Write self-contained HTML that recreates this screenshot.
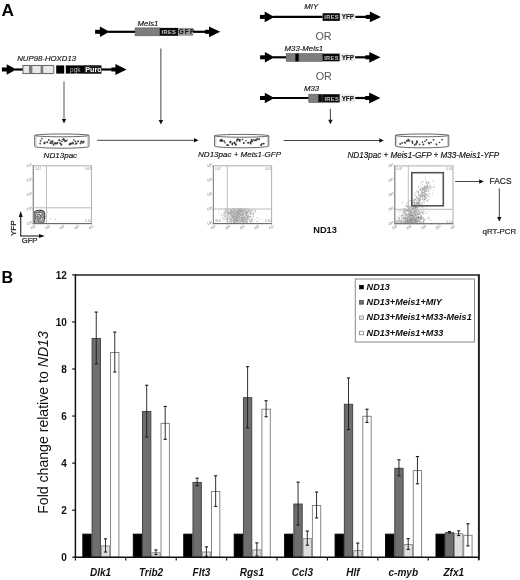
<!DOCTYPE html>
<html><head><meta charset="utf-8"><title>Figure</title>
<style>
html,body{margin:0;padding:0;background:#fff;}
body{width:520px;height:580px;overflow:hidden;}
svg{display:block;font-family:'Liberation Sans', Arial, sans-serif;}
</style></head>
<body>
<svg width="520" height="580" viewBox="0 0 520 580">
<rect x="1.90" y="67.50" width="5.40" height="4.00" fill="#000" stroke="none" stroke-width="0" />
<polygon points="6.70,64.20 16.30,69.50 6.70,74.80" fill="#000"/>
<line x1="14.90" y1="69.50" x2="23.00" y2="69.50" stroke="#000" stroke-width="2.2" />
<rect x="22.90" y="65.40" width="30.50" height="8.20" fill="#e9e9e9" stroke="#555" stroke-width="0.9" />
<rect x="29.00" y="65.80" width="3.40" height="7.40" fill="#7a7a7a" stroke="none" stroke-width="0" />
<rect x="40.60" y="65.80" width="2.60" height="7.40" fill="#7a7a7a" stroke="none" stroke-width="0" />
<rect x="53.20" y="65.40" width="1.40" height="8.20" fill="#999" stroke="none" stroke-width="0" />
<rect x="54.60" y="65.40" width="1.60" height="8.20" fill="#fff" stroke="none" stroke-width="0" />
<rect x="56.20" y="65.40" width="8.00" height="8.20" fill="#000" stroke="none" stroke-width="0" />
<rect x="65.80" y="65.40" width="35.50" height="8.20" fill="#000" stroke="none" stroke-width="0" />
<rect x="84.20" y="65.70" width="17.10" height="7.60" fill="#1c1c1c" stroke="none" stroke-width="0" />
<text x="70.0" y="72.3" font-size="6.6" font-weight="normal" font-style="normal" fill="#bbb" text-anchor="start" >pgk</text>
<text x="85.3" y="72.4" font-size="7.2" font-weight="bold" font-style="normal" fill="#fff" text-anchor="start" >Puro</text>
<line x1="101.30" y1="69.50" x2="113.60" y2="69.50" stroke="#000" stroke-width="2.2" />
<rect x="111.40" y="67.50" width="5.20" height="4.00" fill="#000" stroke="none" stroke-width="0" />
<polygon points="115.40,64.10 126.60,69.50 115.40,74.90" fill="#000"/>
<text x="17.2" y="61.3" font-size="7.8" font-weight="normal" font-style="italic" fill="#111" text-anchor="start" stroke="#111" stroke-width="0.15" >NUP98-HOXD13</text>
<rect x="95.10" y="29.80" width="5.40" height="4.00" fill="#000" stroke="none" stroke-width="0" />
<polygon points="99.90,26.50 109.50,31.80 99.90,37.10" fill="#000"/>
<line x1="108.10" y1="31.80" x2="135.10" y2="31.80" stroke="#000" stroke-width="2.2" />
<rect x="135.10" y="27.90" width="24.70" height="7.90" fill="#7d7d7d" stroke="#555" stroke-width="0.6" />
<rect x="159.80" y="27.90" width="18.30" height="7.90" fill="#0a0a0a" stroke="none" stroke-width="0" />
<rect x="178.10" y="27.90" width="15.20" height="7.90" fill="#9a9a9a" stroke="none" stroke-width="0" />
<text x="161.6" y="34.0" font-size="5.7" font-weight="bold" font-style="normal" fill="#ccc" text-anchor="start" letter-spacing="0.35">IRES</text>
<text x="178.5" y="34.4" font-size="6.8" font-weight="bold" font-style="normal" fill="#111" text-anchor="start" letter-spacing="1.0">GFP</text>
<line x1="193.30" y1="31.80" x2="207.20" y2="31.80" stroke="#000" stroke-width="2.2" />
<rect x="205.00" y="29.80" width="5.20" height="4.00" fill="#000" stroke="none" stroke-width="0" />
<polygon points="209.00,26.40 220.20,31.80 209.00,37.20" fill="#000"/>
<text x="137.6" y="25.8" font-size="7.8" font-weight="normal" font-style="italic" fill="#111" text-anchor="start" stroke="#111" stroke-width="0.15" >Meis1</text>
<rect x="259.90" y="14.90" width="5.40" height="4.00" fill="#000" stroke="none" stroke-width="0" />
<polygon points="264.70,11.60 274.30,16.90 264.70,22.20" fill="#000"/>
<line x1="272.90" y1="16.90" x2="322.60" y2="16.90" stroke="#000" stroke-width="2.2" />
<rect x="322.60" y="13.20" width="17.30" height="7.70" fill="#0a0a0a" stroke="none" stroke-width="0" />
<rect x="339.90" y="13.20" width="15.40" height="7.70" fill="#ededed" stroke="none" stroke-width="0" />
<text x="324.3" y="19.3" font-size="5.7" font-weight="bold" font-style="normal" fill="#c8c8c8" text-anchor="start" letter-spacing="0.35">IRES</text>
<text x="341.8" y="19.4" font-size="6.3" font-weight="bold" font-style="normal" fill="#111" text-anchor="start" stroke="#111" stroke-width="0.12" letter-spacing="-0.05">YFP</text>
<line x1="355.30" y1="16.90" x2="368.00" y2="16.90" stroke="#000" stroke-width="2.2" />
<rect x="365.80" y="14.90" width="5.20" height="4.00" fill="#000" stroke="none" stroke-width="0" />
<polygon points="369.80,11.50 381.00,16.90 369.80,22.30" fill="#000"/>
<text x="304.3" y="9.3" font-size="7.8" font-weight="normal" font-style="italic" fill="#111" text-anchor="start" stroke="#111" stroke-width="0.15" >MIY</text>
<text x="315.4" y="39.9" font-size="10.8" font-weight="normal" font-style="normal" fill="#555" text-anchor="start" >OR</text>
<rect x="260.10" y="55.30" width="5.40" height="4.00" fill="#000" stroke="none" stroke-width="0" />
<polygon points="264.90,52.00 274.50,57.30 264.90,62.60" fill="#000"/>
<line x1="273.10" y1="57.30" x2="286.20" y2="57.30" stroke="#000" stroke-width="2.2" />
<rect x="286.20" y="53.60" width="36.40" height="7.70" fill="#7d7d7d" stroke="#555" stroke-width="0.6" />
<rect x="295.40" y="53.60" width="3.30" height="7.70" fill="#000" stroke="none" stroke-width="0" />
<rect x="322.60" y="53.60" width="17.20" height="7.70" fill="#0a0a0a" stroke="none" stroke-width="0" />
<rect x="339.80" y="53.60" width="15.30" height="7.70" fill="#ededed" stroke="none" stroke-width="0" />
<text x="324.2" y="59.7" font-size="5.7" font-weight="bold" font-style="normal" fill="#c8c8c8" text-anchor="start" letter-spacing="0.35">IRES</text>
<text x="341.7" y="59.8" font-size="6.3" font-weight="bold" font-style="normal" fill="#111" text-anchor="start" stroke="#111" stroke-width="0.12" letter-spacing="-0.05">YFP</text>
<line x1="355.10" y1="57.30" x2="367.50" y2="57.30" stroke="#000" stroke-width="2.2" />
<rect x="365.30" y="55.30" width="5.20" height="4.00" fill="#000" stroke="none" stroke-width="0" />
<polygon points="369.30,51.90 380.50,57.30 369.30,62.70" fill="#000"/>
<text x="284.6" y="51.2" font-size="7.8" font-weight="normal" font-style="italic" fill="#111" text-anchor="start" stroke="#111" stroke-width="0.15" >M33-Meis1</text>
<text x="315.7" y="79.8" font-size="10.8" font-weight="normal" font-style="normal" fill="#555" text-anchor="start" >OR</text>
<rect x="260.00" y="96.00" width="5.40" height="4.00" fill="#000" stroke="none" stroke-width="0" />
<polygon points="264.80,92.70 274.40,98.00 264.80,103.30" fill="#000"/>
<line x1="273.00" y1="98.00" x2="308.80" y2="98.00" stroke="#000" stroke-width="2.2" />
<rect x="308.80" y="94.20" width="9.50" height="8.30" fill="#7d7d7d" stroke="#555" stroke-width="0.6" />
<rect x="318.30" y="94.20" width="21.50" height="8.30" fill="#0a0a0a" stroke="none" stroke-width="0" />
<line x1="322.00" y1="94.70" x2="322.00" y2="102.00" stroke="#bbb" stroke-width="0.6" stroke-dasharray="1,1"/>
<rect x="339.80" y="94.20" width="15.50" height="8.30" fill="#ededed" stroke="none" stroke-width="0" />
<text x="324.4" y="100.5" font-size="5.7" font-weight="bold" font-style="normal" fill="#c8c8c8" text-anchor="start" letter-spacing="0.35">IRES</text>
<text x="341.7" y="100.6" font-size="6.3" font-weight="bold" font-style="normal" fill="#111" text-anchor="start" stroke="#111" stroke-width="0.12" letter-spacing="-0.05">YFP</text>
<line x1="355.30" y1="98.00" x2="367.40" y2="98.00" stroke="#000" stroke-width="2.2" />
<rect x="365.20" y="96.00" width="5.20" height="4.00" fill="#000" stroke="none" stroke-width="0" />
<polygon points="369.20,92.60 380.40,98.00 369.20,103.40" fill="#000"/>
<text x="303.9" y="90.6" font-size="7.8" font-weight="normal" font-style="italic" fill="#111" text-anchor="start" stroke="#111" stroke-width="0.15" >M33</text>
<line x1="64.00" y1="81.40" x2="64.00" y2="119.90" stroke="#555" stroke-width="1" />
<polygon points="61.80,118.90 66.20,118.90 64.00,123.40" fill="#111"/>
<line x1="160.90" y1="48.50" x2="160.90" y2="120.90" stroke="#444" stroke-width="1" />
<polygon points="158.70,119.90 163.10,119.90 160.90,124.40" fill="#111"/>
<line x1="330.40" y1="108.70" x2="330.40" y2="120.70" stroke="#444" stroke-width="1" />
<polygon points="328.20,119.70 332.60,119.70 330.40,124.20" fill="#111"/>
<line x1="97.30" y1="140.30" x2="195.00" y2="140.30" stroke="#444" stroke-width="1" />
<polygon points="194.00,138.10 194.00,142.50 198.50,140.30" fill="#111"/>
<line x1="283.70" y1="140.50" x2="380.30" y2="140.50" stroke="#444" stroke-width="1" />
<polygon points="379.30,138.30 379.30,142.70 383.80,140.50" fill="#111"/>
<line x1="455.20" y1="181.50" x2="480.20" y2="181.50" stroke="#444" stroke-width="1" />
<polygon points="479.20,179.30 479.20,183.70 483.70,181.50" fill="#111"/>
<line x1="499.30" y1="188.40" x2="499.30" y2="218.00" stroke="#444" stroke-width="1" />
<polygon points="497.10,217.00 501.50,217.00 499.30,221.50" fill="#111"/>
<path d="M34.70,135.40 L34.70,146.40 A27.15,1.80 0 0 0 89.00,146.40 L89.00,135.40" fill="#fff" stroke="#555" stroke-width="0.9"/>
<ellipse cx="61.85" cy="135.40" rx="27.15" ry="1.40" fill="#fff" stroke="#555" stroke-width="0.9"/>
<line x1="36.00" y1="136.60" x2="36.00" y2="145.90" stroke="#aaa" stroke-width="0.6" />
<line x1="87.70" y1="136.60" x2="87.70" y2="145.90" stroke="#aaa" stroke-width="0.6" />
<circle cx="40.17" cy="143.61" r="0.88" fill="#3c3c3c"/>
<circle cx="40.53" cy="140.77" r="0.87" fill="#3c3c3c"/>
<circle cx="41.85" cy="138.60" r="0.87" fill="#3c3c3c"/>
<circle cx="43.93" cy="143.12" r="0.78" fill="#3c3c3c"/>
<circle cx="44.80" cy="142.39" r="0.82" fill="#3c3c3c"/>
<circle cx="44.83" cy="143.61" r="0.82" fill="#3c3c3c"/>
<circle cx="47.26" cy="142.33" r="0.97" fill="#3c3c3c"/>
<circle cx="48.85" cy="139.90" r="0.93" fill="#3c3c3c"/>
<circle cx="51.12" cy="141.30" r="0.83" fill="#3c3c3c"/>
<circle cx="51.24" cy="142.11" r="0.98" fill="#3c3c3c"/>
<circle cx="50.19" cy="143.03" r="0.88" fill="#3c3c3c"/>
<circle cx="51.99" cy="143.26" r="0.94" fill="#3c3c3c"/>
<circle cx="52.66" cy="141.19" r="0.92" fill="#3c3c3c"/>
<circle cx="53.47" cy="144.85" r="0.87" fill="#3c3c3c"/>
<circle cx="55.57" cy="143.12" r="0.82" fill="#3c3c3c"/>
<circle cx="54.42" cy="143.20" r="0.97" fill="#3c3c3c"/>
<circle cx="55.39" cy="143.73" r="0.85" fill="#3c3c3c"/>
<circle cx="57.50" cy="142.79" r="0.93" fill="#3c3c3c"/>
<circle cx="57.00" cy="143.44" r="0.98" fill="#3c3c3c"/>
<circle cx="59.29" cy="140.13" r="0.78" fill="#3c3c3c"/>
<circle cx="59.84" cy="140.50" r="0.81" fill="#3c3c3c"/>
<circle cx="59.18" cy="140.28" r="0.85" fill="#3c3c3c"/>
<circle cx="60.99" cy="143.91" r="0.78" fill="#3c3c3c"/>
<circle cx="60.30" cy="143.18" r="0.90" fill="#3c3c3c"/>
<circle cx="61.44" cy="144.80" r="0.95" fill="#3c3c3c"/>
<circle cx="62.99" cy="139.56" r="0.77" fill="#3c3c3c"/>
<circle cx="61.81" cy="141.31" r="0.82" fill="#3c3c3c"/>
<circle cx="63.38" cy="139.26" r="0.89" fill="#3c3c3c"/>
<circle cx="63.56" cy="139.55" r="0.93" fill="#3c3c3c"/>
<circle cx="64.08" cy="139.68" r="0.87" fill="#3c3c3c"/>
<circle cx="65.02" cy="141.00" r="0.97" fill="#3c3c3c"/>
<circle cx="65.60" cy="141.26" r="0.90" fill="#3c3c3c"/>
<circle cx="66.84" cy="140.39" r="0.81" fill="#3c3c3c"/>
<circle cx="70.16" cy="144.57" r="0.92" fill="#3c3c3c"/>
<circle cx="69.21" cy="144.29" r="0.78" fill="#3c3c3c"/>
<circle cx="70.32" cy="143.51" r="0.98" fill="#3c3c3c"/>
<circle cx="71.79" cy="143.53" r="0.96" fill="#3c3c3c"/>
<circle cx="72.82" cy="142.60" r="0.89" fill="#3c3c3c"/>
<circle cx="73.34" cy="143.79" r="0.82" fill="#3c3c3c"/>
<circle cx="75.31" cy="141.36" r="0.91" fill="#3c3c3c"/>
<circle cx="73.81" cy="139.85" r="0.79" fill="#3c3c3c"/>
<circle cx="75.68" cy="144.03" r="0.84" fill="#3c3c3c"/>
<circle cx="76.40" cy="143.14" r="0.96" fill="#3c3c3c"/>
<circle cx="78.03" cy="141.27" r="0.94" fill="#3c3c3c"/>
<circle cx="80.56" cy="143.40" r="0.85" fill="#3c3c3c"/>
<circle cx="81.94" cy="141.24" r="0.78" fill="#3c3c3c"/>
<circle cx="81.22" cy="141.50" r="0.89" fill="#3c3c3c"/>
<circle cx="81.46" cy="141.93" r="0.88" fill="#3c3c3c"/>
<circle cx="82.96" cy="142.87" r="0.94" fill="#3c3c3c"/>
<circle cx="83.83" cy="141.68" r="0.90" fill="#3c3c3c"/>
<path d="M214.60,135.80 L214.60,146.00 A27.10,1.80 0 0 0 268.80,146.00 L268.80,135.80" fill="#fff" stroke="#555" stroke-width="0.9"/>
<ellipse cx="241.70" cy="135.80" rx="27.10" ry="1.40" fill="#fff" stroke="#555" stroke-width="0.9"/>
<line x1="215.90" y1="137.00" x2="215.90" y2="145.50" stroke="#aaa" stroke-width="0.6" />
<line x1="267.50" y1="137.00" x2="267.50" y2="145.50" stroke="#aaa" stroke-width="0.6" />
<circle cx="220.20" cy="140.50" r="0.92" fill="#333"/>
<circle cx="221.61" cy="139.52" r="0.86" fill="#333"/>
<circle cx="221.28" cy="140.99" r="0.99" fill="#333"/>
<circle cx="222.28" cy="140.52" r="0.87" fill="#333"/>
<circle cx="224.09" cy="141.22" r="0.86" fill="#333"/>
<circle cx="225.09" cy="142.74" r="0.81" fill="#333"/>
<circle cx="227.01" cy="145.10" r="0.95" fill="#333"/>
<circle cx="228.00" cy="145.13" r="0.94" fill="#333"/>
<circle cx="230.61" cy="141.70" r="0.94" fill="#333"/>
<circle cx="230.17" cy="142.48" r="0.89" fill="#333"/>
<circle cx="232.31" cy="144.34" r="0.87" fill="#333"/>
<circle cx="232.50" cy="143.53" r="0.93" fill="#333"/>
<circle cx="234.61" cy="143.08" r="0.95" fill="#333"/>
<circle cx="234.49" cy="142.56" r="0.94" fill="#333"/>
<circle cx="235.91" cy="144.25" r="0.91" fill="#333"/>
<circle cx="235.63" cy="144.83" r="0.88" fill="#333"/>
<circle cx="237.42" cy="139.31" r="0.95" fill="#333"/>
<circle cx="238.60" cy="139.56" r="0.90" fill="#333"/>
<circle cx="236.89" cy="140.82" r="0.92" fill="#333"/>
<circle cx="239.53" cy="139.90" r="0.96" fill="#333"/>
<circle cx="239.85" cy="141.22" r="0.78" fill="#333"/>
<circle cx="239.75" cy="139.80" r="0.92" fill="#333"/>
<circle cx="242.46" cy="139.51" r="0.80" fill="#333"/>
<circle cx="243.80" cy="142.90" r="0.99" fill="#333"/>
<circle cx="245.97" cy="140.77" r="0.79" fill="#333"/>
<circle cx="248.13" cy="142.67" r="0.97" fill="#333"/>
<circle cx="250.66" cy="142.50" r="0.92" fill="#333"/>
<circle cx="250.44" cy="142.32" r="0.94" fill="#333"/>
<circle cx="250.64" cy="143.60" r="0.94" fill="#333"/>
<circle cx="251.53" cy="140.06" r="0.98" fill="#333"/>
<circle cx="252.10" cy="141.19" r="0.98" fill="#333"/>
<circle cx="253.35" cy="139.81" r="0.82" fill="#333"/>
<circle cx="254.69" cy="140.47" r="0.78" fill="#333"/>
<circle cx="255.93" cy="140.37" r="0.95" fill="#333"/>
<circle cx="256.14" cy="139.42" r="0.86" fill="#333"/>
<circle cx="257.62" cy="138.82" r="0.93" fill="#333"/>
<circle cx="259.12" cy="139.25" r="0.88" fill="#333"/>
<circle cx="261.06" cy="145.10" r="0.98" fill="#333"/>
<circle cx="261.99" cy="143.87" r="0.88" fill="#333"/>
<circle cx="263.78" cy="143.62" r="0.92" fill="#333"/>
<path d="M395.40,135.40 L395.40,146.00 A26.70,1.80 0 0 0 448.80,146.00 L448.80,135.40" fill="#fff" stroke="#555" stroke-width="0.9"/>
<ellipse cx="422.10" cy="135.40" rx="26.70" ry="1.40" fill="#fff" stroke="#555" stroke-width="0.9"/>
<line x1="396.70" y1="136.60" x2="396.70" y2="145.50" stroke="#aaa" stroke-width="0.6" />
<line x1="447.50" y1="136.60" x2="447.50" y2="145.50" stroke="#aaa" stroke-width="0.6" />
<circle cx="400.17" cy="144.01" r="0.91" fill="#444"/>
<circle cx="402.07" cy="142.95" r="0.87" fill="#444"/>
<circle cx="404.73" cy="142.39" r="0.96" fill="#444"/>
<circle cx="405.40" cy="142.67" r="0.92" fill="#444"/>
<circle cx="406.66" cy="140.85" r="0.87" fill="#444"/>
<circle cx="407.89" cy="140.89" r="0.93" fill="#444"/>
<circle cx="408.26" cy="139.63" r="0.95" fill="#444"/>
<circle cx="409.32" cy="140.76" r="0.98" fill="#444"/>
<circle cx="412.24" cy="141.52" r="0.90" fill="#444"/>
<circle cx="412.59" cy="142.96" r="0.92" fill="#444"/>
<circle cx="414.73" cy="144.81" r="0.98" fill="#444"/>
<circle cx="416.06" cy="144.05" r="0.93" fill="#444"/>
<circle cx="416.82" cy="142.61" r="0.99" fill="#444"/>
<circle cx="416.87" cy="142.47" r="0.86" fill="#444"/>
<circle cx="416.98" cy="141.15" r="0.94" fill="#444"/>
<circle cx="419.63" cy="144.38" r="0.84" fill="#444"/>
<circle cx="422.47" cy="142.15" r="0.79" fill="#444"/>
<circle cx="423.37" cy="144.60" r="0.98" fill="#444"/>
<circle cx="426.51" cy="139.87" r="0.85" fill="#444"/>
<circle cx="424.99" cy="141.23" r="0.85" fill="#444"/>
<circle cx="428.81" cy="143.03" r="0.98" fill="#444"/>
<circle cx="429.05" cy="143.47" r="0.91" fill="#444"/>
<circle cx="431.24" cy="142.50" r="0.77" fill="#444"/>
<circle cx="431.05" cy="142.59" r="0.77" fill="#444"/>
<circle cx="433.52" cy="139.85" r="0.97" fill="#444"/>
<circle cx="436.60" cy="144.87" r="0.77" fill="#444"/>
<circle cx="436.20" cy="144.02" r="0.84" fill="#444"/>
<circle cx="439.51" cy="142.48" r="0.83" fill="#444"/>
<circle cx="442.15" cy="139.61" r="0.88" fill="#444"/>
<text x="43.6" y="157.5" font-size="8.05" font-weight="normal" font-style="italic" fill="#111" text-anchor="start" stroke="#111" stroke-width="0.15" >ND13pac</text>
<text x="198.1" y="157.4" font-size="8.0" font-weight="normal" font-style="italic" fill="#111" text-anchor="start" stroke="#111" stroke-width="0.15" >ND13pac + Meis1-GFP</text>
<text x="347.4" y="157.7" font-size="8.15" font-weight="normal" font-style="italic" fill="#111" text-anchor="start" stroke="#111" stroke-width="0.15" >ND13pac + Meis1-GFP + M33-Meis1-YFP</text>
<rect x="45.0" y="218.4" width="0.7" height="0.7" fill="#888"/>
<rect x="41.9" y="219.7" width="0.7" height="0.7" fill="#999"/>
<rect x="40.8" y="214.6" width="0.7" height="0.7" fill="#777"/>
<rect x="45.4" y="217.5" width="0.7" height="0.7" fill="#999"/>
<rect x="50.4" y="218.1" width="0.7" height="0.7" fill="#777"/>
<rect x="37.4" y="221.6" width="0.7" height="0.7" fill="#999"/>
<rect x="35.8" y="216.8" width="0.7" height="0.7" fill="#777"/>
<rect x="45.8" y="215.9" width="0.7" height="0.7" fill="#777"/>
<rect x="44.0" y="221.2" width="0.7" height="0.7" fill="#888"/>
<rect x="55.0" y="218.8" width="0.7" height="0.7" fill="#777"/>
<rect x="37.2" y="218.9" width="0.7" height="0.7" fill="#777"/>
<rect x="39.0" y="215.6" width="0.7" height="0.7" fill="#777"/>
<rect x="43.7" y="219.0" width="0.7" height="0.7" fill="#777"/>
<rect x="44.0" y="217.6" width="0.7" height="0.7" fill="#777"/>
<rect x="44.5" y="218.1" width="0.7" height="0.7" fill="#999"/>
<rect x="43.0" y="216.5" width="0.7" height="0.7" fill="#999"/>
<rect x="37.6" y="219.8" width="0.7" height="0.7" fill="#666"/>
<rect x="38.0" y="217.4" width="0.7" height="0.7" fill="#999"/>
<rect x="37.9" y="211.8" width="0.7" height="0.7" fill="#666"/>
<rect x="39.3" y="217.8" width="0.7" height="0.7" fill="#666"/>
<rect x="44.7" y="216.5" width="0.7" height="0.7" fill="#666"/>
<rect x="39.8" y="214.5" width="0.7" height="0.7" fill="#666"/>
<rect x="47.5" y="212.4" width="0.7" height="0.7" fill="#888"/>
<rect x="36.4" y="217.8" width="0.7" height="0.7" fill="#777"/>
<rect x="41.1" y="216.0" width="0.7" height="0.7" fill="#999"/>
<path d="M34.3,212.2 C35.5,210.6 38.5,210.0 41.0,210.4 C43.6,210.8 44.8,212.0 44.7,214.5 C44.6,217.5 44.4,220.5 43.6,222.3 C42.8,223.4 40.0,223.4 37.0,223.3 C35.0,223.2 34.2,222.5 34.1,219.5 C34.0,216.5 33.9,213.5 34.3,212.2 Z" fill="#d8d8d8" stroke="#3c3c3c" stroke-width="1.1"/>
<path d="M35.8,213.4 C37.0,212.3 39.5,212.0 41.4,212.6 C43.0,213.2 43.1,215.5 42.9,218.0 C42.7,220.3 42.0,221.6 40.0,221.7 C37.8,221.8 36.1,221.4 35.8,219.5 C35.5,217.5 35.4,214.5 35.8,213.4 Z" fill="#e8e8e8" stroke="#555" stroke-width="0.9"/>
<ellipse cx="38.9" cy="216.8" rx="1.9" ry="2.6" fill="#bbb" stroke="#444" stroke-width="0.8"/>
<rect x="37.0" y="220.9" width="0.8" height="0.8" fill="#999"/>
<rect x="39.2" y="217.2" width="0.8" height="0.8" fill="#999"/>
<rect x="43.8" y="212.5" width="0.8" height="0.8" fill="#777"/>
<rect x="39.9" y="221.2" width="0.8" height="0.8" fill="#999"/>
<rect x="35.3" y="213.5" width="0.8" height="0.8" fill="#555"/>
<rect x="41.6" y="211.8" width="0.8" height="0.8" fill="#777"/>
<rect x="38.8" y="211.7" width="0.8" height="0.8" fill="#555"/>
<rect x="37.3" y="217.4" width="0.8" height="0.8" fill="#555"/>
<rect x="35.5" y="212.7" width="0.8" height="0.8" fill="#777"/>
<rect x="43.8" y="218.9" width="0.8" height="0.8" fill="#999"/>
<rect x="39.5" y="222.4" width="0.8" height="0.8" fill="#999"/>
<rect x="34.9" y="211.2" width="0.8" height="0.8" fill="#777"/>
<rect x="41.2" y="222.6" width="0.8" height="0.8" fill="#555"/>
<rect x="40.2" y="211.9" width="0.8" height="0.8" fill="#555"/>
<rect x="41.5" y="214.8" width="0.8" height="0.8" fill="#555"/>
<rect x="35.3" y="217.6" width="0.8" height="0.8" fill="#999"/>
<rect x="35.0" y="222.2" width="0.8" height="0.8" fill="#999"/>
<rect x="41.2" y="220.5" width="0.8" height="0.8" fill="#777"/>
<rect x="37.9" y="219.2" width="0.8" height="0.8" fill="#555"/>
<rect x="42.8" y="216.0" width="0.8" height="0.8" fill="#555"/>
<rect x="42.7" y="217.9" width="0.8" height="0.8" fill="#999"/>
<rect x="40.8" y="215.6" width="0.8" height="0.8" fill="#555"/>
<rect x="40.3" y="212.0" width="0.8" height="0.8" fill="#999"/>
<rect x="35.7" y="214.1" width="0.8" height="0.8" fill="#777"/>
<rect x="41.4" y="215.7" width="0.8" height="0.8" fill="#999"/>
<rect x="41.1" y="216.5" width="0.8" height="0.8" fill="#777"/>
<rect x="42.5" y="212.0" width="0.8" height="0.8" fill="#999"/>
<rect x="34.9" y="218.2" width="0.8" height="0.8" fill="#777"/>
<rect x="34.8" y="222.5" width="0.8" height="0.8" fill="#555"/>
<rect x="39.3" y="218.4" width="0.8" height="0.8" fill="#777"/>
<rect x="37.0" y="211.1" width="0.8" height="0.8" fill="#777"/>
<rect x="35.9" y="218.3" width="0.8" height="0.8" fill="#999"/>
<rect x="36.2" y="221.9" width="0.8" height="0.8" fill="#999"/>
<rect x="43.3" y="217.0" width="0.8" height="0.8" fill="#555"/>
<rect x="37.7" y="219.0" width="0.8" height="0.8" fill="#555"/>
<rect x="40.6" y="220.6" width="0.8" height="0.8" fill="#555"/>
<rect x="42.9" y="215.6" width="0.8" height="0.8" fill="#999"/>
<rect x="43.3" y="213.5" width="0.8" height="0.8" fill="#555"/>
<rect x="39.3" y="221.0" width="0.8" height="0.8" fill="#555"/>
<rect x="41.3" y="222.4" width="0.8" height="0.8" fill="#777"/>
<rect x="42.3" y="212.4" width="0.8" height="0.8" fill="#777"/>
<rect x="37.2" y="213.6" width="0.8" height="0.8" fill="#777"/>
<rect x="38.2" y="217.2" width="0.8" height="0.8" fill="#999"/>
<rect x="37.6" y="221.1" width="0.8" height="0.8" fill="#999"/>
<rect x="38.9" y="211.9" width="0.8" height="0.8" fill="#555"/>
<rect x="37.2" y="218.3" width="0.8" height="0.8" fill="#999"/>
<rect x="41.3" y="217.8" width="0.8" height="0.8" fill="#777"/>
<rect x="40.7" y="217.8" width="0.8" height="0.8" fill="#999"/>
<rect x="35.9" y="216.5" width="0.8" height="0.8" fill="#555"/>
<rect x="41.8" y="214.2" width="0.8" height="0.8" fill="#555"/>
<rect x="42.1" y="222.8" width="0.8" height="0.8" fill="#555"/>
<rect x="38.8" y="218.6" width="0.8" height="0.8" fill="#999"/>
<rect x="40.6" y="215.4" width="0.8" height="0.8" fill="#555"/>
<rect x="41.0" y="213.4" width="0.8" height="0.8" fill="#777"/>
<rect x="37.0" y="219.6" width="0.8" height="0.8" fill="#777"/>
<rect x="39.6" y="211.4" width="0.8" height="0.8" fill="#555"/>
<rect x="37.2" y="215.1" width="0.8" height="0.8" fill="#999"/>
<rect x="43.5" y="217.0" width="0.8" height="0.8" fill="#555"/>
<rect x="38.3" y="220.5" width="0.8" height="0.8" fill="#555"/>
<rect x="35.4" y="222.2" width="0.8" height="0.8" fill="#999"/>
<rect x="38.2" y="216.4" width="0.8" height="0.8" fill="#555"/>
<rect x="40.5" y="221.9" width="0.8" height="0.8" fill="#777"/>
<rect x="39.8" y="218.8" width="0.8" height="0.8" fill="#999"/>
<rect x="42.1" y="222.3" width="0.8" height="0.8" fill="#777"/>
<rect x="37.7" y="222.8" width="0.8" height="0.8" fill="#555"/>
<rect x="41.4" y="220.8" width="0.8" height="0.8" fill="#999"/>
<rect x="43.3" y="212.5" width="0.8" height="0.8" fill="#555"/>
<rect x="43.1" y="222.8" width="0.8" height="0.8" fill="#777"/>
<rect x="39.6" y="220.5" width="0.8" height="0.8" fill="#777"/>
<rect x="37.1" y="219.6" width="0.8" height="0.8" fill="#555"/>
<rect x="37.9" y="212.0" width="0.8" height="0.8" fill="#777"/>
<rect x="37.8" y="216.1" width="0.8" height="0.8" fill="#777"/>
<rect x="39.2" y="211.3" width="0.8" height="0.8" fill="#555"/>
<rect x="38.6" y="211.4" width="0.8" height="0.8" fill="#999"/>
<rect x="37.7" y="220.5" width="0.8" height="0.8" fill="#555"/>
<rect x="39.0" y="223.0" width="0.8" height="0.8" fill="#999"/>
<rect x="39.5" y="219.1" width="0.8" height="0.8" fill="#777"/>
<rect x="43.5" y="216.9" width="0.8" height="0.8" fill="#999"/>
<rect x="35.4" y="213.7" width="0.8" height="0.8" fill="#999"/>
<rect x="39.9" y="221.0" width="0.8" height="0.8" fill="#999"/>
<rect x="40.6" y="217.3" width="0.8" height="0.8" fill="#999"/>
<rect x="37.0" y="219.1" width="0.8" height="0.8" fill="#999"/>
<rect x="36.6" y="221.2" width="0.8" height="0.8" fill="#999"/>
<rect x="39.5" y="217.9" width="0.8" height="0.8" fill="#555"/>
<rect x="38.5" y="212.4" width="0.8" height="0.8" fill="#555"/>
<rect x="40.3" y="211.3" width="0.8" height="0.8" fill="#555"/>
<rect x="39.5" y="215.8" width="0.8" height="0.8" fill="#999"/>
<rect x="35.7" y="212.1" width="0.8" height="0.8" fill="#555"/>
<rect x="35.2" y="217.5" width="0.8" height="0.8" fill="#777"/>
<rect x="43.3" y="220.6" width="0.8" height="0.8" fill="#777"/>
<line x1="46.50" y1="165.80" x2="46.50" y2="223.60" stroke="#b0b0b0" stroke-width="0.8" />
<line x1="33.30" y1="207.80" x2="91.50" y2="207.80" stroke="#bbb" stroke-width="1.0" />
<rect x="33.30" y="165.80" width="58.20" height="57.80" fill="none" stroke="#b4b4b4" stroke-width="1.1"/>
<line x1="33.30" y1="223.60" x2="91.50" y2="223.60" stroke="#666" stroke-width="1" />
<line x1="33.30" y1="165.80" x2="33.30" y2="223.60" stroke="#888" stroke-width="1" />
<line x1="31.80" y1="223.60" x2="33.30" y2="223.60" stroke="#999" stroke-width="0.6" />
<text transform="translate(27.1,225.0) rotate(-14)" font-size="3.6" fill="#666">10<tspan dy="-1.3" font-size="2.5">0</tspan></text>
<line x1="33.30" y1="223.60" x2="33.30" y2="225.10" stroke="#999" stroke-width="0.6" />
<text transform="translate(30.7,229.2) rotate(-14)" font-size="3.6" fill="#666">10<tspan dy="-1.3" font-size="2.5">0</tspan></text>
<line x1="31.80" y1="209.15" x2="33.30" y2="209.15" stroke="#999" stroke-width="0.6" />
<text transform="translate(27.1,210.6) rotate(-14)" font-size="3.6" fill="#666">10<tspan dy="-1.3" font-size="2.5">1</tspan></text>
<line x1="47.85" y1="223.60" x2="47.85" y2="225.10" stroke="#999" stroke-width="0.6" />
<text transform="translate(45.2,229.2) rotate(-14)" font-size="3.6" fill="#666">10<tspan dy="-1.3" font-size="2.5">1</tspan></text>
<line x1="31.80" y1="194.70" x2="33.30" y2="194.70" stroke="#999" stroke-width="0.6" />
<text transform="translate(27.1,196.1) rotate(-14)" font-size="3.6" fill="#666">10<tspan dy="-1.3" font-size="2.5">2</tspan></text>
<line x1="62.40" y1="223.60" x2="62.40" y2="225.10" stroke="#999" stroke-width="0.6" />
<text transform="translate(59.8,229.2) rotate(-14)" font-size="3.6" fill="#666">10<tspan dy="-1.3" font-size="2.5">2</tspan></text>
<line x1="31.80" y1="180.25" x2="33.30" y2="180.25" stroke="#999" stroke-width="0.6" />
<text transform="translate(27.1,181.7) rotate(-14)" font-size="3.6" fill="#666">10<tspan dy="-1.3" font-size="2.5">3</tspan></text>
<line x1="76.95" y1="223.60" x2="76.95" y2="225.10" stroke="#999" stroke-width="0.6" />
<text transform="translate(74.4,229.2) rotate(-14)" font-size="3.6" fill="#666">10<tspan dy="-1.3" font-size="2.5">3</tspan></text>
<line x1="31.80" y1="165.80" x2="33.30" y2="165.80" stroke="#999" stroke-width="0.6" />
<text transform="translate(27.1,167.2) rotate(-14)" font-size="3.6" fill="#666">10<tspan dy="-1.3" font-size="2.5">4</tspan></text>
<line x1="91.50" y1="223.60" x2="91.50" y2="225.10" stroke="#999" stroke-width="0.6" />
<text transform="translate(88.9,229.2) rotate(-14)" font-size="3.6" fill="#666">10<tspan dy="-1.3" font-size="2.5">4</tspan></text>
<text x="35.1" y="169.6" font-size="3.0" fill="#888">0.47</text>
<text x="85.0" y="169.6" font-size="3.0" fill="#888">0.03</text>
<text x="35.1" y="222.4" font-size="3.0" fill="#888">99.4</text>
<text x="85.0" y="222.4" font-size="3.0" fill="#888">0.10</text>
<rect x="227.8" y="213.1" width="0.7" height="0.7" fill="#aaa"/>
<rect x="238.5" y="216.9" width="0.7" height="0.7" fill="#aaa"/>
<rect x="236.0" y="214.0" width="0.7" height="0.7" fill="#aaa"/>
<rect x="230.7" y="212.3" width="0.7" height="0.7" fill="#c4c4c4"/>
<rect x="242.5" y="220.6" width="0.7" height="0.7" fill="#c4c4c4"/>
<rect x="239.9" y="210.7" width="0.7" height="0.7" fill="#888"/>
<rect x="247.4" y="217.9" width="0.7" height="0.7" fill="#bbb"/>
<rect x="226.8" y="223.1" width="0.7" height="0.7" fill="#bbb"/>
<rect x="252.3" y="215.6" width="0.7" height="0.7" fill="#c4c4c4"/>
<rect x="255.3" y="210.6" width="0.7" height="0.7" fill="#888"/>
<rect x="243.5" y="220.8" width="0.7" height="0.7" fill="#999"/>
<rect x="234.2" y="220.9" width="0.7" height="0.7" fill="#888"/>
<rect x="237.2" y="219.5" width="0.7" height="0.7" fill="#999"/>
<rect x="240.7" y="215.5" width="0.7" height="0.7" fill="#c4c4c4"/>
<rect x="231.3" y="216.2" width="0.7" height="0.7" fill="#999"/>
<rect x="249.0" y="209.3" width="0.7" height="0.7" fill="#888"/>
<rect x="248.1" y="216.9" width="0.7" height="0.7" fill="#bbb"/>
<rect x="230.9" y="213.7" width="0.7" height="0.7" fill="#888"/>
<rect x="241.8" y="217.4" width="0.7" height="0.7" fill="#c4c4c4"/>
<rect x="225.2" y="215.0" width="0.7" height="0.7" fill="#aaa"/>
<rect x="250.7" y="216.3" width="0.7" height="0.7" fill="#aaa"/>
<rect x="233.0" y="216.0" width="0.7" height="0.7" fill="#c4c4c4"/>
<rect x="228.7" y="221.7" width="0.7" height="0.7" fill="#c4c4c4"/>
<rect x="233.7" y="212.3" width="0.7" height="0.7" fill="#bbb"/>
<rect x="243.4" y="217.4" width="0.7" height="0.7" fill="#bbb"/>
<rect x="236.4" y="215.5" width="0.7" height="0.7" fill="#c4c4c4"/>
<rect x="239.4" y="216.0" width="0.7" height="0.7" fill="#bbb"/>
<rect x="245.6" y="208.9" width="0.7" height="0.7" fill="#c4c4c4"/>
<rect x="245.8" y="218.5" width="0.7" height="0.7" fill="#999"/>
<rect x="242.2" y="210.9" width="0.7" height="0.7" fill="#bbb"/>
<rect x="243.4" y="211.6" width="0.7" height="0.7" fill="#c4c4c4"/>
<rect x="235.1" y="222.9" width="0.7" height="0.7" fill="#bbb"/>
<rect x="247.3" y="209.1" width="0.7" height="0.7" fill="#888"/>
<rect x="246.2" y="222.1" width="0.7" height="0.7" fill="#999"/>
<rect x="232.5" y="212.0" width="0.7" height="0.7" fill="#999"/>
<rect x="234.7" y="214.3" width="0.7" height="0.7" fill="#888"/>
<rect x="228.2" y="218.6" width="0.7" height="0.7" fill="#c4c4c4"/>
<rect x="251.9" y="219.3" width="0.7" height="0.7" fill="#999"/>
<rect x="234.2" y="219.7" width="0.7" height="0.7" fill="#bbb"/>
<rect x="245.8" y="212.2" width="0.7" height="0.7" fill="#c4c4c4"/>
<rect x="236.5" y="217.5" width="0.7" height="0.7" fill="#c4c4c4"/>
<rect x="237.6" y="213.7" width="0.7" height="0.7" fill="#888"/>
<rect x="247.8" y="217.4" width="0.7" height="0.7" fill="#888"/>
<rect x="238.3" y="209.7" width="0.7" height="0.7" fill="#999"/>
<rect x="228.8" y="209.2" width="0.7" height="0.7" fill="#c4c4c4"/>
<rect x="249.4" y="215.9" width="0.7" height="0.7" fill="#999"/>
<rect x="225.1" y="210.4" width="0.7" height="0.7" fill="#888"/>
<rect x="232.2" y="216.5" width="0.7" height="0.7" fill="#aaa"/>
<rect x="237.1" y="221.2" width="0.7" height="0.7" fill="#888"/>
<rect x="234.1" y="209.5" width="0.7" height="0.7" fill="#999"/>
<rect x="250.2" y="213.6" width="0.7" height="0.7" fill="#999"/>
<rect x="239.6" y="220.1" width="0.7" height="0.7" fill="#888"/>
<rect x="234.2" y="210.0" width="0.7" height="0.7" fill="#888"/>
<rect x="234.6" y="212.5" width="0.7" height="0.7" fill="#999"/>
<rect x="244.0" y="213.1" width="0.7" height="0.7" fill="#888"/>
<rect x="233.8" y="216.7" width="0.7" height="0.7" fill="#aaa"/>
<rect x="233.2" y="221.3" width="0.7" height="0.7" fill="#aaa"/>
<rect x="243.0" y="212.9" width="0.7" height="0.7" fill="#aaa"/>
<rect x="238.5" y="208.3" width="0.7" height="0.7" fill="#888"/>
<rect x="236.8" y="215.4" width="0.7" height="0.7" fill="#c4c4c4"/>
<rect x="233.8" y="213.0" width="0.7" height="0.7" fill="#bbb"/>
<rect x="235.1" y="218.0" width="0.7" height="0.7" fill="#aaa"/>
<rect x="238.7" y="217.0" width="0.7" height="0.7" fill="#888"/>
<rect x="237.0" y="216.5" width="0.7" height="0.7" fill="#888"/>
<rect x="240.8" y="216.8" width="0.7" height="0.7" fill="#aaa"/>
<rect x="236.6" y="215.1" width="0.7" height="0.7" fill="#bbb"/>
<rect x="227.3" y="217.6" width="0.7" height="0.7" fill="#bbb"/>
<rect x="224.6" y="211.1" width="0.7" height="0.7" fill="#bbb"/>
<rect x="239.1" y="212.6" width="0.7" height="0.7" fill="#888"/>
<rect x="229.6" y="213.7" width="0.7" height="0.7" fill="#c4c4c4"/>
<rect x="246.7" y="212.5" width="0.7" height="0.7" fill="#aaa"/>
<rect x="231.2" y="218.6" width="0.7" height="0.7" fill="#c4c4c4"/>
<rect x="231.3" y="217.8" width="0.7" height="0.7" fill="#bbb"/>
<rect x="241.2" y="214.9" width="0.7" height="0.7" fill="#888"/>
<rect x="237.9" y="211.3" width="0.7" height="0.7" fill="#aaa"/>
<rect x="234.3" y="215.6" width="0.7" height="0.7" fill="#bbb"/>
<rect x="227.0" y="210.9" width="0.7" height="0.7" fill="#c4c4c4"/>
<rect x="236.3" y="213.6" width="0.7" height="0.7" fill="#bbb"/>
<rect x="243.2" y="210.4" width="0.7" height="0.7" fill="#888"/>
<rect x="229.6" y="219.0" width="0.7" height="0.7" fill="#aaa"/>
<rect x="232.2" y="217.1" width="0.7" height="0.7" fill="#aaa"/>
<rect x="227.6" y="220.6" width="0.7" height="0.7" fill="#999"/>
<rect x="239.4" y="209.6" width="0.7" height="0.7" fill="#aaa"/>
<rect x="235.6" y="210.7" width="0.7" height="0.7" fill="#aaa"/>
<rect x="247.0" y="216.0" width="0.7" height="0.7" fill="#999"/>
<rect x="237.3" y="219.6" width="0.7" height="0.7" fill="#999"/>
<rect x="246.7" y="218.0" width="0.7" height="0.7" fill="#c4c4c4"/>
<rect x="239.0" y="217.6" width="0.7" height="0.7" fill="#999"/>
<rect x="242.2" y="219.9" width="0.7" height="0.7" fill="#c4c4c4"/>
<rect x="236.6" y="218.8" width="0.7" height="0.7" fill="#bbb"/>
<rect x="240.3" y="211.0" width="0.7" height="0.7" fill="#c4c4c4"/>
<rect x="235.4" y="212.4" width="0.7" height="0.7" fill="#999"/>
<rect x="230.5" y="214.5" width="0.7" height="0.7" fill="#999"/>
<rect x="230.6" y="213.9" width="0.7" height="0.7" fill="#bbb"/>
<rect x="232.7" y="212.6" width="0.7" height="0.7" fill="#c4c4c4"/>
<rect x="232.4" y="215.4" width="0.7" height="0.7" fill="#888"/>
<rect x="236.7" y="208.9" width="0.7" height="0.7" fill="#bbb"/>
<rect x="224.2" y="212.7" width="0.7" height="0.7" fill="#999"/>
<rect x="248.1" y="215.8" width="0.7" height="0.7" fill="#999"/>
<rect x="230.0" y="212.4" width="0.7" height="0.7" fill="#888"/>
<rect x="239.9" y="221.1" width="0.7" height="0.7" fill="#aaa"/>
<rect x="240.2" y="221.8" width="0.7" height="0.7" fill="#aaa"/>
<rect x="243.2" y="220.7" width="0.7" height="0.7" fill="#aaa"/>
<rect x="234.1" y="208.0" width="0.7" height="0.7" fill="#888"/>
<rect x="249.1" y="208.9" width="0.7" height="0.7" fill="#999"/>
<rect x="242.9" y="209.6" width="0.7" height="0.7" fill="#999"/>
<rect x="233.2" y="211.8" width="0.7" height="0.7" fill="#888"/>
<rect x="230.1" y="218.1" width="0.7" height="0.7" fill="#c4c4c4"/>
<rect x="238.1" y="214.0" width="0.7" height="0.7" fill="#c4c4c4"/>
<rect x="257.6" y="210.9" width="0.7" height="0.7" fill="#bbb"/>
<rect x="244.0" y="217.6" width="0.7" height="0.7" fill="#888"/>
<rect x="246.3" y="212.3" width="0.7" height="0.7" fill="#888"/>
<rect x="242.9" y="215.4" width="0.7" height="0.7" fill="#bbb"/>
<rect x="236.3" y="210.2" width="0.7" height="0.7" fill="#c4c4c4"/>
<rect x="234.2" y="211.0" width="0.7" height="0.7" fill="#888"/>
<rect x="245.9" y="219.3" width="0.7" height="0.7" fill="#c4c4c4"/>
<rect x="231.7" y="216.3" width="0.7" height="0.7" fill="#888"/>
<rect x="238.7" y="214.4" width="0.7" height="0.7" fill="#aaa"/>
<rect x="244.0" y="209.9" width="0.7" height="0.7" fill="#999"/>
<rect x="237.7" y="215.6" width="0.7" height="0.7" fill="#aaa"/>
<rect x="247.1" y="214.1" width="0.7" height="0.7" fill="#bbb"/>
<rect x="242.0" y="214.7" width="0.7" height="0.7" fill="#999"/>
<rect x="231.9" y="217.4" width="0.7" height="0.7" fill="#bbb"/>
<rect x="223.0" y="219.6" width="0.7" height="0.7" fill="#c4c4c4"/>
<rect x="230.1" y="219.7" width="0.7" height="0.7" fill="#888"/>
<rect x="234.1" y="217.9" width="0.7" height="0.7" fill="#bbb"/>
<rect x="233.5" y="209.9" width="0.7" height="0.7" fill="#aaa"/>
<rect x="236.1" y="213.7" width="0.7" height="0.7" fill="#999"/>
<rect x="231.2" y="213.7" width="0.7" height="0.7" fill="#c4c4c4"/>
<rect x="247.2" y="221.4" width="0.7" height="0.7" fill="#888"/>
<rect x="237.9" y="210.2" width="0.7" height="0.7" fill="#999"/>
<rect x="235.9" y="215.5" width="0.7" height="0.7" fill="#888"/>
<rect x="235.2" y="220.3" width="0.7" height="0.7" fill="#999"/>
<rect x="241.2" y="214.3" width="0.7" height="0.7" fill="#aaa"/>
<rect x="231.1" y="208.6" width="0.7" height="0.7" fill="#bbb"/>
<rect x="222.0" y="217.1" width="0.7" height="0.7" fill="#999"/>
<rect x="231.4" y="212.4" width="0.7" height="0.7" fill="#999"/>
<rect x="237.9" y="214.2" width="0.7" height="0.7" fill="#999"/>
<rect x="236.7" y="212.0" width="0.7" height="0.7" fill="#bbb"/>
<rect x="229.6" y="216.2" width="0.7" height="0.7" fill="#bbb"/>
<rect x="237.4" y="210.2" width="0.7" height="0.7" fill="#999"/>
<rect x="239.6" y="208.2" width="0.7" height="0.7" fill="#bbb"/>
<rect x="241.2" y="210.4" width="0.7" height="0.7" fill="#bbb"/>
<rect x="232.6" y="218.8" width="0.7" height="0.7" fill="#c4c4c4"/>
<rect x="235.9" y="221.8" width="0.7" height="0.7" fill="#aaa"/>
<rect x="242.4" y="220.4" width="0.7" height="0.7" fill="#888"/>
<rect x="247.4" y="217.8" width="0.7" height="0.7" fill="#aaa"/>
<rect x="228.4" y="209.5" width="0.7" height="0.7" fill="#c4c4c4"/>
<rect x="241.0" y="210.8" width="0.7" height="0.7" fill="#aaa"/>
<rect x="251.6" y="213.7" width="0.7" height="0.7" fill="#aaa"/>
<rect x="234.9" y="210.1" width="0.7" height="0.7" fill="#c4c4c4"/>
<rect x="238.8" y="210.2" width="0.7" height="0.7" fill="#888"/>
<rect x="237.3" y="210.8" width="0.7" height="0.7" fill="#999"/>
<rect x="245.4" y="220.2" width="0.7" height="0.7" fill="#c4c4c4"/>
<rect x="244.9" y="211.9" width="0.7" height="0.7" fill="#c4c4c4"/>
<rect x="236.6" y="215.2" width="0.7" height="0.7" fill="#c4c4c4"/>
<rect x="233.4" y="221.8" width="0.7" height="0.7" fill="#888"/>
<rect x="245.4" y="213.8" width="0.7" height="0.7" fill="#bbb"/>
<rect x="246.1" y="213.0" width="0.7" height="0.7" fill="#c4c4c4"/>
<rect x="224.8" y="216.4" width="0.7" height="0.7" fill="#bbb"/>
<rect x="239.2" y="211.1" width="0.7" height="0.7" fill="#999"/>
<rect x="228.3" y="208.5" width="0.7" height="0.7" fill="#bbb"/>
<rect x="239.2" y="212.0" width="0.7" height="0.7" fill="#aaa"/>
<rect x="237.7" y="210.5" width="0.7" height="0.7" fill="#bbb"/>
<rect x="231.7" y="211.6" width="0.7" height="0.7" fill="#999"/>
<rect x="234.1" y="221.6" width="0.7" height="0.7" fill="#999"/>
<rect x="239.4" y="209.1" width="0.7" height="0.7" fill="#c4c4c4"/>
<rect x="243.9" y="221.1" width="0.7" height="0.7" fill="#c4c4c4"/>
<rect x="246.3" y="219.4" width="0.7" height="0.7" fill="#c4c4c4"/>
<rect x="244.3" y="207.5" width="0.7" height="0.7" fill="#bbb"/>
<rect x="239.1" y="213.8" width="0.7" height="0.7" fill="#999"/>
<rect x="236.1" y="213.4" width="0.7" height="0.7" fill="#999"/>
<rect x="238.0" y="210.3" width="0.7" height="0.7" fill="#c4c4c4"/>
<rect x="235.3" y="217.3" width="0.7" height="0.7" fill="#c4c4c4"/>
<rect x="238.6" y="213.6" width="0.7" height="0.7" fill="#aaa"/>
<rect x="235.9" y="215.5" width="0.7" height="0.7" fill="#aaa"/>
<rect x="232.6" y="214.6" width="0.7" height="0.7" fill="#aaa"/>
<rect x="229.6" y="208.5" width="0.7" height="0.7" fill="#bbb"/>
<rect x="242.8" y="209.8" width="0.7" height="0.7" fill="#bbb"/>
<rect x="231.2" y="214.6" width="0.7" height="0.7" fill="#bbb"/>
<rect x="236.6" y="220.0" width="0.7" height="0.7" fill="#999"/>
<rect x="240.4" y="219.6" width="0.7" height="0.7" fill="#bbb"/>
<rect x="226.2" y="213.3" width="0.7" height="0.7" fill="#c4c4c4"/>
<rect x="250.1" y="215.9" width="0.7" height="0.7" fill="#aaa"/>
<rect x="243.1" y="221.3" width="0.7" height="0.7" fill="#c4c4c4"/>
<rect x="251.9" y="212.5" width="0.7" height="0.7" fill="#aaa"/>
<rect x="233.2" y="219.1" width="0.7" height="0.7" fill="#888"/>
<rect x="240.7" y="215.5" width="0.7" height="0.7" fill="#c4c4c4"/>
<rect x="250.8" y="213.8" width="0.7" height="0.7" fill="#c4c4c4"/>
<rect x="234.3" y="210.7" width="0.7" height="0.7" fill="#888"/>
<rect x="232.4" y="208.3" width="0.7" height="0.7" fill="#999"/>
<rect x="233.8" y="218.8" width="0.7" height="0.7" fill="#bbb"/>
<rect x="230.4" y="220.2" width="0.7" height="0.7" fill="#c4c4c4"/>
<rect x="240.1" y="220.5" width="0.7" height="0.7" fill="#c4c4c4"/>
<rect x="233.5" y="208.3" width="0.7" height="0.7" fill="#c4c4c4"/>
<rect x="234.5" y="215.1" width="0.7" height="0.7" fill="#999"/>
<rect x="234.3" y="209.4" width="0.7" height="0.7" fill="#c4c4c4"/>
<rect x="246.6" y="212.5" width="0.7" height="0.7" fill="#bbb"/>
<rect x="243.3" y="220.6" width="0.7" height="0.7" fill="#999"/>
<rect x="233.7" y="220.7" width="0.7" height="0.7" fill="#c4c4c4"/>
<rect x="239.1" y="216.6" width="0.7" height="0.7" fill="#888"/>
<rect x="241.1" y="220.7" width="0.7" height="0.7" fill="#999"/>
<rect x="246.8" y="212.1" width="0.7" height="0.7" fill="#888"/>
<rect x="234.2" y="208.7" width="0.7" height="0.7" fill="#c4c4c4"/>
<rect x="222.6" y="220.2" width="0.7" height="0.7" fill="#c4c4c4"/>
<rect x="236.5" y="219.6" width="0.7" height="0.7" fill="#888"/>
<rect x="241.4" y="220.7" width="0.7" height="0.7" fill="#c4c4c4"/>
<rect x="240.8" y="209.8" width="0.7" height="0.7" fill="#999"/>
<rect x="245.4" y="215.3" width="0.7" height="0.7" fill="#aaa"/>
<rect x="250.7" y="220.8" width="0.7" height="0.7" fill="#999"/>
<rect x="240.2" y="211.2" width="0.7" height="0.7" fill="#bbb"/>
<rect x="238.9" y="210.0" width="0.7" height="0.7" fill="#999"/>
<rect x="249.3" y="220.3" width="0.7" height="0.7" fill="#999"/>
<rect x="236.5" y="216.4" width="0.7" height="0.7" fill="#888"/>
<rect x="249.7" y="213.9" width="0.7" height="0.7" fill="#888"/>
<rect x="241.6" y="218.2" width="0.7" height="0.7" fill="#999"/>
<rect x="242.2" y="220.4" width="0.7" height="0.7" fill="#aaa"/>
<rect x="228.9" y="221.8" width="0.7" height="0.7" fill="#bbb"/>
<rect x="242.7" y="210.3" width="0.7" height="0.7" fill="#999"/>
<rect x="237.0" y="221.8" width="0.7" height="0.7" fill="#aaa"/>
<rect x="235.6" y="213.4" width="0.7" height="0.7" fill="#999"/>
<rect x="237.2" y="214.3" width="0.7" height="0.7" fill="#bbb"/>
<rect x="245.0" y="209.2" width="0.7" height="0.7" fill="#c4c4c4"/>
<rect x="259.7" y="219.3" width="0.7" height="0.7" fill="#888"/>
<rect x="236.3" y="211.3" width="0.7" height="0.7" fill="#aaa"/>
<rect x="237.4" y="216.8" width="0.7" height="0.7" fill="#bbb"/>
<rect x="240.9" y="222.4" width="0.7" height="0.7" fill="#c4c4c4"/>
<rect x="240.1" y="214.6" width="0.7" height="0.7" fill="#aaa"/>
<rect x="248.1" y="215.2" width="0.7" height="0.7" fill="#bbb"/>
<rect x="234.5" y="211.4" width="0.7" height="0.7" fill="#999"/>
<rect x="250.1" y="220.9" width="0.7" height="0.7" fill="#bbb"/>
<rect x="227.8" y="212.3" width="0.7" height="0.7" fill="#aaa"/>
<rect x="240.7" y="217.3" width="0.7" height="0.7" fill="#888"/>
<rect x="237.6" y="210.0" width="0.7" height="0.7" fill="#888"/>
<rect x="235.1" y="218.4" width="0.7" height="0.7" fill="#bbb"/>
<rect x="236.9" y="219.8" width="0.7" height="0.7" fill="#aaa"/>
<rect x="241.3" y="213.6" width="0.7" height="0.7" fill="#c4c4c4"/>
<rect x="238.7" y="215.6" width="0.7" height="0.7" fill="#c4c4c4"/>
<rect x="234.2" y="217.8" width="0.7" height="0.7" fill="#bbb"/>
<rect x="243.6" y="218.9" width="0.7" height="0.7" fill="#aaa"/>
<rect x="241.4" y="209.7" width="0.7" height="0.7" fill="#888"/>
<rect x="233.9" y="208.7" width="0.7" height="0.7" fill="#aaa"/>
<rect x="237.5" y="220.1" width="0.7" height="0.7" fill="#999"/>
<rect x="248.5" y="212.0" width="0.7" height="0.7" fill="#999"/>
<rect x="245.6" y="215.7" width="0.7" height="0.7" fill="#c4c4c4"/>
<rect x="242.0" y="209.3" width="0.7" height="0.7" fill="#999"/>
<rect x="235.7" y="220.9" width="0.7" height="0.7" fill="#c4c4c4"/>
<rect x="237.9" y="214.7" width="0.7" height="0.7" fill="#bbb"/>
<rect x="240.8" y="215.5" width="0.7" height="0.7" fill="#c4c4c4"/>
<rect x="233.9" y="220.3" width="0.7" height="0.7" fill="#bbb"/>
<rect x="234.7" y="221.6" width="0.7" height="0.7" fill="#c4c4c4"/>
<rect x="235.7" y="212.0" width="0.7" height="0.7" fill="#aaa"/>
<rect x="239.1" y="208.0" width="0.7" height="0.7" fill="#aaa"/>
<rect x="241.6" y="217.0" width="0.7" height="0.7" fill="#999"/>
<rect x="250.4" y="222.5" width="0.7" height="0.7" fill="#bbb"/>
<rect x="248.3" y="208.7" width="0.7" height="0.7" fill="#c4c4c4"/>
<rect x="251.7" y="209.7" width="0.7" height="0.7" fill="#888"/>
<rect x="239.5" y="212.1" width="0.7" height="0.7" fill="#888"/>
<rect x="224.3" y="214.2" width="0.7" height="0.7" fill="#aaa"/>
<rect x="231.1" y="213.1" width="0.7" height="0.7" fill="#bbb"/>
<rect x="223.7" y="210.5" width="0.7" height="0.7" fill="#aaa"/>
<rect x="232.5" y="219.9" width="0.7" height="0.7" fill="#aaa"/>
<rect x="229.4" y="212.2" width="0.7" height="0.7" fill="#999"/>
<rect x="241.4" y="219.8" width="0.7" height="0.7" fill="#bbb"/>
<rect x="234.8" y="214.0" width="0.7" height="0.7" fill="#888"/>
<rect x="243.3" y="218.4" width="0.7" height="0.7" fill="#999"/>
<rect x="232.0" y="215.5" width="0.7" height="0.7" fill="#aaa"/>
<rect x="242.5" y="218.3" width="0.7" height="0.7" fill="#aaa"/>
<rect x="246.1" y="212.6" width="0.7" height="0.7" fill="#aaa"/>
<rect x="255.8" y="221.1" width="0.7" height="0.7" fill="#888"/>
<rect x="240.8" y="209.1" width="0.7" height="0.7" fill="#999"/>
<rect x="239.2" y="211.6" width="0.7" height="0.7" fill="#bbb"/>
<rect x="230.8" y="213.1" width="0.7" height="0.7" fill="#bbb"/>
<rect x="228.0" y="212.8" width="0.7" height="0.7" fill="#aaa"/>
<rect x="247.9" y="212.4" width="0.7" height="0.7" fill="#c4c4c4"/>
<rect x="243.7" y="213.8" width="0.7" height="0.7" fill="#888"/>
<rect x="240.7" y="210.3" width="0.7" height="0.7" fill="#aaa"/>
<rect x="251.8" y="221.1" width="0.7" height="0.7" fill="#999"/>
<rect x="230.6" y="222.7" width="0.7" height="0.7" fill="#c4c4c4"/>
<rect x="226.1" y="217.1" width="0.7" height="0.7" fill="#bbb"/>
<rect x="239.0" y="209.5" width="0.7" height="0.7" fill="#999"/>
<rect x="246.2" y="214.0" width="0.7" height="0.7" fill="#999"/>
<rect x="236.2" y="213.6" width="0.7" height="0.7" fill="#c4c4c4"/>
<rect x="239.3" y="210.1" width="0.7" height="0.7" fill="#888"/>
<rect x="240.0" y="216.6" width="0.7" height="0.7" fill="#c4c4c4"/>
<rect x="240.3" y="210.1" width="0.7" height="0.7" fill="#bbb"/>
<rect x="231.8" y="220.3" width="0.7" height="0.7" fill="#aaa"/>
<rect x="231.2" y="211.3" width="0.7" height="0.7" fill="#bbb"/>
<rect x="235.4" y="217.0" width="0.7" height="0.7" fill="#aaa"/>
<rect x="241.9" y="212.0" width="0.7" height="0.7" fill="#999"/>
<rect x="242.5" y="218.5" width="0.7" height="0.7" fill="#888"/>
<rect x="234.4" y="209.3" width="0.7" height="0.7" fill="#999"/>
<rect x="237.8" y="218.8" width="0.7" height="0.7" fill="#c4c4c4"/>
<rect x="228.2" y="210.9" width="0.7" height="0.7" fill="#c4c4c4"/>
<rect x="253.8" y="211.5" width="0.7" height="0.7" fill="#bbb"/>
<rect x="227.8" y="217.7" width="0.7" height="0.7" fill="#999"/>
<rect x="238.5" y="209.2" width="0.7" height="0.7" fill="#999"/>
<rect x="243.8" y="213.2" width="0.7" height="0.7" fill="#bbb"/>
<rect x="227.3" y="221.0" width="0.7" height="0.7" fill="#999"/>
<rect x="238.0" y="213.4" width="0.7" height="0.7" fill="#bbb"/>
<rect x="228.2" y="212.5" width="0.7" height="0.7" fill="#bbb"/>
<rect x="243.5" y="218.1" width="0.7" height="0.7" fill="#c4c4c4"/>
<rect x="226.3" y="208.3" width="0.7" height="0.7" fill="#aaa"/>
<rect x="244.0" y="218.2" width="0.7" height="0.7" fill="#999"/>
<rect x="241.9" y="209.1" width="0.7" height="0.7" fill="#999"/>
<rect x="239.9" y="210.8" width="0.7" height="0.7" fill="#888"/>
<rect x="236.4" y="217.5" width="0.7" height="0.7" fill="#888"/>
<rect x="246.6" y="217.7" width="0.7" height="0.7" fill="#aaa"/>
<rect x="234.4" y="210.0" width="0.7" height="0.7" fill="#bbb"/>
<rect x="244.7" y="219.8" width="0.7" height="0.7" fill="#c4c4c4"/>
<rect x="240.9" y="210.3" width="0.7" height="0.7" fill="#888"/>
<rect x="234.8" y="210.3" width="0.7" height="0.7" fill="#888"/>
<rect x="245.0" y="209.8" width="0.7" height="0.7" fill="#999"/>
<rect x="237.0" y="213.7" width="0.7" height="0.7" fill="#999"/>
<rect x="234.1" y="215.7" width="0.7" height="0.7" fill="#bbb"/>
<rect x="246.7" y="218.9" width="0.7" height="0.7" fill="#888"/>
<rect x="232.1" y="212.3" width="0.7" height="0.7" fill="#bbb"/>
<rect x="242.2" y="217.6" width="0.7" height="0.7" fill="#999"/>
<rect x="241.5" y="220.0" width="0.7" height="0.7" fill="#888"/>
<rect x="246.5" y="212.2" width="0.7" height="0.7" fill="#888"/>
<rect x="241.6" y="220.6" width="0.7" height="0.7" fill="#c4c4c4"/>
<rect x="237.2" y="214.0" width="0.7" height="0.7" fill="#999"/>
<rect x="237.9" y="212.4" width="0.7" height="0.7" fill="#aaa"/>
<rect x="243.6" y="212.0" width="0.7" height="0.7" fill="#aaa"/>
<rect x="229.8" y="214.7" width="0.7" height="0.7" fill="#999"/>
<rect x="242.0" y="216.6" width="0.7" height="0.7" fill="#888"/>
<rect x="243.3" y="214.8" width="0.7" height="0.7" fill="#999"/>
<rect x="236.5" y="213.3" width="0.7" height="0.7" fill="#888"/>
<rect x="234.4" y="218.5" width="0.7" height="0.7" fill="#c4c4c4"/>
<rect x="245.5" y="212.9" width="0.7" height="0.7" fill="#c4c4c4"/>
<rect x="230.2" y="219.6" width="0.7" height="0.7" fill="#888"/>
<rect x="233.3" y="216.5" width="0.7" height="0.7" fill="#c4c4c4"/>
<rect x="234.2" y="213.1" width="0.7" height="0.7" fill="#888"/>
<rect x="239.3" y="219.1" width="0.7" height="0.7" fill="#bbb"/>
<rect x="247.4" y="217.4" width="0.7" height="0.7" fill="#999"/>
<rect x="245.6" y="219.6" width="0.7" height="0.7" fill="#888"/>
<rect x="246.8" y="217.4" width="0.7" height="0.7" fill="#bbb"/>
<rect x="235.4" y="219.1" width="0.7" height="0.7" fill="#888"/>
<rect x="224.4" y="215.5" width="0.7" height="0.7" fill="#bbb"/>
<rect x="243.1" y="220.6" width="0.7" height="0.7" fill="#bbb"/>
<rect x="241.5" y="217.5" width="0.7" height="0.7" fill="#c4c4c4"/>
<rect x="228.9" y="219.4" width="0.7" height="0.7" fill="#aaa"/>
<rect x="245.3" y="213.7" width="0.7" height="0.7" fill="#aaa"/>
<rect x="234.1" y="210.2" width="0.7" height="0.7" fill="#888"/>
<rect x="230.0" y="210.5" width="0.7" height="0.7" fill="#c4c4c4"/>
<rect x="243.4" y="216.8" width="0.7" height="0.7" fill="#c4c4c4"/>
<rect x="234.7" y="218.3" width="0.7" height="0.7" fill="#999"/>
<rect x="239.2" y="218.9" width="0.7" height="0.7" fill="#aaa"/>
<rect x="250.6" y="211.4" width="0.7" height="0.7" fill="#bbb"/>
<rect x="227.0" y="214.9" width="0.7" height="0.7" fill="#aaa"/>
<rect x="241.4" y="218.6" width="0.7" height="0.7" fill="#999"/>
<rect x="239.0" y="214.7" width="0.7" height="0.7" fill="#aaa"/>
<rect x="236.9" y="210.1" width="0.7" height="0.7" fill="#bbb"/>
<rect x="238.1" y="221.1" width="0.7" height="0.7" fill="#888"/>
<rect x="227.3" y="209.7" width="0.7" height="0.7" fill="#c4c4c4"/>
<rect x="236.2" y="209.2" width="0.7" height="0.7" fill="#aaa"/>
<rect x="246.7" y="208.8" width="0.7" height="0.7" fill="#aaa"/>
<rect x="243.3" y="210.5" width="0.7" height="0.7" fill="#c4c4c4"/>
<rect x="258.9" y="222.8" width="0.7" height="0.7" fill="#c4c4c4"/>
<rect x="229.8" y="215.4" width="0.7" height="0.7" fill="#999"/>
<rect x="233.5" y="218.4" width="0.7" height="0.7" fill="#aaa"/>
<rect x="237.0" y="217.1" width="0.7" height="0.7" fill="#aaa"/>
<rect x="233.4" y="221.5" width="0.7" height="0.7" fill="#bbb"/>
<rect x="222.4" y="215.3" width="0.7" height="0.7" fill="#999"/>
<rect x="237.1" y="208.1" width="0.7" height="0.7" fill="#c4c4c4"/>
<rect x="225.3" y="213.2" width="0.7" height="0.7" fill="#999"/>
<rect x="240.6" y="208.8" width="0.7" height="0.7" fill="#bbb"/>
<rect x="252.8" y="209.6" width="0.7" height="0.7" fill="#999"/>
<rect x="233.7" y="210.5" width="0.7" height="0.7" fill="#aaa"/>
<rect x="242.2" y="213.3" width="0.7" height="0.7" fill="#aaa"/>
<rect x="246.8" y="221.6" width="0.7" height="0.7" fill="#bbb"/>
<rect x="233.0" y="213.6" width="0.7" height="0.7" fill="#888"/>
<rect x="241.3" y="212.1" width="0.7" height="0.7" fill="#bbb"/>
<rect x="234.6" y="208.6" width="0.7" height="0.7" fill="#999"/>
<rect x="245.1" y="212.4" width="0.7" height="0.7" fill="#aaa"/>
<rect x="229.0" y="209.3" width="0.7" height="0.7" fill="#bbb"/>
<rect x="244.8" y="219.1" width="0.7" height="0.7" fill="#aaa"/>
<rect x="231.6" y="212.9" width="0.7" height="0.7" fill="#999"/>
<rect x="240.5" y="215.2" width="0.7" height="0.7" fill="#c4c4c4"/>
<rect x="233.9" y="209.5" width="0.7" height="0.7" fill="#bbb"/>
<rect x="231.6" y="211.2" width="0.7" height="0.7" fill="#c4c4c4"/>
<rect x="250.0" y="209.9" width="0.7" height="0.7" fill="#bbb"/>
<rect x="230.6" y="211.3" width="0.7" height="0.7" fill="#c4c4c4"/>
<rect x="237.2" y="214.2" width="0.7" height="0.7" fill="#c4c4c4"/>
<rect x="234.7" y="210.1" width="0.7" height="0.7" fill="#c4c4c4"/>
<rect x="237.1" y="216.3" width="0.7" height="0.7" fill="#888"/>
<rect x="233.2" y="216.4" width="0.7" height="0.7" fill="#aaa"/>
<rect x="237.0" y="211.0" width="0.7" height="0.7" fill="#bbb"/>
<rect x="236.9" y="219.2" width="0.7" height="0.7" fill="#888"/>
<rect x="230.2" y="210.0" width="0.7" height="0.7" fill="#888"/>
<rect x="243.5" y="211.0" width="0.7" height="0.7" fill="#999"/>
<rect x="238.6" y="215.5" width="0.7" height="0.7" fill="#999"/>
<rect x="257.4" y="217.5" width="0.7" height="0.7" fill="#888"/>
<rect x="237.7" y="220.7" width="0.7" height="0.7" fill="#888"/>
<rect x="240.8" y="208.4" width="0.7" height="0.7" fill="#888"/>
<rect x="224.8" y="215.9" width="0.7" height="0.7" fill="#999"/>
<rect x="247.3" y="218.9" width="0.7" height="0.7" fill="#bbb"/>
<rect x="242.1" y="213.7" width="0.7" height="0.7" fill="#bbb"/>
<rect x="240.0" y="216.9" width="0.7" height="0.7" fill="#bbb"/>
<rect x="243.6" y="213.6" width="0.7" height="0.7" fill="#888"/>
<rect x="239.7" y="219.8" width="0.7" height="0.7" fill="#bbb"/>
<rect x="233.2" y="211.1" width="0.7" height="0.7" fill="#c4c4c4"/>
<rect x="250.1" y="221.4" width="0.7" height="0.7" fill="#bbb"/>
<rect x="246.7" y="211.6" width="0.7" height="0.7" fill="#888"/>
<rect x="227.5" y="212.5" width="0.7" height="0.7" fill="#c4c4c4"/>
<rect x="240.7" y="210.2" width="0.7" height="0.7" fill="#bbb"/>
<rect x="238.9" y="222.2" width="0.7" height="0.7" fill="#aaa"/>
<rect x="235.1" y="220.5" width="0.7" height="0.7" fill="#999"/>
<rect x="240.1" y="214.9" width="0.7" height="0.7" fill="#999"/>
<rect x="232.6" y="217.5" width="0.7" height="0.7" fill="#c4c4c4"/>
<rect x="225.7" y="218.6" width="0.7" height="0.7" fill="#bbb"/>
<rect x="240.0" y="220.5" width="0.7" height="0.7" fill="#888"/>
<rect x="250.8" y="210.7" width="0.7" height="0.7" fill="#999"/>
<rect x="239.8" y="211.2" width="0.7" height="0.7" fill="#c4c4c4"/>
<rect x="244.5" y="215.9" width="0.7" height="0.7" fill="#aaa"/>
<rect x="242.8" y="217.6" width="0.7" height="0.7" fill="#bbb"/>
<rect x="234.9" y="215.6" width="0.7" height="0.7" fill="#aaa"/>
<rect x="236.3" y="213.5" width="0.7" height="0.7" fill="#888"/>
<rect x="248.7" y="217.6" width="0.7" height="0.7" fill="#c4c4c4"/>
<rect x="235.8" y="220.4" width="0.7" height="0.7" fill="#999"/>
<rect x="241.9" y="212.3" width="0.7" height="0.7" fill="#aaa"/>
<rect x="231.9" y="210.4" width="0.7" height="0.7" fill="#aaa"/>
<rect x="224.9" y="211.9" width="0.7" height="0.7" fill="#888"/>
<rect x="231.4" y="218.4" width="0.7" height="0.7" fill="#888"/>
<rect x="227.9" y="208.2" width="0.7" height="0.7" fill="#aaa"/>
<rect x="234.5" y="219.5" width="0.7" height="0.7" fill="#888"/>
<rect x="240.8" y="219.5" width="0.7" height="0.7" fill="#aaa"/>
<rect x="231.5" y="211.5" width="0.7" height="0.7" fill="#bbb"/>
<rect x="241.5" y="210.0" width="0.7" height="0.7" fill="#aaa"/>
<rect x="241.2" y="217.2" width="0.7" height="0.7" fill="#888"/>
<rect x="240.6" y="218.0" width="0.7" height="0.7" fill="#c4c4c4"/>
<rect x="234.3" y="213.2" width="0.7" height="0.7" fill="#bbb"/>
<rect x="233.7" y="211.0" width="0.7" height="0.7" fill="#999"/>
<rect x="237.5" y="217.6" width="0.7" height="0.7" fill="#aaa"/>
<rect x="227.8" y="211.6" width="0.7" height="0.7" fill="#888"/>
<rect x="237.7" y="219.9" width="0.7" height="0.7" fill="#888"/>
<rect x="246.7" y="214.9" width="0.7" height="0.7" fill="#c4c4c4"/>
<rect x="247.2" y="211.7" width="0.7" height="0.7" fill="#888"/>
<rect x="235.8" y="221.9" width="0.7" height="0.7" fill="#aaa"/>
<rect x="235.0" y="216.7" width="0.7" height="0.7" fill="#aaa"/>
<rect x="241.1" y="218.8" width="0.7" height="0.7" fill="#c4c4c4"/>
<rect x="246.7" y="208.5" width="0.7" height="0.7" fill="#aaa"/>
<rect x="231.3" y="210.0" width="0.7" height="0.7" fill="#888"/>
<rect x="238.3" y="211.3" width="0.7" height="0.7" fill="#bbb"/>
<rect x="245.8" y="218.1" width="0.7" height="0.7" fill="#c4c4c4"/>
<rect x="236.3" y="217.1" width="0.7" height="0.7" fill="#999"/>
<rect x="229.0" y="212.0" width="0.7" height="0.7" fill="#888"/>
<rect x="249.9" y="219.1" width="0.7" height="0.7" fill="#aaa"/>
<rect x="239.4" y="215.8" width="0.7" height="0.7" fill="#bbb"/>
<rect x="233.6" y="212.4" width="0.7" height="0.7" fill="#999"/>
<rect x="244.2" y="210.3" width="0.7" height="0.7" fill="#aaa"/>
<rect x="237.2" y="221.5" width="0.7" height="0.7" fill="#888"/>
<rect x="231.5" y="211.3" width="0.7" height="0.7" fill="#aaa"/>
<rect x="233.4" y="220.2" width="0.7" height="0.7" fill="#bbb"/>
<rect x="249.8" y="212.6" width="0.7" height="0.7" fill="#aaa"/>
<rect x="239.3" y="212.6" width="0.7" height="0.7" fill="#c4c4c4"/>
<rect x="234.5" y="216.6" width="0.7" height="0.7" fill="#888"/>
<rect x="238.8" y="212.9" width="0.7" height="0.7" fill="#c4c4c4"/>
<rect x="235.6" y="213.5" width="0.7" height="0.7" fill="#999"/>
<rect x="243.4" y="211.4" width="0.7" height="0.7" fill="#888"/>
<rect x="236.0" y="220.1" width="0.7" height="0.7" fill="#999"/>
<rect x="235.5" y="219.6" width="0.7" height="0.7" fill="#bbb"/>
<rect x="242.5" y="215.2" width="0.7" height="0.7" fill="#c4c4c4"/>
<rect x="236.7" y="218.4" width="0.7" height="0.7" fill="#aaa"/>
<rect x="230.3" y="211.1" width="0.7" height="0.7" fill="#999"/>
<rect x="241.1" y="211.3" width="0.7" height="0.7" fill="#bbb"/>
<rect x="226.6" y="215.4" width="0.7" height="0.7" fill="#aaa"/>
<rect x="236.3" y="210.7" width="0.7" height="0.7" fill="#c4c4c4"/>
<rect x="247.1" y="218.4" width="0.7" height="0.7" fill="#bbb"/>
<rect x="230.7" y="217.2" width="0.7" height="0.7" fill="#888"/>
<rect x="227.4" y="219.6" width="0.7" height="0.7" fill="#888"/>
<rect x="236.2" y="222.0" width="0.7" height="0.7" fill="#999"/>
<rect x="243.7" y="209.7" width="0.7" height="0.7" fill="#aaa"/>
<rect x="230.8" y="219.7" width="0.7" height="0.7" fill="#aaa"/>
<rect x="234.4" y="221.2" width="0.7" height="0.7" fill="#888"/>
<rect x="235.2" y="211.9" width="0.7" height="0.7" fill="#c4c4c4"/>
<rect x="228.7" y="217.7" width="0.7" height="0.7" fill="#888"/>
<rect x="235.2" y="218.3" width="0.7" height="0.7" fill="#999"/>
<rect x="248.3" y="217.3" width="0.7" height="0.7" fill="#aaa"/>
<rect x="227.3" y="209.7" width="0.7" height="0.7" fill="#bbb"/>
<rect x="233.9" y="221.5" width="0.7" height="0.7" fill="#c4c4c4"/>
<rect x="249.6" y="212.0" width="0.7" height="0.7" fill="#aaa"/>
<rect x="234.5" y="219.0" width="0.7" height="0.7" fill="#999"/>
<rect x="237.1" y="221.9" width="0.7" height="0.7" fill="#c4c4c4"/>
<rect x="237.3" y="216.2" width="0.7" height="0.7" fill="#c4c4c4"/>
<rect x="229.4" y="218.4" width="0.7" height="0.7" fill="#aaa"/>
<rect x="240.8" y="221.2" width="0.7" height="0.7" fill="#999"/>
<rect x="253.6" y="208.5" width="0.7" height="0.7" fill="#aaa"/>
<rect x="234.6" y="219.0" width="0.7" height="0.7" fill="#888"/>
<rect x="236.3" y="211.5" width="0.7" height="0.7" fill="#888"/>
<rect x="240.2" y="211.4" width="0.7" height="0.7" fill="#aaa"/>
<rect x="234.9" y="221.6" width="0.7" height="0.7" fill="#c4c4c4"/>
<rect x="236.9" y="218.5" width="0.7" height="0.7" fill="#aaa"/>
<rect x="242.1" y="214.9" width="0.7" height="0.7" fill="#888"/>
<rect x="242.8" y="208.3" width="0.7" height="0.7" fill="#bbb"/>
<rect x="238.2" y="218.0" width="0.7" height="0.7" fill="#aaa"/>
<rect x="232.3" y="217.2" width="0.7" height="0.7" fill="#aaa"/>
<rect x="236.5" y="218.1" width="0.7" height="0.7" fill="#999"/>
<rect x="236.0" y="211.4" width="0.7" height="0.7" fill="#bbb"/>
<rect x="249.8" y="212.0" width="0.7" height="0.7" fill="#c4c4c4"/>
<rect x="242.4" y="209.4" width="0.7" height="0.7" fill="#bbb"/>
<rect x="230.8" y="219.9" width="0.7" height="0.7" fill="#aaa"/>
<rect x="237.8" y="215.1" width="0.7" height="0.7" fill="#888"/>
<rect x="237.6" y="217.1" width="0.7" height="0.7" fill="#888"/>
<rect x="239.8" y="218.7" width="0.7" height="0.7" fill="#999"/>
<rect x="243.0" y="216.3" width="0.7" height="0.7" fill="#aaa"/>
<rect x="235.9" y="209.8" width="0.7" height="0.7" fill="#c4c4c4"/>
<rect x="252.8" y="223.0" width="0.7" height="0.7" fill="#999"/>
<rect x="235.6" y="213.5" width="0.7" height="0.7" fill="#bbb"/>
<rect x="241.9" y="211.1" width="0.7" height="0.7" fill="#999"/>
<rect x="240.0" y="220.7" width="0.7" height="0.7" fill="#bbb"/>
<rect x="234.3" y="213.4" width="0.7" height="0.7" fill="#888"/>
<rect x="247.2" y="217.0" width="0.7" height="0.7" fill="#888"/>
<rect x="238.4" y="221.6" width="0.7" height="0.7" fill="#bbb"/>
<rect x="247.0" y="215.7" width="0.7" height="0.7" fill="#888"/>
<rect x="240.5" y="220.4" width="0.7" height="0.7" fill="#bbb"/>
<rect x="225.8" y="223.0" width="0.7" height="0.7" fill="#c4c4c4"/>
<rect x="235.1" y="216.2" width="0.7" height="0.7" fill="#999"/>
<rect x="254.1" y="210.9" width="0.7" height="0.7" fill="#c4c4c4"/>
<rect x="241.8" y="211.3" width="0.7" height="0.7" fill="#bbb"/>
<rect x="236.0" y="215.2" width="0.7" height="0.7" fill="#999"/>
<rect x="240.5" y="213.5" width="0.7" height="0.7" fill="#bbb"/>
<rect x="248.8" y="211.3" width="0.7" height="0.7" fill="#aaa"/>
<rect x="240.8" y="215.0" width="0.7" height="0.7" fill="#bbb"/>
<rect x="239.6" y="214.0" width="0.7" height="0.7" fill="#999"/>
<rect x="237.6" y="217.3" width="0.7" height="0.7" fill="#999"/>
<rect x="243.3" y="219.8" width="0.7" height="0.7" fill="#999"/>
<rect x="230.0" y="221.3" width="0.7" height="0.7" fill="#c4c4c4"/>
<rect x="252.2" y="218.7" width="0.7" height="0.7" fill="#888"/>
<rect x="241.5" y="211.2" width="0.7" height="0.7" fill="#aaa"/>
<rect x="245.9" y="212.0" width="0.7" height="0.7" fill="#999"/>
<rect x="232.6" y="212.5" width="0.7" height="0.7" fill="#c4c4c4"/>
<rect x="236.0" y="217.4" width="0.7" height="0.7" fill="#aaa"/>
<rect x="229.3" y="219.8" width="0.7" height="0.7" fill="#c4c4c4"/>
<rect x="233.4" y="219.2" width="0.7" height="0.7" fill="#aaa"/>
<rect x="236.7" y="211.1" width="0.7" height="0.7" fill="#888"/>
<rect x="230.9" y="210.0" width="0.7" height="0.7" fill="#bbb"/>
<rect x="241.2" y="221.2" width="0.7" height="0.7" fill="#c4c4c4"/>
<rect x="233.6" y="213.4" width="0.7" height="0.7" fill="#c4c4c4"/>
<rect x="248.1" y="211.3" width="0.7" height="0.7" fill="#c4c4c4"/>
<rect x="243.3" y="222.3" width="0.7" height="0.7" fill="#888"/>
<rect x="243.5" y="219.6" width="0.7" height="0.7" fill="#999"/>
<rect x="232.6" y="212.1" width="0.7" height="0.7" fill="#888"/>
<rect x="240.2" y="217.1" width="0.7" height="0.7" fill="#c4c4c4"/>
<rect x="237.1" y="217.9" width="0.7" height="0.7" fill="#888"/>
<rect x="244.1" y="219.4" width="0.7" height="0.7" fill="#aaa"/>
<rect x="233.1" y="219.3" width="0.7" height="0.7" fill="#888"/>
<rect x="238.0" y="218.3" width="0.7" height="0.7" fill="#aaa"/>
<rect x="239.8" y="220.8" width="0.7" height="0.7" fill="#c4c4c4"/>
<rect x="245.2" y="221.1" width="0.7" height="0.7" fill="#999"/>
<rect x="239.4" y="219.1" width="0.7" height="0.7" fill="#888"/>
<rect x="226.7" y="215.5" width="0.7" height="0.7" fill="#aaa"/>
<rect x="221.2" y="214.6" width="0.7" height="0.7" fill="#999"/>
<rect x="227.6" y="213.8" width="0.7" height="0.7" fill="#c4c4c4"/>
<rect x="226.8" y="219.4" width="0.7" height="0.7" fill="#888"/>
<rect x="242.0" y="217.8" width="0.7" height="0.7" fill="#c4c4c4"/>
<rect x="241.2" y="220.8" width="0.7" height="0.7" fill="#bbb"/>
<rect x="247.6" y="216.0" width="0.7" height="0.7" fill="#999"/>
<rect x="243.9" y="219.9" width="0.7" height="0.7" fill="#c4c4c4"/>
<rect x="242.7" y="216.3" width="0.7" height="0.7" fill="#aaa"/>
<rect x="247.3" y="213.6" width="0.7" height="0.7" fill="#999"/>
<rect x="249.4" y="210.9" width="0.7" height="0.7" fill="#c4c4c4"/>
<rect x="230.2" y="210.9" width="0.7" height="0.7" fill="#888"/>
<rect x="237.0" y="209.3" width="0.7" height="0.7" fill="#aaa"/>
<rect x="231.7" y="210.2" width="0.7" height="0.7" fill="#999"/>
<rect x="244.2" y="211.4" width="0.7" height="0.7" fill="#aaa"/>
<rect x="246.3" y="215.0" width="0.7" height="0.7" fill="#888"/>
<rect x="241.4" y="212.2" width="0.7" height="0.7" fill="#bbb"/>
<rect x="239.7" y="212.1" width="0.7" height="0.7" fill="#aaa"/>
<rect x="251.7" y="213.0" width="0.7" height="0.7" fill="#bbb"/>
<rect x="250.0" y="213.1" width="0.7" height="0.7" fill="#c4c4c4"/>
<rect x="235.3" y="209.9" width="0.7" height="0.7" fill="#c4c4c4"/>
<rect x="239.0" y="217.3" width="0.7" height="0.7" fill="#bbb"/>
<rect x="244.0" y="219.6" width="0.7" height="0.7" fill="#999"/>
<rect x="239.3" y="212.3" width="0.7" height="0.7" fill="#999"/>
<rect x="236.7" y="215.0" width="0.7" height="0.7" fill="#888"/>
<rect x="235.8" y="211.0" width="0.7" height="0.7" fill="#aaa"/>
<rect x="240.5" y="214.0" width="0.7" height="0.7" fill="#999"/>
<rect x="246.7" y="209.7" width="0.7" height="0.7" fill="#bbb"/>
<rect x="244.3" y="208.6" width="0.7" height="0.7" fill="#aaa"/>
<rect x="251.0" y="219.8" width="0.7" height="0.7" fill="#999"/>
<rect x="236.1" y="215.3" width="0.7" height="0.7" fill="#999"/>
<rect x="223.5" y="213.6" width="0.7" height="0.7" fill="#999"/>
<rect x="256.5" y="220.7" width="0.7" height="0.7" fill="#aaa"/>
<rect x="233.3" y="223.0" width="0.7" height="0.7" fill="#999"/>
<rect x="234.7" y="213.2" width="0.7" height="0.7" fill="#999"/>
<rect x="224.3" y="209.4" width="0.7" height="0.7" fill="#bbb"/>
<rect x="242.4" y="212.8" width="0.7" height="0.7" fill="#bbb"/>
<rect x="245.2" y="215.9" width="0.7" height="0.7" fill="#aaa"/>
<rect x="247.0" y="222.3" width="0.7" height="0.7" fill="#999"/>
<rect x="234.5" y="221.7" width="0.7" height="0.7" fill="#bbb"/>
<rect x="246.4" y="215.5" width="0.7" height="0.7" fill="#888"/>
<rect x="242.4" y="221.4" width="0.7" height="0.7" fill="#bbb"/>
<rect x="245.5" y="218.8" width="0.7" height="0.7" fill="#bbb"/>
<rect x="228.3" y="213.6" width="0.7" height="0.7" fill="#aaa"/>
<rect x="239.6" y="211.8" width="0.7" height="0.7" fill="#aaa"/>
<rect x="241.4" y="216.0" width="0.7" height="0.7" fill="#c4c4c4"/>
<rect x="233.5" y="219.5" width="0.7" height="0.7" fill="#888"/>
<rect x="236.6" y="219.3" width="0.7" height="0.7" fill="#bbb"/>
<rect x="236.7" y="218.9" width="0.7" height="0.7" fill="#aaa"/>
<rect x="242.6" y="213.1" width="0.7" height="0.7" fill="#888"/>
<rect x="248.6" y="219.4" width="0.7" height="0.7" fill="#bbb"/>
<rect x="225.2" y="218.0" width="0.7" height="0.7" fill="#bbb"/>
<rect x="239.5" y="217.5" width="0.7" height="0.7" fill="#888"/>
<rect x="242.0" y="212.5" width="0.7" height="0.7" fill="#c4c4c4"/>
<rect x="248.6" y="218.4" width="0.7" height="0.7" fill="#999"/>
<rect x="230.1" y="217.5" width="0.7" height="0.7" fill="#bbb"/>
<rect x="250.7" y="210.1" width="0.7" height="0.7" fill="#888"/>
<rect x="236.1" y="211.5" width="0.7" height="0.7" fill="#c4c4c4"/>
<rect x="238.7" y="209.0" width="0.7" height="0.7" fill="#888"/>
<rect x="239.5" y="213.6" width="0.7" height="0.7" fill="#aaa"/>
<rect x="236.0" y="218.7" width="0.7" height="0.7" fill="#999"/>
<rect x="243.3" y="218.8" width="0.7" height="0.7" fill="#999"/>
<rect x="239.1" y="215.6" width="0.7" height="0.7" fill="#aaa"/>
<rect x="237.3" y="212.6" width="0.7" height="0.7" fill="#999"/>
<rect x="257.1" y="217.3" width="0.7" height="0.7" fill="#999"/>
<rect x="242.4" y="216.1" width="0.7" height="0.7" fill="#c4c4c4"/>
<rect x="235.4" y="219.2" width="0.7" height="0.7" fill="#999"/>
<rect x="241.1" y="218.7" width="0.7" height="0.7" fill="#aaa"/>
<rect x="237.8" y="214.2" width="0.7" height="0.7" fill="#c4c4c4"/>
<rect x="244.5" y="215.9" width="0.7" height="0.7" fill="#bbb"/>
<rect x="239.8" y="211.2" width="0.7" height="0.7" fill="#c4c4c4"/>
<rect x="237.0" y="220.7" width="0.7" height="0.7" fill="#aaa"/>
<rect x="236.4" y="212.4" width="0.7" height="0.7" fill="#aaa"/>
<rect x="239.3" y="213.8" width="0.7" height="0.7" fill="#c4c4c4"/>
<rect x="230.5" y="218.5" width="0.7" height="0.7" fill="#999"/>
<rect x="250.4" y="211.5" width="0.7" height="0.7" fill="#999"/>
<rect x="245.1" y="208.4" width="0.7" height="0.7" fill="#999"/>
<rect x="240.0" y="220.9" width="0.7" height="0.7" fill="#c4c4c4"/>
<rect x="235.1" y="212.1" width="0.7" height="0.7" fill="#c4c4c4"/>
<rect x="249.0" y="216.4" width="0.7" height="0.7" fill="#888"/>
<rect x="243.3" y="218.7" width="0.7" height="0.7" fill="#bbb"/>
<rect x="235.3" y="218.1" width="0.7" height="0.7" fill="#bbb"/>
<rect x="240.6" y="210.8" width="0.7" height="0.7" fill="#aaa"/>
<rect x="242.3" y="220.3" width="0.7" height="0.7" fill="#aaa"/>
<rect x="238.0" y="211.2" width="0.7" height="0.7" fill="#999"/>
<rect x="223.7" y="217.3" width="0.7" height="0.7" fill="#999"/>
<rect x="250.2" y="218.6" width="0.7" height="0.7" fill="#bbb"/>
<rect x="235.1" y="209.8" width="0.7" height="0.7" fill="#c4c4c4"/>
<rect x="229.7" y="218.6" width="0.7" height="0.7" fill="#bbb"/>
<rect x="243.9" y="219.4" width="0.7" height="0.7" fill="#c4c4c4"/>
<rect x="234.3" y="218.4" width="0.7" height="0.7" fill="#bbb"/>
<rect x="237.7" y="211.4" width="0.7" height="0.7" fill="#aaa"/>
<rect x="231.1" y="213.0" width="0.7" height="0.7" fill="#888"/>
<rect x="236.3" y="218.4" width="0.7" height="0.7" fill="#c4c4c4"/>
<rect x="233.0" y="217.9" width="0.7" height="0.7" fill="#888"/>
<rect x="245.1" y="209.1" width="0.7" height="0.7" fill="#bbb"/>
<rect x="245.9" y="210.1" width="0.7" height="0.7" fill="#aaa"/>
<rect x="227.5" y="218.2" width="0.7" height="0.7" fill="#888"/>
<rect x="239.1" y="216.9" width="0.7" height="0.7" fill="#aaa"/>
<rect x="246.9" y="218.0" width="0.7" height="0.7" fill="#aaa"/>
<rect x="234.0" y="213.2" width="0.7" height="0.7" fill="#888"/>
<rect x="236.5" y="212.7" width="0.7" height="0.7" fill="#c4c4c4"/>
<rect x="234.2" y="221.3" width="0.7" height="0.7" fill="#bbb"/>
<rect x="243.2" y="211.0" width="0.7" height="0.7" fill="#888"/>
<rect x="241.0" y="211.7" width="0.7" height="0.7" fill="#aaa"/>
<rect x="233.3" y="210.4" width="0.7" height="0.7" fill="#888"/>
<rect x="230.3" y="209.1" width="0.7" height="0.7" fill="#999"/>
<rect x="236.5" y="221.3" width="0.7" height="0.7" fill="#888"/>
<rect x="235.1" y="222.6" width="0.7" height="0.7" fill="#888"/>
<rect x="233.8" y="215.0" width="0.7" height="0.7" fill="#888"/>
<rect x="247.6" y="215.8" width="0.7" height="0.7" fill="#c4c4c4"/>
<rect x="241.3" y="219.7" width="0.7" height="0.7" fill="#aaa"/>
<rect x="232.6" y="208.9" width="0.7" height="0.7" fill="#bbb"/>
<rect x="229.5" y="212.5" width="0.7" height="0.7" fill="#bbb"/>
<rect x="236.1" y="214.3" width="0.7" height="0.7" fill="#aaa"/>
<rect x="240.4" y="217.0" width="0.7" height="0.7" fill="#c4c4c4"/>
<rect x="246.2" y="211.6" width="0.7" height="0.7" fill="#aaa"/>
<rect x="253.8" y="213.0" width="0.7" height="0.7" fill="#bbb"/>
<rect x="237.7" y="213.8" width="0.7" height="0.7" fill="#c4c4c4"/>
<rect x="234.8" y="221.7" width="0.7" height="0.7" fill="#888"/>
<rect x="242.3" y="218.8" width="0.7" height="0.7" fill="#999"/>
<rect x="242.1" y="220.8" width="0.7" height="0.7" fill="#aaa"/>
<rect x="235.3" y="216.5" width="0.7" height="0.7" fill="#888"/>
<rect x="242.1" y="210.6" width="0.7" height="0.7" fill="#c4c4c4"/>
<rect x="229.6" y="214.1" width="0.7" height="0.7" fill="#c4c4c4"/>
<rect x="234.6" y="221.5" width="0.7" height="0.7" fill="#888"/>
<rect x="233.2" y="222.0" width="0.7" height="0.7" fill="#888"/>
<rect x="243.8" y="210.8" width="0.7" height="0.7" fill="#bbb"/>
<rect x="236.7" y="212.0" width="0.7" height="0.7" fill="#aaa"/>
<rect x="240.2" y="209.9" width="0.7" height="0.7" fill="#999"/>
<rect x="231.6" y="209.6" width="0.7" height="0.7" fill="#999"/>
<rect x="240.6" y="218.8" width="0.7" height="0.7" fill="#999"/>
<rect x="250.6" y="219.8" width="0.7" height="0.7" fill="#888"/>
<rect x="235.6" y="215.4" width="0.7" height="0.7" fill="#aaa"/>
<rect x="241.2" y="217.6" width="0.7" height="0.7" fill="#888"/>
<rect x="242.5" y="216.2" width="0.7" height="0.7" fill="#c4c4c4"/>
<rect x="242.6" y="221.1" width="0.7" height="0.7" fill="#bbb"/>
<rect x="234.1" y="216.6" width="0.7" height="0.7" fill="#c4c4c4"/>
<rect x="253.3" y="214.2" width="0.7" height="0.7" fill="#888"/>
<rect x="248.5" y="221.1" width="0.7" height="0.7" fill="#c4c4c4"/>
<rect x="240.0" y="210.7" width="0.7" height="0.7" fill="#888"/>
<rect x="227.1" y="217.2" width="0.7" height="0.7" fill="#aaa"/>
<rect x="235.0" y="219.7" width="0.7" height="0.7" fill="#c4c4c4"/>
<rect x="231.6" y="211.8" width="0.7" height="0.7" fill="#bbb"/>
<rect x="238.6" y="219.7" width="0.7" height="0.7" fill="#c4c4c4"/>
<rect x="231.4" y="218.0" width="0.7" height="0.7" fill="#c4c4c4"/>
<rect x="231.7" y="218.7" width="0.7" height="0.7" fill="#bbb"/>
<rect x="246.4" y="220.7" width="0.7" height="0.7" fill="#bbb"/>
<rect x="235.5" y="216.3" width="0.7" height="0.7" fill="#888"/>
<rect x="232.2" y="221.4" width="0.7" height="0.7" fill="#bbb"/>
<rect x="242.5" y="218.7" width="0.7" height="0.7" fill="#c4c4c4"/>
<rect x="223.4" y="214.2" width="0.7" height="0.7" fill="#bbb"/>
<rect x="244.9" y="221.0" width="0.7" height="0.7" fill="#c4c4c4"/>
<rect x="241.8" y="208.0" width="0.7" height="0.7" fill="#999"/>
<rect x="247.6" y="212.5" width="0.7" height="0.7" fill="#999"/>
<rect x="244.2" y="216.0" width="0.7" height="0.7" fill="#aaa"/>
<rect x="241.5" y="212.6" width="0.7" height="0.7" fill="#888"/>
<rect x="231.4" y="216.8" width="0.7" height="0.7" fill="#c4c4c4"/>
<rect x="238.8" y="219.9" width="0.7" height="0.7" fill="#bbb"/>
<rect x="224.9" y="212.8" width="0.7" height="0.7" fill="#bbb"/>
<rect x="252.6" y="222.1" width="0.7" height="0.7" fill="#bbb"/>
<rect x="238.2" y="210.6" width="0.7" height="0.7" fill="#999"/>
<rect x="237.0" y="217.6" width="0.7" height="0.7" fill="#aaa"/>
<rect x="233.9" y="221.6" width="0.7" height="0.7" fill="#aaa"/>
<rect x="231.6" y="212.4" width="0.7" height="0.7" fill="#999"/>
<rect x="252.6" y="213.8" width="0.7" height="0.7" fill="#c4c4c4"/>
<rect x="238.1" y="210.7" width="0.7" height="0.7" fill="#c4c4c4"/>
<rect x="231.8" y="210.5" width="0.7" height="0.7" fill="#c4c4c4"/>
<rect x="232.6" y="214.6" width="0.7" height="0.7" fill="#aaa"/>
<rect x="244.9" y="212.8" width="0.7" height="0.7" fill="#aaa"/>
<rect x="235.1" y="218.3" width="0.7" height="0.7" fill="#c4c4c4"/>
<rect x="238.7" y="217.7" width="0.7" height="0.7" fill="#aaa"/>
<rect x="230.8" y="215.3" width="0.7" height="0.7" fill="#888"/>
<rect x="248.3" y="217.6" width="0.7" height="0.7" fill="#999"/>
<rect x="225.0" y="219.4" width="0.7" height="0.7" fill="#999"/>
<rect x="240.1" y="212.9" width="0.7" height="0.7" fill="#bbb"/>
<rect x="252.1" y="210.0" width="0.7" height="0.7" fill="#999"/>
<rect x="236.1" y="219.0" width="0.7" height="0.7" fill="#bbb"/>
<rect x="234.7" y="210.3" width="0.7" height="0.7" fill="#aaa"/>
<rect x="232.0" y="219.9" width="0.7" height="0.7" fill="#c4c4c4"/>
<rect x="237.4" y="213.6" width="0.7" height="0.7" fill="#999"/>
<rect x="232.9" y="217.4" width="0.7" height="0.7" fill="#888"/>
<rect x="233.9" y="220.8" width="0.7" height="0.7" fill="#aaa"/>
<rect x="245.6" y="221.1" width="0.7" height="0.7" fill="#888"/>
<rect x="228.9" y="217.3" width="0.7" height="0.7" fill="#c4c4c4"/>
<rect x="238.2" y="211.0" width="0.7" height="0.7" fill="#c4c4c4"/>
<rect x="236.2" y="215.3" width="0.7" height="0.7" fill="#bbb"/>
<rect x="248.0" y="219.3" width="0.7" height="0.7" fill="#c4c4c4"/>
<rect x="240.0" y="213.5" width="0.7" height="0.7" fill="#c4c4c4"/>
<rect x="231.9" y="211.4" width="0.7" height="0.7" fill="#999"/>
<rect x="228.2" y="210.9" width="0.7" height="0.7" fill="#999"/>
<rect x="245.4" y="207.8" width="0.7" height="0.7" fill="#c4c4c4"/>
<rect x="244.5" y="219.9" width="0.7" height="0.7" fill="#aaa"/>
<rect x="240.8" y="213.2" width="0.7" height="0.7" fill="#999"/>
<rect x="229.9" y="219.8" width="0.7" height="0.7" fill="#c4c4c4"/>
<rect x="233.4" y="221.9" width="0.7" height="0.7" fill="#999"/>
<rect x="233.2" y="217.4" width="0.7" height="0.7" fill="#999"/>
<rect x="231.4" y="219.4" width="0.7" height="0.7" fill="#888"/>
<rect x="237.7" y="211.6" width="0.7" height="0.7" fill="#888"/>
<rect x="251.0" y="221.3" width="0.7" height="0.7" fill="#bbb"/>
<rect x="233.3" y="216.0" width="0.7" height="0.7" fill="#aaa"/>
<rect x="236.8" y="207.9" width="0.7" height="0.7" fill="#aaa"/>
<rect x="223.6" y="215.6" width="0.7" height="0.7" fill="#c4c4c4"/>
<rect x="245.9" y="217.0" width="0.7" height="0.7" fill="#c4c4c4"/>
<rect x="243.4" y="219.7" width="0.7" height="0.7" fill="#999"/>
<rect x="250.0" y="213.6" width="0.7" height="0.7" fill="#888"/>
<rect x="243.8" y="212.6" width="0.7" height="0.7" fill="#bbb"/>
<rect x="230.2" y="210.5" width="0.7" height="0.7" fill="#999"/>
<rect x="236.2" y="212.1" width="0.7" height="0.7" fill="#999"/>
<rect x="239.1" y="208.6" width="0.7" height="0.7" fill="#999"/>
<rect x="225.3" y="208.9" width="0.7" height="0.7" fill="#aaa"/>
<rect x="239.9" y="215.3" width="0.7" height="0.7" fill="#999"/>
<rect x="241.8" y="221.1" width="0.7" height="0.7" fill="#c4c4c4"/>
<rect x="238.0" y="212.5" width="0.7" height="0.7" fill="#bbb"/>
<rect x="248.7" y="210.2" width="0.7" height="0.7" fill="#888"/>
<rect x="232.4" y="215.2" width="0.7" height="0.7" fill="#c4c4c4"/>
<rect x="249.4" y="220.6" width="0.7" height="0.7" fill="#888"/>
<rect x="242.1" y="215.1" width="0.7" height="0.7" fill="#bbb"/>
<rect x="232.5" y="215.3" width="0.7" height="0.7" fill="#888"/>
<rect x="250.6" y="219.9" width="0.7" height="0.7" fill="#c4c4c4"/>
<rect x="231.9" y="216.8" width="0.7" height="0.7" fill="#c4c4c4"/>
<rect x="244.6" y="217.3" width="0.7" height="0.7" fill="#c4c4c4"/>
<rect x="228.6" y="221.5" width="0.7" height="0.7" fill="#888"/>
<rect x="226.2" y="210.4" width="0.7" height="0.7" fill="#bbb"/>
<rect x="236.9" y="217.2" width="0.7" height="0.7" fill="#aaa"/>
<rect x="228.4" y="212.5" width="0.7" height="0.7" fill="#aaa"/>
<rect x="233.2" y="212.2" width="0.7" height="0.7" fill="#888"/>
<rect x="254.1" y="208.9" width="0.7" height="0.7" fill="#bbb"/>
<rect x="238.2" y="214.7" width="0.7" height="0.7" fill="#c4c4c4"/>
<rect x="239.1" y="209.0" width="0.7" height="0.7" fill="#999"/>
<rect x="246.5" y="212.0" width="0.7" height="0.7" fill="#888"/>
<rect x="232.0" y="210.7" width="0.7" height="0.7" fill="#bbb"/>
<rect x="236.2" y="212.7" width="0.7" height="0.7" fill="#888"/>
<rect x="240.8" y="210.7" width="0.7" height="0.7" fill="#c4c4c4"/>
<rect x="233.7" y="214.5" width="0.7" height="0.7" fill="#888"/>
<rect x="242.6" y="214.7" width="0.7" height="0.7" fill="#888"/>
<rect x="220.8" y="212.8" width="0.7" height="0.7" fill="#aaa"/>
<rect x="236.1" y="215.7" width="0.7" height="0.7" fill="#aaa"/>
<rect x="233.4" y="217.2" width="0.7" height="0.7" fill="#888"/>
<rect x="230.2" y="219.9" width="0.7" height="0.7" fill="#aaa"/>
<rect x="246.7" y="216.6" width="0.7" height="0.7" fill="#999"/>
<rect x="239.7" y="209.8" width="0.7" height="0.7" fill="#888"/>
<rect x="236.3" y="208.4" width="0.7" height="0.7" fill="#aaa"/>
<rect x="242.5" y="209.7" width="0.7" height="0.7" fill="#999"/>
<rect x="241.2" y="212.4" width="0.7" height="0.7" fill="#aaa"/>
<rect x="245.4" y="218.6" width="0.7" height="0.7" fill="#999"/>
<rect x="237.8" y="213.1" width="0.7" height="0.7" fill="#c4c4c4"/>
<rect x="244.8" y="220.9" width="0.7" height="0.7" fill="#bbb"/>
<rect x="232.4" y="219.5" width="0.7" height="0.7" fill="#bbb"/>
<rect x="235.1" y="220.5" width="0.7" height="0.7" fill="#888"/>
<rect x="239.5" y="212.8" width="0.7" height="0.7" fill="#bbb"/>
<rect x="231.8" y="220.2" width="0.7" height="0.7" fill="#888"/>
<rect x="235.7" y="215.8" width="0.7" height="0.7" fill="#999"/>
<rect x="233.8" y="220.0" width="0.7" height="0.7" fill="#999"/>
<rect x="243.6" y="214.7" width="0.7" height="0.7" fill="#aaa"/>
<rect x="240.0" y="216.7" width="0.7" height="0.7" fill="#aaa"/>
<rect x="246.4" y="222.2" width="0.7" height="0.7" fill="#999"/>
<rect x="229.1" y="220.9" width="0.7" height="0.7" fill="#999"/>
<rect x="235.1" y="218.9" width="0.7" height="0.7" fill="#bbb"/>
<rect x="226.5" y="211.0" width="0.7" height="0.7" fill="#aaa"/>
<rect x="244.9" y="220.2" width="0.7" height="0.7" fill="#c4c4c4"/>
<rect x="236.3" y="212.6" width="0.7" height="0.7" fill="#999"/>
<rect x="230.5" y="213.0" width="0.7" height="0.7" fill="#999"/>
<rect x="233.4" y="212.4" width="0.7" height="0.7" fill="#c4c4c4"/>
<rect x="231.2" y="209.6" width="0.7" height="0.7" fill="#bbb"/>
<rect x="237.3" y="221.4" width="0.7" height="0.7" fill="#c4c4c4"/>
<rect x="245.8" y="213.9" width="0.7" height="0.7" fill="#999"/>
<rect x="241.6" y="215.7" width="0.7" height="0.7" fill="#aaa"/>
<rect x="238.2" y="209.6" width="0.7" height="0.7" fill="#888"/>
<rect x="244.0" y="217.0" width="0.7" height="0.7" fill="#bbb"/>
<rect x="255.0" y="210.4" width="0.7" height="0.7" fill="#888"/>
<rect x="225.2" y="212.4" width="0.7" height="0.7" fill="#999"/>
<rect x="239.1" y="211.2" width="0.7" height="0.7" fill="#c4c4c4"/>
<rect x="232.8" y="216.1" width="0.7" height="0.7" fill="#888"/>
<rect x="233.4" y="219.6" width="0.7" height="0.7" fill="#999"/>
<rect x="242.2" y="220.1" width="0.7" height="0.7" fill="#999"/>
<rect x="218.3" y="213.7" width="0.7" height="0.7" fill="#aaa"/>
<rect x="236.5" y="221.8" width="0.7" height="0.7" fill="#c4c4c4"/>
<rect x="248.6" y="214.9" width="0.7" height="0.7" fill="#c4c4c4"/>
<rect x="236.7" y="216.2" width="0.7" height="0.7" fill="#999"/>
<rect x="237.7" y="217.9" width="0.7" height="0.7" fill="#bbb"/>
<rect x="246.6" y="210.6" width="0.7" height="0.7" fill="#bbb"/>
<rect x="235.2" y="220.3" width="0.7" height="0.7" fill="#888"/>
<rect x="228.1" y="216.3" width="0.7" height="0.7" fill="#999"/>
<rect x="243.9" y="213.3" width="0.7" height="0.7" fill="#bbb"/>
<rect x="234.7" y="210.3" width="0.7" height="0.7" fill="#c4c4c4"/>
<rect x="219.2" y="223.1" width="0.7" height="0.7" fill="#aaa"/>
<rect x="237.6" y="211.4" width="0.7" height="0.7" fill="#888"/>
<rect x="234.2" y="219.6" width="0.7" height="0.7" fill="#bbb"/>
<rect x="237.8" y="212.3" width="0.7" height="0.7" fill="#999"/>
<rect x="251.9" y="214.4" width="0.7" height="0.7" fill="#c4c4c4"/>
<rect x="235.9" y="222.4" width="0.7" height="0.7" fill="#bbb"/>
<rect x="228.2" y="213.5" width="0.7" height="0.7" fill="#888"/>
<rect x="232.7" y="211.5" width="0.7" height="0.7" fill="#999"/>
<rect x="229.2" y="209.3" width="0.7" height="0.7" fill="#c4c4c4"/>
<rect x="241.6" y="212.3" width="0.7" height="0.7" fill="#bbb"/>
<rect x="240.7" y="214.3" width="0.7" height="0.7" fill="#c4c4c4"/>
<rect x="235.1" y="212.6" width="0.7" height="0.7" fill="#aaa"/>
<rect x="242.4" y="215.6" width="0.7" height="0.7" fill="#999"/>
<rect x="243.8" y="210.4" width="0.7" height="0.7" fill="#aaa"/>
<rect x="240.9" y="212.3" width="0.7" height="0.7" fill="#c4c4c4"/>
<rect x="224.8" y="221.7" width="0.7" height="0.7" fill="#999"/>
<rect x="253.4" y="212.8" width="0.7" height="0.7" fill="#c4c4c4"/>
<rect x="248.2" y="208.7" width="0.7" height="0.7" fill="#bbb"/>
<rect x="237.9" y="211.7" width="0.7" height="0.7" fill="#888"/>
<rect x="253.1" y="212.6" width="0.7" height="0.7" fill="#c4c4c4"/>
<rect x="249.5" y="221.2" width="0.7" height="0.7" fill="#aaa"/>
<rect x="242.4" y="210.7" width="0.7" height="0.7" fill="#aaa"/>
<rect x="236.6" y="211.7" width="0.7" height="0.7" fill="#c4c4c4"/>
<rect x="218.3" y="211.4" width="0.7" height="0.7" fill="#999"/>
<rect x="244.5" y="215.7" width="0.7" height="0.7" fill="#bbb"/>
<rect x="253.3" y="216.3" width="0.7" height="0.7" fill="#aaa"/>
<rect x="232.1" y="212.0" width="0.7" height="0.7" fill="#888"/>
<rect x="242.4" y="210.5" width="0.7" height="0.7" fill="#c4c4c4"/>
<rect x="230.0" y="221.4" width="0.7" height="0.7" fill="#bbb"/>
<rect x="238.9" y="212.4" width="0.7" height="0.7" fill="#aaa"/>
<rect x="226.7" y="218.9" width="0.7" height="0.7" fill="#999"/>
<rect x="241.4" y="208.4" width="0.7" height="0.7" fill="#888"/>
<rect x="233.8" y="212.2" width="0.7" height="0.7" fill="#bbb"/>
<rect x="244.9" y="211.3" width="0.7" height="0.7" fill="#c4c4c4"/>
<rect x="240.7" y="219.5" width="0.7" height="0.7" fill="#bbb"/>
<rect x="245.4" y="210.7" width="0.7" height="0.7" fill="#999"/>
<rect x="235.1" y="218.0" width="0.7" height="0.7" fill="#aaa"/>
<rect x="232.4" y="217.3" width="0.7" height="0.7" fill="#888"/>
<rect x="232.5" y="209.2" width="0.7" height="0.7" fill="#aaa"/>
<rect x="244.2" y="218.7" width="0.7" height="0.7" fill="#999"/>
<rect x="238.3" y="210.1" width="0.7" height="0.7" fill="#888"/>
<rect x="249.9" y="213.7" width="0.7" height="0.7" fill="#c4c4c4"/>
<rect x="239.3" y="220.7" width="0.7" height="0.7" fill="#c4c4c4"/>
<rect x="245.3" y="217.6" width="0.7" height="0.7" fill="#888"/>
<rect x="227.7" y="214.7" width="0.7" height="0.7" fill="#bbb"/>
<rect x="236.5" y="220.4" width="0.7" height="0.7" fill="#999"/>
<rect x="246.7" y="221.4" width="0.7" height="0.7" fill="#aaa"/>
<rect x="239.0" y="212.8" width="0.7" height="0.7" fill="#888"/>
<rect x="243.7" y="217.2" width="0.7" height="0.7" fill="#999"/>
<rect x="243.8" y="218.3" width="0.7" height="0.7" fill="#c4c4c4"/>
<rect x="226.0" y="209.0" width="0.7" height="0.7" fill="#aaa"/>
<rect x="235.7" y="210.6" width="0.7" height="0.7" fill="#888"/>
<rect x="244.5" y="217.8" width="0.7" height="0.7" fill="#aaa"/>
<rect x="241.1" y="215.0" width="0.7" height="0.7" fill="#c4c4c4"/>
<rect x="243.4" y="208.7" width="0.7" height="0.7" fill="#aaa"/>
<rect x="240.2" y="213.4" width="0.7" height="0.7" fill="#aaa"/>
<rect x="233.5" y="219.8" width="0.7" height="0.7" fill="#bbb"/>
<rect x="234.2" y="217.0" width="0.7" height="0.7" fill="#999"/>
<rect x="241.8" y="212.6" width="0.7" height="0.7" fill="#999"/>
<rect x="242.3" y="215.9" width="0.7" height="0.7" fill="#c4c4c4"/>
<rect x="233.4" y="209.1" width="0.7" height="0.7" fill="#c4c4c4"/>
<rect x="239.6" y="214.2" width="0.7" height="0.7" fill="#888"/>
<rect x="246.6" y="214.3" width="0.7" height="0.7" fill="#888"/>
<rect x="239.0" y="216.1" width="0.7" height="0.7" fill="#888"/>
<rect x="236.9" y="208.3" width="0.7" height="0.7" fill="#999"/>
<rect x="232.0" y="213.4" width="0.7" height="0.7" fill="#999"/>
<rect x="231.2" y="209.4" width="0.7" height="0.7" fill="#aaa"/>
<rect x="240.1" y="217.8" width="0.7" height="0.7" fill="#aaa"/>
<rect x="243.6" y="221.8" width="0.7" height="0.7" fill="#aaa"/>
<rect x="244.3" y="219.1" width="0.7" height="0.7" fill="#888"/>
<rect x="233.1" y="219.3" width="0.7" height="0.7" fill="#bbb"/>
<rect x="241.6" y="215.1" width="0.7" height="0.7" fill="#888"/>
<rect x="237.3" y="216.7" width="0.7" height="0.7" fill="#aaa"/>
<rect x="240.9" y="218.8" width="0.7" height="0.7" fill="#bbb"/>
<rect x="227.2" y="213.0" width="0.7" height="0.7" fill="#aaa"/>
<rect x="235.8" y="218.8" width="0.7" height="0.7" fill="#999"/>
<rect x="251.4" y="217.9" width="0.7" height="0.7" fill="#c4c4c4"/>
<rect x="253.0" y="216.7" width="0.7" height="0.7" fill="#999"/>
<rect x="239.0" y="214.3" width="0.7" height="0.7" fill="#aaa"/>
<rect x="248.5" y="211.3" width="0.7" height="0.7" fill="#999"/>
<rect x="238.0" y="210.5" width="0.7" height="0.7" fill="#999"/>
<rect x="244.0" y="212.9" width="0.7" height="0.7" fill="#999"/>
<rect x="232.8" y="207.9" width="0.7" height="0.7" fill="#999"/>
<rect x="236.9" y="212.0" width="0.7" height="0.7" fill="#888"/>
<rect x="220.4" y="215.5" width="0.7" height="0.7" fill="#999"/>
<rect x="236.9" y="218.7" width="0.7" height="0.7" fill="#aaa"/>
<rect x="242.4" y="214.0" width="0.7" height="0.7" fill="#c4c4c4"/>
<rect x="241.5" y="219.4" width="0.7" height="0.7" fill="#999"/>
<rect x="239.1" y="209.5" width="0.7" height="0.7" fill="#aaa"/>
<rect x="243.5" y="220.2" width="0.7" height="0.7" fill="#bbb"/>
<rect x="239.7" y="222.5" width="0.7" height="0.7" fill="#888"/>
<rect x="239.0" y="214.2" width="0.7" height="0.7" fill="#c4c4c4"/>
<rect x="241.4" y="210.3" width="0.7" height="0.7" fill="#999"/>
<rect x="233.0" y="211.7" width="0.7" height="0.7" fill="#c4c4c4"/>
<rect x="242.6" y="208.1" width="0.7" height="0.7" fill="#aaa"/>
<rect x="235.5" y="217.4" width="0.7" height="0.7" fill="#999"/>
<rect x="239.3" y="208.6" width="0.7" height="0.7" fill="#999"/>
<rect x="242.4" y="214.8" width="0.7" height="0.7" fill="#999"/>
<rect x="230.1" y="215.6" width="0.7" height="0.7" fill="#aaa"/>
<rect x="249.6" y="214.6" width="0.7" height="0.7" fill="#bbb"/>
<rect x="248.7" y="218.3" width="0.7" height="0.7" fill="#c4c4c4"/>
<rect x="238.8" y="218.5" width="0.7" height="0.7" fill="#c4c4c4"/>
<rect x="238.6" y="220.7" width="0.7" height="0.7" fill="#888"/>
<rect x="227.2" y="211.3" width="0.7" height="0.7" fill="#c4c4c4"/>
<rect x="222.9" y="217.9" width="0.7" height="0.7" fill="#c4c4c4"/>
<rect x="239.8" y="208.2" width="0.7" height="0.7" fill="#999"/>
<rect x="225.4" y="210.8" width="0.7" height="0.7" fill="#888"/>
<rect x="235.6" y="213.0" width="0.7" height="0.7" fill="#c4c4c4"/>
<rect x="232.5" y="216.1" width="0.7" height="0.7" fill="#c4c4c4"/>
<rect x="229.1" y="208.9" width="0.7" height="0.7" fill="#c4c4c4"/>
<rect x="237.3" y="212.6" width="0.7" height="0.7" fill="#bbb"/>
<rect x="242.9" y="219.4" width="0.7" height="0.7" fill="#c4c4c4"/>
<rect x="246.4" y="220.8" width="0.7" height="0.7" fill="#c4c4c4"/>
<rect x="238.8" y="214.2" width="0.7" height="0.7" fill="#888"/>
<rect x="235.3" y="209.6" width="0.7" height="0.7" fill="#bbb"/>
<rect x="250.6" y="222.4" width="0.7" height="0.7" fill="#888"/>
<rect x="237.1" y="212.8" width="0.7" height="0.7" fill="#999"/>
<rect x="236.4" y="212.6" width="0.7" height="0.7" fill="#999"/>
<rect x="251.9" y="219.8" width="0.7" height="0.7" fill="#aaa"/>
<rect x="231.0" y="213.1" width="0.7" height="0.7" fill="#bbb"/>
<rect x="245.7" y="219.1" width="0.7" height="0.7" fill="#999"/>
<rect x="238.1" y="216.5" width="0.7" height="0.7" fill="#bbb"/>
<rect x="255.2" y="211.5" width="0.7" height="0.7" fill="#999"/>
<rect x="244.5" y="217.1" width="0.7" height="0.7" fill="#999"/>
<rect x="245.7" y="212.5" width="0.7" height="0.7" fill="#aaa"/>
<rect x="243.0" y="216.9" width="0.7" height="0.7" fill="#bbb"/>
<rect x="241.4" y="213.8" width="0.7" height="0.7" fill="#bbb"/>
<rect x="237.1" y="210.6" width="0.7" height="0.7" fill="#aaa"/>
<rect x="229.3" y="212.9" width="0.7" height="0.7" fill="#aaa"/>
<rect x="243.2" y="221.5" width="0.7" height="0.7" fill="#aaa"/>
<rect x="238.5" y="213.3" width="0.7" height="0.7" fill="#aaa"/>
<rect x="234.5" y="216.2" width="0.7" height="0.7" fill="#999"/>
<rect x="241.8" y="213.6" width="0.7" height="0.7" fill="#999"/>
<rect x="240.5" y="214.0" width="0.7" height="0.7" fill="#bbb"/>
<rect x="238.2" y="219.1" width="0.7" height="0.7" fill="#aaa"/>
<rect x="234.4" y="210.3" width="0.7" height="0.7" fill="#c4c4c4"/>
<rect x="257.2" y="221.3" width="0.7" height="0.7" fill="#999"/>
<rect x="240.3" y="219.8" width="0.7" height="0.7" fill="#c4c4c4"/>
<rect x="228.3" y="214.0" width="0.7" height="0.7" fill="#888"/>
<rect x="242.5" y="221.2" width="0.7" height="0.7" fill="#c4c4c4"/>
<rect x="221.9" y="217.4" width="0.7" height="0.7" fill="#aaa"/>
<rect x="225.9" y="210.8" width="0.7" height="0.7" fill="#999"/>
<rect x="233.2" y="214.8" width="0.7" height="0.7" fill="#aaa"/>
<rect x="233.4" y="211.7" width="0.7" height="0.7" fill="#999"/>
<rect x="242.4" y="221.6" width="0.7" height="0.7" fill="#bbb"/>
<rect x="233.9" y="212.6" width="0.7" height="0.7" fill="#999"/>
<rect x="250.0" y="210.2" width="0.7" height="0.7" fill="#c4c4c4"/>
<rect x="244.2" y="208.7" width="0.7" height="0.7" fill="#bbb"/>
<rect x="234.9" y="209.5" width="0.7" height="0.7" fill="#aaa"/>
<rect x="237.9" y="214.8" width="0.7" height="0.7" fill="#bbb"/>
<rect x="242.0" y="217.9" width="0.7" height="0.7" fill="#aaa"/>
<rect x="246.2" y="211.6" width="0.7" height="0.7" fill="#c4c4c4"/>
<rect x="231.5" y="215.5" width="0.7" height="0.7" fill="#bbb"/>
<rect x="233.5" y="211.8" width="0.7" height="0.7" fill="#bbb"/>
<rect x="245.5" y="215.6" width="0.7" height="0.7" fill="#bbb"/>
<rect x="225.5" y="216.6" width="0.7" height="0.7" fill="#c4c4c4"/>
<rect x="236.4" y="216.4" width="0.7" height="0.7" fill="#bbb"/>
<rect x="231.2" y="221.3" width="0.7" height="0.7" fill="#c4c4c4"/>
<rect x="233.1" y="219.5" width="0.7" height="0.7" fill="#bbb"/>
<rect x="247.8" y="213.6" width="0.7" height="0.7" fill="#999"/>
<rect x="248.4" y="210.7" width="0.7" height="0.7" fill="#bbb"/>
<rect x="233.7" y="213.5" width="0.7" height="0.7" fill="#aaa"/>
<rect x="232.8" y="210.1" width="0.7" height="0.7" fill="#c4c4c4"/>
<rect x="238.3" y="220.3" width="0.7" height="0.7" fill="#c4c4c4"/>
<rect x="238.8" y="217.2" width="0.7" height="0.7" fill="#c4c4c4"/>
<rect x="238.9" y="212.6" width="0.7" height="0.7" fill="#aaa"/>
<rect x="242.6" y="218.6" width="0.7" height="0.7" fill="#aaa"/>
<rect x="248.8" y="210.2" width="0.7" height="0.7" fill="#888"/>
<rect x="242.9" y="211.9" width="0.7" height="0.7" fill="#bbb"/>
<rect x="237.7" y="219.6" width="0.7" height="0.7" fill="#aaa"/>
<rect x="222.9" y="218.1" width="0.7" height="0.7" fill="#c4c4c4"/>
<rect x="240.4" y="213.2" width="0.7" height="0.7" fill="#c4c4c4"/>
<rect x="243.0" y="214.5" width="0.7" height="0.7" fill="#c4c4c4"/>
<rect x="243.2" y="214.6" width="0.7" height="0.7" fill="#999"/>
<rect x="229.1" y="210.8" width="0.7" height="0.7" fill="#888"/>
<rect x="235.4" y="219.1" width="0.7" height="0.7" fill="#aaa"/>
<rect x="230.8" y="221.1" width="0.7" height="0.7" fill="#999"/>
<rect x="243.1" y="220.4" width="0.7" height="0.7" fill="#bbb"/>
<rect x="232.4" y="213.6" width="0.7" height="0.7" fill="#c4c4c4"/>
<rect x="235.0" y="220.4" width="0.7" height="0.7" fill="#c4c4c4"/>
<rect x="223.9" y="218.8" width="0.7" height="0.7" fill="#999"/>
<rect x="245.7" y="221.5" width="0.7" height="0.7" fill="#888"/>
<rect x="248.4" y="217.9" width="0.7" height="0.7" fill="#c4c4c4"/>
<rect x="243.0" y="217.3" width="0.7" height="0.7" fill="#999"/>
<rect x="246.5" y="208.6" width="0.7" height="0.7" fill="#888"/>
<rect x="241.5" y="211.7" width="0.7" height="0.7" fill="#bbb"/>
<rect x="239.2" y="221.3" width="0.7" height="0.7" fill="#bbb"/>
<rect x="238.4" y="221.6" width="0.7" height="0.7" fill="#999"/>
<rect x="238.4" y="209.4" width="0.7" height="0.7" fill="#c4c4c4"/>
<rect x="240.0" y="221.6" width="0.7" height="0.7" fill="#aaa"/>
<rect x="241.7" y="222.6" width="0.7" height="0.7" fill="#aaa"/>
<rect x="243.6" y="209.0" width="0.7" height="0.7" fill="#c4c4c4"/>
<rect x="237.2" y="210.5" width="0.7" height="0.7" fill="#c4c4c4"/>
<rect x="238.4" y="214.1" width="0.7" height="0.7" fill="#aaa"/>
<rect x="231.5" y="211.3" width="0.7" height="0.7" fill="#aaa"/>
<rect x="231.3" y="221.7" width="0.7" height="0.7" fill="#c4c4c4"/>
<rect x="242.0" y="213.1" width="0.7" height="0.7" fill="#999"/>
<rect x="234.6" y="211.1" width="0.7" height="0.7" fill="#bbb"/>
<rect x="236.0" y="214.7" width="0.7" height="0.7" fill="#999"/>
<rect x="241.2" y="211.1" width="0.7" height="0.7" fill="#c4c4c4"/>
<rect x="230.0" y="212.6" width="0.7" height="0.7" fill="#888"/>
<rect x="234.9" y="221.6" width="0.7" height="0.7" fill="#999"/>
<rect x="244.4" y="221.5" width="0.7" height="0.7" fill="#888"/>
<rect x="237.7" y="211.8" width="0.7" height="0.7" fill="#aaa"/>
<rect x="228.7" y="213.1" width="0.7" height="0.7" fill="#aaa"/>
<rect x="235.9" y="215.1" width="0.7" height="0.7" fill="#888"/>
<rect x="237.1" y="213.6" width="0.7" height="0.7" fill="#bbb"/>
<rect x="224.3" y="217.7" width="0.7" height="0.7" fill="#aaa"/>
<rect x="242.4" y="222.2" width="0.7" height="0.7" fill="#aaa"/>
<rect x="234.7" y="212.9" width="0.7" height="0.7" fill="#888"/>
<rect x="236.4" y="215.9" width="0.7" height="0.7" fill="#bbb"/>
<rect x="244.2" y="213.3" width="0.7" height="0.7" fill="#888"/>
<rect x="228.8" y="207.9" width="0.7" height="0.7" fill="#aaa"/>
<rect x="232.7" y="214.6" width="0.7" height="0.7" fill="#888"/>
<rect x="237.1" y="218.4" width="0.7" height="0.7" fill="#bbb"/>
<rect x="242.0" y="212.0" width="0.7" height="0.7" fill="#aaa"/>
<rect x="238.8" y="213.4" width="0.7" height="0.7" fill="#888"/>
<rect x="245.6" y="213.0" width="0.7" height="0.7" fill="#aaa"/>
<rect x="244.4" y="216.2" width="0.7" height="0.7" fill="#c4c4c4"/>
<rect x="239.5" y="211.6" width="0.7" height="0.7" fill="#bbb"/>
<rect x="223.5" y="212.5" width="0.7" height="0.7" fill="#999"/>
<rect x="223.9" y="215.5" width="0.7" height="0.7" fill="#bbb"/>
<rect x="236.9" y="211.6" width="0.7" height="0.7" fill="#888"/>
<rect x="232.8" y="209.4" width="0.7" height="0.7" fill="#c4c4c4"/>
<rect x="238.9" y="215.8" width="0.7" height="0.7" fill="#bbb"/>
<rect x="239.2" y="213.8" width="0.7" height="0.7" fill="#aaa"/>
<rect x="240.0" y="213.8" width="0.7" height="0.7" fill="#999"/>
<rect x="238.0" y="212.2" width="0.7" height="0.7" fill="#bbb"/>
<rect x="246.8" y="219.9" width="0.7" height="0.7" fill="#aaa"/>
<rect x="242.2" y="213.3" width="0.7" height="0.7" fill="#c4c4c4"/>
<rect x="224.5" y="212.7" width="0.7" height="0.7" fill="#999"/>
<rect x="237.6" y="212.4" width="0.7" height="0.7" fill="#999"/>
<rect x="227.9" y="217.9" width="0.7" height="0.7" fill="#c4c4c4"/>
<rect x="245.0" y="216.7" width="0.7" height="0.7" fill="#bbb"/>
<rect x="242.5" y="209.5" width="0.7" height="0.7" fill="#aaa"/>
<rect x="253.5" y="214.9" width="0.7" height="0.7" fill="#c4c4c4"/>
<rect x="240.2" y="222.9" width="0.7" height="0.7" fill="#888"/>
<rect x="245.0" y="220.3" width="0.7" height="0.7" fill="#bbb"/>
<rect x="229.7" y="213.1" width="0.7" height="0.7" fill="#999"/>
<rect x="226.8" y="212.0" width="0.7" height="0.7" fill="#aaa"/>
<rect x="243.3" y="216.4" width="0.7" height="0.7" fill="#c4c4c4"/>
<rect x="231.1" y="216.4" width="0.7" height="0.7" fill="#aaa"/>
<rect x="232.1" y="217.0" width="0.7" height="0.7" fill="#aaa"/>
<rect x="240.1" y="210.0" width="0.7" height="0.7" fill="#999"/>
<rect x="236.4" y="216.2" width="0.7" height="0.7" fill="#999"/>
<rect x="239.2" y="210.9" width="0.7" height="0.7" fill="#bbb"/>
<rect x="246.0" y="221.8" width="0.7" height="0.7" fill="#c4c4c4"/>
<rect x="242.7" y="209.3" width="0.7" height="0.7" fill="#bbb"/>
<rect x="221.3" y="208.5" width="0.7" height="0.7" fill="#c4c4c4"/>
<rect x="250.8" y="212.4" width="0.7" height="0.7" fill="#bbb"/>
<rect x="248.2" y="215.4" width="0.7" height="0.7" fill="#bbb"/>
<rect x="235.6" y="214.6" width="0.7" height="0.7" fill="#c4c4c4"/>
<rect x="229.8" y="209.3" width="0.7" height="0.7" fill="#bbb"/>
<rect x="229.5" y="216.8" width="0.7" height="0.7" fill="#aaa"/>
<rect x="242.5" y="216.5" width="0.7" height="0.7" fill="#c4c4c4"/>
<rect x="237.6" y="210.2" width="0.7" height="0.7" fill="#bbb"/>
<rect x="234.6" y="215.9" width="0.7" height="0.7" fill="#999"/>
<rect x="246.2" y="218.6" width="0.7" height="0.7" fill="#999"/>
<rect x="236.4" y="214.4" width="0.7" height="0.7" fill="#888"/>
<rect x="254.7" y="219.0" width="0.7" height="0.7" fill="#c4c4c4"/>
<rect x="239.2" y="216.3" width="0.7" height="0.7" fill="#999"/>
<rect x="240.0" y="209.2" width="0.7" height="0.7" fill="#888"/>
<rect x="237.7" y="217.4" width="0.7" height="0.7" fill="#bbb"/>
<rect x="250.9" y="217.2" width="0.7" height="0.7" fill="#bbb"/>
<rect x="237.1" y="220.7" width="0.7" height="0.7" fill="#aaa"/>
<rect x="229.9" y="214.8" width="0.7" height="0.7" fill="#c4c4c4"/>
<rect x="233.4" y="222.5" width="0.7" height="0.7" fill="#bbb"/>
<rect x="231.9" y="215.6" width="0.7" height="0.7" fill="#aaa"/>
<rect x="236.7" y="217.8" width="0.7" height="0.7" fill="#aaa"/>
<rect x="233.8" y="208.0" width="0.7" height="0.7" fill="#999"/>
<rect x="232.1" y="212.9" width="0.7" height="0.7" fill="#c4c4c4"/>
<rect x="242.9" y="220.5" width="0.7" height="0.7" fill="#888"/>
<rect x="219.1" y="210.2" width="0.7" height="0.7" fill="#c4c4c4"/>
<rect x="234.6" y="215.5" width="0.7" height="0.7" fill="#bbb"/>
<rect x="238.7" y="212.6" width="0.7" height="0.7" fill="#999"/>
<rect x="249.8" y="209.0" width="0.7" height="0.7" fill="#c4c4c4"/>
<rect x="244.4" y="222.6" width="0.7" height="0.7" fill="#aaa"/>
<rect x="244.9" y="221.8" width="0.7" height="0.7" fill="#c4c4c4"/>
<rect x="234.4" y="218.2" width="0.7" height="0.7" fill="#c4c4c4"/>
<rect x="246.5" y="210.0" width="0.7" height="0.7" fill="#aaa"/>
<rect x="242.2" y="217.8" width="0.7" height="0.7" fill="#888"/>
<rect x="230.4" y="215.2" width="0.7" height="0.7" fill="#aaa"/>
<rect x="231.5" y="214.4" width="0.7" height="0.7" fill="#999"/>
<rect x="225.8" y="220.1" width="0.7" height="0.7" fill="#aaa"/>
<rect x="237.3" y="212.6" width="0.7" height="0.7" fill="#c4c4c4"/>
<rect x="236.9" y="218.4" width="0.7" height="0.7" fill="#999"/>
<rect x="240.5" y="211.4" width="0.7" height="0.7" fill="#888"/>
<rect x="251.1" y="212.8" width="0.7" height="0.7" fill="#bbb"/>
<rect x="227.8" y="222.0" width="0.7" height="0.7" fill="#c4c4c4"/>
<rect x="245.0" y="211.7" width="0.7" height="0.7" fill="#999"/>
<rect x="236.7" y="219.8" width="0.7" height="0.7" fill="#888"/>
<rect x="250.2" y="213.3" width="0.7" height="0.7" fill="#aaa"/>
<rect x="242.2" y="211.7" width="0.7" height="0.7" fill="#bbb"/>
<rect x="231.5" y="222.3" width="0.7" height="0.7" fill="#888"/>
<rect x="240.2" y="212.9" width="0.7" height="0.7" fill="#bbb"/>
<rect x="241.6" y="209.4" width="0.7" height="0.7" fill="#c4c4c4"/>
<rect x="235.7" y="213.1" width="0.7" height="0.7" fill="#c4c4c4"/>
<rect x="238.3" y="213.7" width="0.7" height="0.7" fill="#999"/>
<rect x="253.3" y="212.1" width="0.7" height="0.7" fill="#bbb"/>
<rect x="231.0" y="213.0" width="0.7" height="0.7" fill="#bbb"/>
<rect x="237.4" y="219.1" width="0.7" height="0.7" fill="#aaa"/>
<rect x="225.4" y="215.8" width="0.7" height="0.7" fill="#999"/>
<rect x="235.4" y="222.4" width="0.7" height="0.7" fill="#bbb"/>
<rect x="225.6" y="208.9" width="0.7" height="0.7" fill="#c4c4c4"/>
<rect x="246.8" y="220.1" width="0.7" height="0.7" fill="#aaa"/>
<rect x="234.4" y="212.9" width="0.7" height="0.7" fill="#999"/>
<rect x="245.2" y="212.7" width="0.7" height="0.7" fill="#c4c4c4"/>
<rect x="243.6" y="213.8" width="0.7" height="0.7" fill="#c4c4c4"/>
<rect x="235.2" y="216.1" width="0.7" height="0.7" fill="#bbb"/>
<rect x="239.8" y="212.7" width="0.7" height="0.7" fill="#bbb"/>
<rect x="232.2" y="211.7" width="0.7" height="0.7" fill="#c4c4c4"/>
<rect x="234.4" y="213.6" width="0.7" height="0.7" fill="#999"/>
<rect x="245.6" y="210.7" width="0.7" height="0.7" fill="#888"/>
<rect x="238.0" y="214.3" width="0.7" height="0.7" fill="#bbb"/>
<rect x="239.2" y="215.8" width="0.7" height="0.7" fill="#888"/>
<rect x="241.2" y="208.9" width="0.7" height="0.7" fill="#aaa"/>
<rect x="241.4" y="221.1" width="0.7" height="0.7" fill="#999"/>
<rect x="251.8" y="218.1" width="0.7" height="0.7" fill="#c4c4c4"/>
<rect x="242.5" y="213.6" width="0.7" height="0.7" fill="#999"/>
<rect x="234.9" y="220.3" width="0.7" height="0.7" fill="#aaa"/>
<rect x="236.4" y="218.0" width="0.7" height="0.7" fill="#bbb"/>
<rect x="230.8" y="222.0" width="0.7" height="0.7" fill="#999"/>
<rect x="236.6" y="215.4" width="0.7" height="0.7" fill="#999"/>
<rect x="252.2" y="218.8" width="0.7" height="0.7" fill="#888"/>
<rect x="246.3" y="219.5" width="0.7" height="0.7" fill="#aaa"/>
<rect x="235.7" y="218.5" width="0.7" height="0.7" fill="#aaa"/>
<rect x="235.2" y="212.1" width="0.7" height="0.7" fill="#c4c4c4"/>
<rect x="241.6" y="216.2" width="0.7" height="0.7" fill="#c4c4c4"/>
<rect x="246.1" y="215.2" width="0.7" height="0.7" fill="#888"/>
<rect x="250.1" y="216.2" width="0.7" height="0.7" fill="#888"/>
<rect x="240.4" y="210.6" width="0.7" height="0.7" fill="#aaa"/>
<rect x="243.1" y="209.2" width="0.7" height="0.7" fill="#aaa"/>
<rect x="239.5" y="208.8" width="0.7" height="0.7" fill="#c4c4c4"/>
<rect x="236.9" y="218.0" width="0.7" height="0.7" fill="#aaa"/>
<rect x="243.8" y="209.6" width="0.7" height="0.7" fill="#bbb"/>
<rect x="232.8" y="218.2" width="0.7" height="0.7" fill="#888"/>
<rect x="239.2" y="217.4" width="0.7" height="0.7" fill="#aaa"/>
<rect x="238.5" y="214.9" width="0.7" height="0.7" fill="#999"/>
<rect x="235.1" y="217.4" width="0.7" height="0.7" fill="#c4c4c4"/>
<rect x="242.3" y="213.4" width="0.7" height="0.7" fill="#aaa"/>
<rect x="244.2" y="216.0" width="0.7" height="0.7" fill="#c4c4c4"/>
<rect x="237.9" y="213.9" width="0.7" height="0.7" fill="#aaa"/>
<rect x="239.4" y="207.8" width="0.7" height="0.7" fill="#aaa"/>
<rect x="236.3" y="213.8" width="0.7" height="0.7" fill="#c4c4c4"/>
<rect x="247.0" y="211.2" width="0.7" height="0.7" fill="#aaa"/>
<rect x="242.8" y="216.7" width="0.7" height="0.7" fill="#c4c4c4"/>
<rect x="240.7" y="220.7" width="0.7" height="0.7" fill="#bbb"/>
<rect x="227.3" y="209.2" width="0.7" height="0.7" fill="#aaa"/>
<rect x="231.0" y="213.8" width="0.7" height="0.7" fill="#999"/>
<rect x="238.0" y="213.1" width="0.7" height="0.7" fill="#bbb"/>
<rect x="241.6" y="212.9" width="0.7" height="0.7" fill="#bbb"/>
<line x1="227.30" y1="165.80" x2="227.30" y2="223.60" stroke="#b0b0b0" stroke-width="0.8" />
<line x1="213.40" y1="209.00" x2="271.60" y2="209.00" stroke="#bbb" stroke-width="1.0" />
<rect x="213.40" y="165.80" width="58.20" height="57.80" fill="none" stroke="#b4b4b4" stroke-width="1.1"/>
<line x1="213.40" y1="223.60" x2="271.60" y2="223.60" stroke="#666" stroke-width="1" />
<line x1="213.40" y1="165.80" x2="213.40" y2="223.60" stroke="#888" stroke-width="1" />
<line x1="211.90" y1="223.60" x2="213.40" y2="223.60" stroke="#999" stroke-width="0.6" />
<text transform="translate(207.2,225.0) rotate(-14)" font-size="3.6" fill="#666">10<tspan dy="-1.3" font-size="2.5">0</tspan></text>
<line x1="213.40" y1="223.60" x2="213.40" y2="225.10" stroke="#999" stroke-width="0.6" />
<text transform="translate(210.8,229.2) rotate(-14)" font-size="3.6" fill="#666">10<tspan dy="-1.3" font-size="2.5">0</tspan></text>
<line x1="211.90" y1="209.15" x2="213.40" y2="209.15" stroke="#999" stroke-width="0.6" />
<text transform="translate(207.2,210.6) rotate(-14)" font-size="3.6" fill="#666">10<tspan dy="-1.3" font-size="2.5">1</tspan></text>
<line x1="227.95" y1="223.60" x2="227.95" y2="225.10" stroke="#999" stroke-width="0.6" />
<text transform="translate(225.4,229.2) rotate(-14)" font-size="3.6" fill="#666">10<tspan dy="-1.3" font-size="2.5">1</tspan></text>
<line x1="211.90" y1="194.70" x2="213.40" y2="194.70" stroke="#999" stroke-width="0.6" />
<text transform="translate(207.2,196.1) rotate(-14)" font-size="3.6" fill="#666">10<tspan dy="-1.3" font-size="2.5">2</tspan></text>
<line x1="242.50" y1="223.60" x2="242.50" y2="225.10" stroke="#999" stroke-width="0.6" />
<text transform="translate(239.9,229.2) rotate(-14)" font-size="3.6" fill="#666">10<tspan dy="-1.3" font-size="2.5">2</tspan></text>
<line x1="211.90" y1="180.25" x2="213.40" y2="180.25" stroke="#999" stroke-width="0.6" />
<text transform="translate(207.2,181.7) rotate(-14)" font-size="3.6" fill="#666">10<tspan dy="-1.3" font-size="2.5">3</tspan></text>
<line x1="257.05" y1="223.60" x2="257.05" y2="225.10" stroke="#999" stroke-width="0.6" />
<text transform="translate(254.5,229.2) rotate(-14)" font-size="3.6" fill="#666">10<tspan dy="-1.3" font-size="2.5">3</tspan></text>
<line x1="211.90" y1="165.80" x2="213.40" y2="165.80" stroke="#999" stroke-width="0.6" />
<text transform="translate(207.2,167.2) rotate(-14)" font-size="3.6" fill="#666">10<tspan dy="-1.3" font-size="2.5">4</tspan></text>
<line x1="271.60" y1="223.60" x2="271.60" y2="225.10" stroke="#999" stroke-width="0.6" />
<text transform="translate(269.0,229.2) rotate(-14)" font-size="3.6" fill="#666">10<tspan dy="-1.3" font-size="2.5">4</tspan></text>
<text x="215.2" y="169.6" font-size="3.0" fill="#888">0.47</text>
<text x="265.1" y="169.6" font-size="3.0" fill="#888">0.03</text>
<text x="215.2" y="222.4" font-size="3.0" fill="#888">99.4</text>
<text x="265.1" y="222.4" font-size="3.0" fill="#888">0.10</text>
<rect x="411.2" y="212.1" width="0.7" height="0.7" fill="#888"/>
<rect x="406.7" y="210.2" width="0.7" height="0.7" fill="#888"/>
<rect x="413.6" y="218.0" width="0.7" height="0.7" fill="#999"/>
<rect x="414.6" y="218.7" width="0.7" height="0.7" fill="#888"/>
<rect x="411.5" y="219.0" width="0.7" height="0.7" fill="#777"/>
<rect x="407.4" y="221.8" width="0.7" height="0.7" fill="#aaa"/>
<rect x="409.9" y="215.6" width="0.7" height="0.7" fill="#777"/>
<rect x="416.5" y="214.5" width="0.7" height="0.7" fill="#aaa"/>
<rect x="417.0" y="222.2" width="0.7" height="0.7" fill="#bbb"/>
<rect x="419.8" y="211.4" width="0.7" height="0.7" fill="#aaa"/>
<rect x="416.1" y="210.9" width="0.7" height="0.7" fill="#888"/>
<rect x="416.8" y="212.4" width="0.7" height="0.7" fill="#bbb"/>
<rect x="422.8" y="218.8" width="0.7" height="0.7" fill="#777"/>
<rect x="411.3" y="209.1" width="0.7" height="0.7" fill="#aaa"/>
<rect x="400.9" y="221.7" width="0.7" height="0.7" fill="#999"/>
<rect x="405.5" y="219.8" width="0.7" height="0.7" fill="#aaa"/>
<rect x="407.3" y="217.1" width="0.7" height="0.7" fill="#aaa"/>
<rect x="410.5" y="219.5" width="0.7" height="0.7" fill="#888"/>
<rect x="416.7" y="211.4" width="0.7" height="0.7" fill="#bbb"/>
<rect x="421.7" y="221.7" width="0.7" height="0.7" fill="#aaa"/>
<rect x="401.6" y="218.8" width="0.7" height="0.7" fill="#aaa"/>
<rect x="418.3" y="214.8" width="0.7" height="0.7" fill="#aaa"/>
<rect x="408.0" y="221.2" width="0.7" height="0.7" fill="#888"/>
<rect x="414.1" y="214.6" width="0.7" height="0.7" fill="#999"/>
<rect x="411.6" y="214.9" width="0.7" height="0.7" fill="#888"/>
<rect x="406.7" y="218.4" width="0.7" height="0.7" fill="#888"/>
<rect x="416.9" y="216.7" width="0.7" height="0.7" fill="#888"/>
<rect x="412.2" y="217.6" width="0.7" height="0.7" fill="#bbb"/>
<rect x="413.9" y="216.4" width="0.7" height="0.7" fill="#888"/>
<rect x="420.3" y="218.2" width="0.7" height="0.7" fill="#999"/>
<rect x="418.0" y="220.7" width="0.7" height="0.7" fill="#888"/>
<rect x="408.9" y="206.7" width="0.7" height="0.7" fill="#777"/>
<rect x="415.3" y="221.7" width="0.7" height="0.7" fill="#aaa"/>
<rect x="416.1" y="210.2" width="0.7" height="0.7" fill="#888"/>
<rect x="409.3" y="219.5" width="0.7" height="0.7" fill="#bbb"/>
<rect x="400.6" y="215.4" width="0.7" height="0.7" fill="#999"/>
<rect x="420.6" y="214.4" width="0.7" height="0.7" fill="#999"/>
<rect x="415.5" y="209.6" width="0.7" height="0.7" fill="#999"/>
<rect x="404.5" y="214.8" width="0.7" height="0.7" fill="#777"/>
<rect x="423.1" y="208.6" width="0.7" height="0.7" fill="#bbb"/>
<rect x="403.5" y="215.9" width="0.7" height="0.7" fill="#bbb"/>
<rect x="413.9" y="213.3" width="0.7" height="0.7" fill="#bbb"/>
<rect x="404.2" y="218.1" width="0.7" height="0.7" fill="#888"/>
<rect x="405.2" y="214.0" width="0.7" height="0.7" fill="#888"/>
<rect x="408.8" y="217.8" width="0.7" height="0.7" fill="#bbb"/>
<rect x="416.9" y="213.6" width="0.7" height="0.7" fill="#999"/>
<rect x="415.3" y="219.5" width="0.7" height="0.7" fill="#888"/>
<rect x="420.3" y="218.5" width="0.7" height="0.7" fill="#777"/>
<rect x="404.2" y="219.7" width="0.7" height="0.7" fill="#888"/>
<rect x="418.6" y="220.9" width="0.7" height="0.7" fill="#888"/>
<rect x="410.2" y="220.1" width="0.7" height="0.7" fill="#999"/>
<rect x="434.6" y="222.2" width="0.7" height="0.7" fill="#aaa"/>
<rect x="415.8" y="218.6" width="0.7" height="0.7" fill="#888"/>
<rect x="410.8" y="213.3" width="0.7" height="0.7" fill="#999"/>
<rect x="418.3" y="219.0" width="0.7" height="0.7" fill="#aaa"/>
<rect x="403.5" y="212.8" width="0.7" height="0.7" fill="#bbb"/>
<rect x="417.7" y="222.5" width="0.7" height="0.7" fill="#bbb"/>
<rect x="404.5" y="221.9" width="0.7" height="0.7" fill="#888"/>
<rect x="409.2" y="217.6" width="0.7" height="0.7" fill="#999"/>
<rect x="419.3" y="221.1" width="0.7" height="0.7" fill="#888"/>
<rect x="420.8" y="216.6" width="0.7" height="0.7" fill="#777"/>
<rect x="411.3" y="212.1" width="0.7" height="0.7" fill="#888"/>
<rect x="414.7" y="218.3" width="0.7" height="0.7" fill="#888"/>
<rect x="406.6" y="219.3" width="0.7" height="0.7" fill="#999"/>
<rect x="412.0" y="216.9" width="0.7" height="0.7" fill="#999"/>
<rect x="413.5" y="216.5" width="0.7" height="0.7" fill="#bbb"/>
<rect x="418.2" y="221.0" width="0.7" height="0.7" fill="#aaa"/>
<rect x="421.2" y="216.6" width="0.7" height="0.7" fill="#bbb"/>
<rect x="411.3" y="222.3" width="0.7" height="0.7" fill="#bbb"/>
<rect x="412.4" y="218.2" width="0.7" height="0.7" fill="#aaa"/>
<rect x="403.6" y="221.6" width="0.7" height="0.7" fill="#888"/>
<rect x="409.1" y="217.7" width="0.7" height="0.7" fill="#888"/>
<rect x="408.6" y="221.2" width="0.7" height="0.7" fill="#aaa"/>
<rect x="413.9" y="220.1" width="0.7" height="0.7" fill="#bbb"/>
<rect x="413.8" y="218.3" width="0.7" height="0.7" fill="#888"/>
<rect x="409.7" y="216.1" width="0.7" height="0.7" fill="#999"/>
<rect x="415.1" y="221.9" width="0.7" height="0.7" fill="#aaa"/>
<rect x="407.3" y="216.9" width="0.7" height="0.7" fill="#888"/>
<rect x="425.9" y="207.8" width="0.7" height="0.7" fill="#999"/>
<rect x="419.5" y="220.4" width="0.7" height="0.7" fill="#888"/>
<rect x="419.9" y="213.5" width="0.7" height="0.7" fill="#777"/>
<rect x="405.7" y="209.4" width="0.7" height="0.7" fill="#bbb"/>
<rect x="408.6" y="221.7" width="0.7" height="0.7" fill="#aaa"/>
<rect x="416.7" y="222.5" width="0.7" height="0.7" fill="#777"/>
<rect x="414.3" y="219.8" width="0.7" height="0.7" fill="#777"/>
<rect x="405.6" y="221.8" width="0.7" height="0.7" fill="#888"/>
<rect x="405.2" y="212.3" width="0.7" height="0.7" fill="#888"/>
<rect x="414.1" y="211.8" width="0.7" height="0.7" fill="#777"/>
<rect x="404.2" y="208.5" width="0.7" height="0.7" fill="#aaa"/>
<rect x="397.3" y="220.7" width="0.7" height="0.7" fill="#bbb"/>
<rect x="403.9" y="219.4" width="0.7" height="0.7" fill="#bbb"/>
<rect x="402.8" y="213.5" width="0.7" height="0.7" fill="#999"/>
<rect x="414.4" y="220.6" width="0.7" height="0.7" fill="#aaa"/>
<rect x="417.0" y="216.1" width="0.7" height="0.7" fill="#999"/>
<rect x="414.9" y="214.7" width="0.7" height="0.7" fill="#999"/>
<rect x="406.7" y="205.7" width="0.7" height="0.7" fill="#999"/>
<rect x="411.0" y="219.8" width="0.7" height="0.7" fill="#777"/>
<rect x="413.3" y="222.1" width="0.7" height="0.7" fill="#aaa"/>
<rect x="411.4" y="219.4" width="0.7" height="0.7" fill="#777"/>
<rect x="409.0" y="209.0" width="0.7" height="0.7" fill="#bbb"/>
<rect x="423.6" y="222.7" width="0.7" height="0.7" fill="#777"/>
<rect x="403.7" y="218.2" width="0.7" height="0.7" fill="#aaa"/>
<rect x="416.9" y="213.1" width="0.7" height="0.7" fill="#bbb"/>
<rect x="409.0" y="211.2" width="0.7" height="0.7" fill="#bbb"/>
<rect x="416.1" y="218.9" width="0.7" height="0.7" fill="#888"/>
<rect x="419.1" y="222.5" width="0.7" height="0.7" fill="#aaa"/>
<rect x="410.5" y="210.5" width="0.7" height="0.7" fill="#999"/>
<rect x="411.3" y="222.5" width="0.7" height="0.7" fill="#888"/>
<rect x="416.7" y="221.7" width="0.7" height="0.7" fill="#aaa"/>
<rect x="404.3" y="208.4" width="0.7" height="0.7" fill="#999"/>
<rect x="412.0" y="209.1" width="0.7" height="0.7" fill="#777"/>
<rect x="415.9" y="216.9" width="0.7" height="0.7" fill="#999"/>
<rect x="422.8" y="222.2" width="0.7" height="0.7" fill="#777"/>
<rect x="406.8" y="222.2" width="0.7" height="0.7" fill="#bbb"/>
<rect x="398.2" y="219.0" width="0.7" height="0.7" fill="#888"/>
<rect x="407.6" y="221.6" width="0.7" height="0.7" fill="#777"/>
<rect x="406.6" y="217.1" width="0.7" height="0.7" fill="#888"/>
<rect x="414.9" y="214.2" width="0.7" height="0.7" fill="#aaa"/>
<rect x="423.6" y="219.9" width="0.7" height="0.7" fill="#888"/>
<rect x="413.1" y="219.8" width="0.7" height="0.7" fill="#aaa"/>
<rect x="407.1" y="219.5" width="0.7" height="0.7" fill="#aaa"/>
<rect x="417.5" y="217.3" width="0.7" height="0.7" fill="#777"/>
<rect x="399.6" y="220.9" width="0.7" height="0.7" fill="#999"/>
<rect x="414.2" y="211.4" width="0.7" height="0.7" fill="#bbb"/>
<rect x="407.7" y="216.7" width="0.7" height="0.7" fill="#999"/>
<rect x="413.1" y="222.3" width="0.7" height="0.7" fill="#bbb"/>
<rect x="414.1" y="219.7" width="0.7" height="0.7" fill="#aaa"/>
<rect x="413.8" y="219.3" width="0.7" height="0.7" fill="#bbb"/>
<rect x="419.0" y="220.0" width="0.7" height="0.7" fill="#bbb"/>
<rect x="416.3" y="220.3" width="0.7" height="0.7" fill="#888"/>
<rect x="402.9" y="221.9" width="0.7" height="0.7" fill="#aaa"/>
<rect x="412.1" y="214.1" width="0.7" height="0.7" fill="#aaa"/>
<rect x="418.9" y="222.2" width="0.7" height="0.7" fill="#aaa"/>
<rect x="412.2" y="216.3" width="0.7" height="0.7" fill="#777"/>
<rect x="412.2" y="220.5" width="0.7" height="0.7" fill="#777"/>
<rect x="409.7" y="215.7" width="0.7" height="0.7" fill="#888"/>
<rect x="421.0" y="216.8" width="0.7" height="0.7" fill="#888"/>
<rect x="423.4" y="213.6" width="0.7" height="0.7" fill="#777"/>
<rect x="422.7" y="217.3" width="0.7" height="0.7" fill="#aaa"/>
<rect x="416.6" y="213.5" width="0.7" height="0.7" fill="#bbb"/>
<rect x="410.0" y="212.5" width="0.7" height="0.7" fill="#777"/>
<rect x="407.6" y="219.8" width="0.7" height="0.7" fill="#bbb"/>
<rect x="418.8" y="214.3" width="0.7" height="0.7" fill="#777"/>
<rect x="410.0" y="221.3" width="0.7" height="0.7" fill="#aaa"/>
<rect x="406.2" y="215.2" width="0.7" height="0.7" fill="#777"/>
<rect x="400.6" y="221.8" width="0.7" height="0.7" fill="#999"/>
<rect x="416.3" y="217.9" width="0.7" height="0.7" fill="#999"/>
<rect x="414.8" y="215.1" width="0.7" height="0.7" fill="#aaa"/>
<rect x="405.8" y="219.5" width="0.7" height="0.7" fill="#bbb"/>
<rect x="418.2" y="219.6" width="0.7" height="0.7" fill="#bbb"/>
<rect x="417.4" y="220.8" width="0.7" height="0.7" fill="#777"/>
<rect x="405.1" y="209.0" width="0.7" height="0.7" fill="#888"/>
<rect x="409.2" y="216.5" width="0.7" height="0.7" fill="#888"/>
<rect x="418.3" y="219.0" width="0.7" height="0.7" fill="#999"/>
<rect x="401.6" y="216.1" width="0.7" height="0.7" fill="#999"/>
<rect x="415.9" y="202.7" width="0.7" height="0.7" fill="#bbb"/>
<rect x="405.5" y="220.4" width="0.7" height="0.7" fill="#777"/>
<rect x="401.8" y="218.1" width="0.7" height="0.7" fill="#888"/>
<rect x="415.8" y="220.4" width="0.7" height="0.7" fill="#777"/>
<rect x="415.3" y="217.8" width="0.7" height="0.7" fill="#aaa"/>
<rect x="406.5" y="205.2" width="0.7" height="0.7" fill="#999"/>
<rect x="415.8" y="207.0" width="0.7" height="0.7" fill="#888"/>
<rect x="410.6" y="218.2" width="0.7" height="0.7" fill="#bbb"/>
<rect x="414.6" y="222.2" width="0.7" height="0.7" fill="#888"/>
<rect x="414.4" y="220.3" width="0.7" height="0.7" fill="#999"/>
<rect x="417.7" y="219.9" width="0.7" height="0.7" fill="#888"/>
<rect x="412.7" y="218.7" width="0.7" height="0.7" fill="#bbb"/>
<rect x="421.8" y="221.6" width="0.7" height="0.7" fill="#bbb"/>
<rect x="416.3" y="221.2" width="0.7" height="0.7" fill="#777"/>
<rect x="399.4" y="216.9" width="0.7" height="0.7" fill="#bbb"/>
<rect x="406.3" y="213.4" width="0.7" height="0.7" fill="#888"/>
<rect x="408.3" y="210.8" width="0.7" height="0.7" fill="#999"/>
<rect x="414.1" y="219.5" width="0.7" height="0.7" fill="#bbb"/>
<rect x="420.3" y="219.5" width="0.7" height="0.7" fill="#aaa"/>
<rect x="404.0" y="221.7" width="0.7" height="0.7" fill="#777"/>
<rect x="412.6" y="218.5" width="0.7" height="0.7" fill="#888"/>
<rect x="409.9" y="215.6" width="0.7" height="0.7" fill="#bbb"/>
<rect x="407.5" y="220.2" width="0.7" height="0.7" fill="#999"/>
<rect x="410.1" y="213.7" width="0.7" height="0.7" fill="#888"/>
<rect x="398.4" y="217.6" width="0.7" height="0.7" fill="#999"/>
<rect x="409.9" y="211.8" width="0.7" height="0.7" fill="#999"/>
<rect x="419.5" y="216.9" width="0.7" height="0.7" fill="#aaa"/>
<rect x="418.6" y="211.0" width="0.7" height="0.7" fill="#777"/>
<rect x="416.7" y="221.5" width="0.7" height="0.7" fill="#777"/>
<rect x="413.4" y="218.1" width="0.7" height="0.7" fill="#bbb"/>
<rect x="410.8" y="219.6" width="0.7" height="0.7" fill="#888"/>
<rect x="409.0" y="221.5" width="0.7" height="0.7" fill="#777"/>
<rect x="409.4" y="213.9" width="0.7" height="0.7" fill="#aaa"/>
<rect x="402.8" y="217.4" width="0.7" height="0.7" fill="#aaa"/>
<rect x="412.4" y="216.4" width="0.7" height="0.7" fill="#bbb"/>
<rect x="411.5" y="222.4" width="0.7" height="0.7" fill="#bbb"/>
<rect x="413.9" y="220.7" width="0.7" height="0.7" fill="#888"/>
<rect x="421.2" y="215.3" width="0.7" height="0.7" fill="#bbb"/>
<rect x="414.8" y="215.8" width="0.7" height="0.7" fill="#777"/>
<rect x="408.7" y="220.9" width="0.7" height="0.7" fill="#999"/>
<rect x="419.7" y="222.6" width="0.7" height="0.7" fill="#aaa"/>
<rect x="411.9" y="218.7" width="0.7" height="0.7" fill="#aaa"/>
<rect x="412.9" y="221.9" width="0.7" height="0.7" fill="#bbb"/>
<rect x="404.8" y="213.8" width="0.7" height="0.7" fill="#aaa"/>
<rect x="411.7" y="219.4" width="0.7" height="0.7" fill="#aaa"/>
<rect x="411.4" y="213.7" width="0.7" height="0.7" fill="#999"/>
<rect x="401.1" y="210.5" width="0.7" height="0.7" fill="#777"/>
<rect x="414.4" y="213.7" width="0.7" height="0.7" fill="#999"/>
<rect x="412.7" y="214.6" width="0.7" height="0.7" fill="#777"/>
<rect x="400.4" y="218.6" width="0.7" height="0.7" fill="#aaa"/>
<rect x="407.2" y="218.1" width="0.7" height="0.7" fill="#bbb"/>
<rect x="423.2" y="221.1" width="0.7" height="0.7" fill="#777"/>
<rect x="408.1" y="216.4" width="0.7" height="0.7" fill="#777"/>
<rect x="409.9" y="214.0" width="0.7" height="0.7" fill="#aaa"/>
<rect x="401.8" y="215.0" width="0.7" height="0.7" fill="#888"/>
<rect x="404.9" y="217.7" width="0.7" height="0.7" fill="#aaa"/>
<rect x="413.2" y="215.3" width="0.7" height="0.7" fill="#888"/>
<rect x="401.3" y="220.1" width="0.7" height="0.7" fill="#777"/>
<rect x="410.0" y="211.3" width="0.7" height="0.7" fill="#bbb"/>
<rect x="418.2" y="217.0" width="0.7" height="0.7" fill="#777"/>
<rect x="407.8" y="221.2" width="0.7" height="0.7" fill="#777"/>
<rect x="412.2" y="215.2" width="0.7" height="0.7" fill="#bbb"/>
<rect x="397.9" y="222.6" width="0.7" height="0.7" fill="#777"/>
<rect x="417.6" y="221.0" width="0.7" height="0.7" fill="#bbb"/>
<rect x="411.4" y="215.0" width="0.7" height="0.7" fill="#bbb"/>
<rect x="414.0" y="219.3" width="0.7" height="0.7" fill="#999"/>
<rect x="412.7" y="215.3" width="0.7" height="0.7" fill="#aaa"/>
<rect x="409.8" y="221.7" width="0.7" height="0.7" fill="#888"/>
<rect x="402.2" y="215.5" width="0.7" height="0.7" fill="#777"/>
<rect x="411.0" y="213.7" width="0.7" height="0.7" fill="#999"/>
<rect x="410.2" y="221.8" width="0.7" height="0.7" fill="#777"/>
<rect x="409.6" y="215.5" width="0.7" height="0.7" fill="#888"/>
<rect x="410.3" y="213.2" width="0.7" height="0.7" fill="#999"/>
<rect x="401.0" y="214.5" width="0.7" height="0.7" fill="#888"/>
<rect x="422.9" y="209.6" width="0.7" height="0.7" fill="#aaa"/>
<rect x="426.5" y="213.2" width="0.7" height="0.7" fill="#bbb"/>
<rect x="405.7" y="218.7" width="0.7" height="0.7" fill="#777"/>
<rect x="419.0" y="219.4" width="0.7" height="0.7" fill="#aaa"/>
<rect x="409.5" y="222.6" width="0.7" height="0.7" fill="#aaa"/>
<rect x="414.5" y="213.1" width="0.7" height="0.7" fill="#bbb"/>
<rect x="412.0" y="219.3" width="0.7" height="0.7" fill="#999"/>
<rect x="398.5" y="214.8" width="0.7" height="0.7" fill="#aaa"/>
<rect x="416.8" y="217.0" width="0.7" height="0.7" fill="#888"/>
<rect x="423.7" y="219.8" width="0.7" height="0.7" fill="#bbb"/>
<rect x="414.9" y="211.9" width="0.7" height="0.7" fill="#999"/>
<rect x="418.7" y="212.7" width="0.7" height="0.7" fill="#777"/>
<rect x="411.6" y="221.4" width="0.7" height="0.7" fill="#888"/>
<rect x="406.8" y="220.4" width="0.7" height="0.7" fill="#aaa"/>
<rect x="406.2" y="205.9" width="0.7" height="0.7" fill="#aaa"/>
<rect x="408.0" y="215.6" width="0.7" height="0.7" fill="#888"/>
<rect x="407.9" y="219.5" width="0.7" height="0.7" fill="#888"/>
<rect x="408.6" y="222.0" width="0.7" height="0.7" fill="#bbb"/>
<rect x="411.4" y="220.2" width="0.7" height="0.7" fill="#999"/>
<rect x="407.8" y="222.0" width="0.7" height="0.7" fill="#999"/>
<rect x="409.8" y="221.8" width="0.7" height="0.7" fill="#aaa"/>
<rect x="420.8" y="221.0" width="0.7" height="0.7" fill="#aaa"/>
<rect x="409.2" y="208.3" width="0.7" height="0.7" fill="#aaa"/>
<rect x="402.3" y="202.0" width="0.7" height="0.7" fill="#aaa"/>
<rect x="417.5" y="215.0" width="0.7" height="0.7" fill="#888"/>
<rect x="409.2" y="219.4" width="0.7" height="0.7" fill="#888"/>
<rect x="414.9" y="218.7" width="0.7" height="0.7" fill="#999"/>
<rect x="400.5" y="220.9" width="0.7" height="0.7" fill="#bbb"/>
<rect x="409.7" y="213.9" width="0.7" height="0.7" fill="#aaa"/>
<rect x="421.0" y="217.5" width="0.7" height="0.7" fill="#999"/>
<rect x="407.8" y="222.4" width="0.7" height="0.7" fill="#888"/>
<rect x="408.2" y="219.1" width="0.7" height="0.7" fill="#888"/>
<rect x="409.2" y="215.5" width="0.7" height="0.7" fill="#bbb"/>
<rect x="411.8" y="219.4" width="0.7" height="0.7" fill="#777"/>
<rect x="407.3" y="220.9" width="0.7" height="0.7" fill="#999"/>
<rect x="406.1" y="211.4" width="0.7" height="0.7" fill="#aaa"/>
<rect x="410.9" y="211.6" width="0.7" height="0.7" fill="#bbb"/>
<rect x="407.4" y="221.6" width="0.7" height="0.7" fill="#bbb"/>
<rect x="410.5" y="214.1" width="0.7" height="0.7" fill="#bbb"/>
<rect x="414.9" y="213.8" width="0.7" height="0.7" fill="#999"/>
<rect x="423.1" y="222.7" width="0.7" height="0.7" fill="#777"/>
<rect x="405.8" y="219.2" width="0.7" height="0.7" fill="#777"/>
<rect x="412.2" y="215.2" width="0.7" height="0.7" fill="#777"/>
<rect x="410.0" y="217.5" width="0.7" height="0.7" fill="#777"/>
<rect x="420.4" y="211.7" width="0.7" height="0.7" fill="#999"/>
<rect x="409.5" y="221.7" width="0.7" height="0.7" fill="#888"/>
<rect x="414.2" y="220.6" width="0.7" height="0.7" fill="#888"/>
<rect x="405.8" y="215.4" width="0.7" height="0.7" fill="#999"/>
<rect x="404.7" y="209.8" width="0.7" height="0.7" fill="#777"/>
<rect x="415.6" y="214.6" width="0.7" height="0.7" fill="#777"/>
<rect x="417.1" y="217.3" width="0.7" height="0.7" fill="#777"/>
<rect x="410.2" y="215.0" width="0.7" height="0.7" fill="#aaa"/>
<rect x="408.4" y="205.5" width="0.7" height="0.7" fill="#777"/>
<rect x="406.1" y="213.0" width="0.7" height="0.7" fill="#aaa"/>
<rect x="404.2" y="210.6" width="0.7" height="0.7" fill="#999"/>
<rect x="412.9" y="208.9" width="0.7" height="0.7" fill="#bbb"/>
<rect x="417.9" y="216.0" width="0.7" height="0.7" fill="#777"/>
<rect x="415.4" y="221.5" width="0.7" height="0.7" fill="#888"/>
<rect x="409.5" y="221.5" width="0.7" height="0.7" fill="#bbb"/>
<rect x="403.2" y="217.4" width="0.7" height="0.7" fill="#999"/>
<rect x="409.2" y="210.2" width="0.7" height="0.7" fill="#bbb"/>
<rect x="408.1" y="220.4" width="0.7" height="0.7" fill="#bbb"/>
<rect x="414.8" y="214.1" width="0.7" height="0.7" fill="#888"/>
<rect x="410.3" y="221.3" width="0.7" height="0.7" fill="#999"/>
<rect x="405.7" y="204.9" width="0.7" height="0.7" fill="#bbb"/>
<rect x="402.1" y="220.9" width="0.7" height="0.7" fill="#bbb"/>
<rect x="409.6" y="221.5" width="0.7" height="0.7" fill="#999"/>
<rect x="408.4" y="219.6" width="0.7" height="0.7" fill="#888"/>
<rect x="418.3" y="216.0" width="0.7" height="0.7" fill="#777"/>
<rect x="411.4" y="221.8" width="0.7" height="0.7" fill="#bbb"/>
<rect x="413.1" y="222.2" width="0.7" height="0.7" fill="#777"/>
<rect x="414.7" y="217.3" width="0.7" height="0.7" fill="#888"/>
<rect x="414.9" y="211.7" width="0.7" height="0.7" fill="#888"/>
<rect x="411.5" y="215.3" width="0.7" height="0.7" fill="#777"/>
<rect x="414.8" y="220.7" width="0.7" height="0.7" fill="#888"/>
<rect x="413.8" y="222.2" width="0.7" height="0.7" fill="#777"/>
<rect x="418.0" y="213.1" width="0.7" height="0.7" fill="#777"/>
<rect x="413.0" y="212.3" width="0.7" height="0.7" fill="#999"/>
<rect x="411.9" y="208.6" width="0.7" height="0.7" fill="#999"/>
<rect x="407.4" y="222.2" width="0.7" height="0.7" fill="#999"/>
<rect x="427.8" y="210.7" width="0.7" height="0.7" fill="#aaa"/>
<rect x="416.1" y="221.0" width="0.7" height="0.7" fill="#888"/>
<rect x="403.3" y="211.1" width="0.7" height="0.7" fill="#777"/>
<rect x="417.9" y="211.0" width="0.7" height="0.7" fill="#bbb"/>
<rect x="411.1" y="221.9" width="0.7" height="0.7" fill="#888"/>
<rect x="411.5" y="218.2" width="0.7" height="0.7" fill="#aaa"/>
<rect x="428.1" y="216.7" width="0.7" height="0.7" fill="#777"/>
<rect x="421.4" y="218.1" width="0.7" height="0.7" fill="#888"/>
<rect x="412.0" y="219.4" width="0.7" height="0.7" fill="#aaa"/>
<rect x="416.8" y="217.3" width="0.7" height="0.7" fill="#999"/>
<rect x="409.5" y="214.1" width="0.7" height="0.7" fill="#888"/>
<rect x="418.1" y="219.8" width="0.7" height="0.7" fill="#bbb"/>
<rect x="404.1" y="211.4" width="0.7" height="0.7" fill="#bbb"/>
<rect x="421.7" y="212.4" width="0.7" height="0.7" fill="#888"/>
<rect x="415.3" y="219.8" width="0.7" height="0.7" fill="#777"/>
<rect x="409.8" y="219.0" width="0.7" height="0.7" fill="#777"/>
<rect x="419.8" y="217.2" width="0.7" height="0.7" fill="#aaa"/>
<rect x="408.4" y="220.0" width="0.7" height="0.7" fill="#aaa"/>
<rect x="408.5" y="222.4" width="0.7" height="0.7" fill="#bbb"/>
<rect x="404.8" y="206.3" width="0.7" height="0.7" fill="#bbb"/>
<rect x="405.1" y="221.2" width="0.7" height="0.7" fill="#bbb"/>
<rect x="406.8" y="218.7" width="0.7" height="0.7" fill="#aaa"/>
<rect x="408.3" y="220.4" width="0.7" height="0.7" fill="#888"/>
<rect x="409.0" y="212.4" width="0.7" height="0.7" fill="#777"/>
<rect x="409.4" y="222.4" width="0.7" height="0.7" fill="#888"/>
<rect x="419.4" y="212.1" width="0.7" height="0.7" fill="#888"/>
<rect x="404.4" y="212.2" width="0.7" height="0.7" fill="#aaa"/>
<rect x="405.0" y="216.1" width="0.7" height="0.7" fill="#aaa"/>
<rect x="406.5" y="215.4" width="0.7" height="0.7" fill="#bbb"/>
<rect x="405.1" y="218.4" width="0.7" height="0.7" fill="#888"/>
<rect x="414.7" y="221.6" width="0.7" height="0.7" fill="#bbb"/>
<rect x="415.0" y="208.0" width="0.7" height="0.7" fill="#bbb"/>
<rect x="422.5" y="217.0" width="0.7" height="0.7" fill="#888"/>
<rect x="413.7" y="220.2" width="0.7" height="0.7" fill="#777"/>
<rect x="411.1" y="219.2" width="0.7" height="0.7" fill="#777"/>
<rect x="415.6" y="217.0" width="0.7" height="0.7" fill="#888"/>
<rect x="403.9" y="222.1" width="0.7" height="0.7" fill="#999"/>
<rect x="414.1" y="214.0" width="0.7" height="0.7" fill="#aaa"/>
<rect x="416.4" y="216.9" width="0.7" height="0.7" fill="#777"/>
<rect x="406.0" y="220.2" width="0.7" height="0.7" fill="#888"/>
<rect x="413.7" y="217.4" width="0.7" height="0.7" fill="#aaa"/>
<rect x="420.6" y="207.3" width="0.7" height="0.7" fill="#777"/>
<rect x="408.0" y="218.6" width="0.7" height="0.7" fill="#aaa"/>
<rect x="405.0" y="210.8" width="0.7" height="0.7" fill="#999"/>
<rect x="411.5" y="218.3" width="0.7" height="0.7" fill="#bbb"/>
<rect x="410.7" y="220.0" width="0.7" height="0.7" fill="#aaa"/>
<rect x="414.6" y="218.6" width="0.7" height="0.7" fill="#888"/>
<rect x="403.1" y="209.6" width="0.7" height="0.7" fill="#777"/>
<rect x="411.5" y="216.9" width="0.7" height="0.7" fill="#777"/>
<rect x="410.4" y="221.8" width="0.7" height="0.7" fill="#888"/>
<rect x="419.0" y="217.8" width="0.7" height="0.7" fill="#888"/>
<rect x="405.9" y="221.3" width="0.7" height="0.7" fill="#777"/>
<rect x="410.7" y="222.0" width="0.7" height="0.7" fill="#888"/>
<rect x="411.6" y="218.3" width="0.7" height="0.7" fill="#888"/>
<rect x="412.0" y="220.0" width="0.7" height="0.7" fill="#777"/>
<rect x="412.3" y="221.5" width="0.7" height="0.7" fill="#888"/>
<rect x="408.4" y="220.5" width="0.7" height="0.7" fill="#777"/>
<rect x="415.0" y="211.4" width="0.7" height="0.7" fill="#999"/>
<rect x="428.2" y="218.3" width="0.7" height="0.7" fill="#777"/>
<rect x="407.8" y="215.1" width="0.7" height="0.7" fill="#bbb"/>
<rect x="409.4" y="221.5" width="0.7" height="0.7" fill="#777"/>
<rect x="403.9" y="218.2" width="0.7" height="0.7" fill="#aaa"/>
<rect x="402.6" y="215.4" width="0.7" height="0.7" fill="#888"/>
<rect x="406.7" y="220.8" width="0.7" height="0.7" fill="#aaa"/>
<rect x="418.5" y="217.1" width="0.7" height="0.7" fill="#888"/>
<rect x="411.3" y="207.5" width="0.7" height="0.7" fill="#aaa"/>
<rect x="403.0" y="221.5" width="0.7" height="0.7" fill="#777"/>
<rect x="399.2" y="220.0" width="0.7" height="0.7" fill="#999"/>
<rect x="411.0" y="215.2" width="0.7" height="0.7" fill="#888"/>
<rect x="404.4" y="213.7" width="0.7" height="0.7" fill="#999"/>
<rect x="416.4" y="214.6" width="0.7" height="0.7" fill="#999"/>
<rect x="417.4" y="216.6" width="0.7" height="0.7" fill="#aaa"/>
<rect x="406.9" y="219.6" width="0.7" height="0.7" fill="#bbb"/>
<rect x="411.3" y="218.7" width="0.7" height="0.7" fill="#888"/>
<rect x="419.1" y="218.6" width="0.7" height="0.7" fill="#999"/>
<rect x="415.6" y="220.3" width="0.7" height="0.7" fill="#999"/>
<rect x="401.3" y="216.9" width="0.7" height="0.7" fill="#777"/>
<rect x="418.6" y="213.4" width="0.7" height="0.7" fill="#888"/>
<rect x="410.0" y="215.6" width="0.7" height="0.7" fill="#aaa"/>
<rect x="417.9" y="220.5" width="0.7" height="0.7" fill="#999"/>
<rect x="410.6" y="220.9" width="0.7" height="0.7" fill="#888"/>
<rect x="404.1" y="221.7" width="0.7" height="0.7" fill="#999"/>
<rect x="425.7" y="213.1" width="0.7" height="0.7" fill="#777"/>
<rect x="411.9" y="216.4" width="0.7" height="0.7" fill="#777"/>
<rect x="421.8" y="211.5" width="0.7" height="0.7" fill="#777"/>
<rect x="417.9" y="219.3" width="0.7" height="0.7" fill="#aaa"/>
<rect x="406.5" y="220.8" width="0.7" height="0.7" fill="#999"/>
<rect x="412.5" y="210.4" width="0.7" height="0.7" fill="#777"/>
<rect x="413.9" y="214.1" width="0.7" height="0.7" fill="#aaa"/>
<rect x="419.0" y="221.7" width="0.7" height="0.7" fill="#777"/>
<rect x="412.3" y="222.6" width="0.7" height="0.7" fill="#888"/>
<rect x="422.7" y="213.3" width="0.7" height="0.7" fill="#999"/>
<rect x="418.4" y="218.4" width="0.7" height="0.7" fill="#777"/>
<rect x="410.3" y="217.0" width="0.7" height="0.7" fill="#888"/>
<rect x="410.9" y="213.5" width="0.7" height="0.7" fill="#777"/>
<rect x="402.4" y="219.2" width="0.7" height="0.7" fill="#bbb"/>
<rect x="417.0" y="218.6" width="0.7" height="0.7" fill="#777"/>
<rect x="422.1" y="212.0" width="0.7" height="0.7" fill="#888"/>
<rect x="400.5" y="221.6" width="0.7" height="0.7" fill="#888"/>
<rect x="417.7" y="217.1" width="0.7" height="0.7" fill="#888"/>
<rect x="413.7" y="220.1" width="0.7" height="0.7" fill="#999"/>
<rect x="409.0" y="217.1" width="0.7" height="0.7" fill="#777"/>
<rect x="409.9" y="222.4" width="0.7" height="0.7" fill="#bbb"/>
<rect x="416.8" y="220.9" width="0.7" height="0.7" fill="#bbb"/>
<rect x="405.8" y="215.4" width="0.7" height="0.7" fill="#aaa"/>
<rect x="409.0" y="218.9" width="0.7" height="0.7" fill="#bbb"/>
<rect x="406.5" y="220.3" width="0.7" height="0.7" fill="#888"/>
<rect x="415.4" y="220.7" width="0.7" height="0.7" fill="#888"/>
<rect x="425.3" y="219.1" width="0.7" height="0.7" fill="#bbb"/>
<rect x="416.1" y="207.7" width="0.7" height="0.7" fill="#777"/>
<rect x="399.8" y="210.8" width="0.7" height="0.7" fill="#999"/>
<rect x="406.9" y="221.7" width="0.7" height="0.7" fill="#777"/>
<rect x="419.6" y="217.8" width="0.7" height="0.7" fill="#aaa"/>
<rect x="408.5" y="212.8" width="0.7" height="0.7" fill="#999"/>
<rect x="414.3" y="221.0" width="0.7" height="0.7" fill="#999"/>
<rect x="405.6" y="214.1" width="0.7" height="0.7" fill="#888"/>
<rect x="416.4" y="220.8" width="0.7" height="0.7" fill="#aaa"/>
<rect x="413.1" y="222.0" width="0.7" height="0.7" fill="#999"/>
<rect x="406.9" y="219.4" width="0.7" height="0.7" fill="#aaa"/>
<rect x="407.8" y="222.2" width="0.7" height="0.7" fill="#aaa"/>
<rect x="407.3" y="218.4" width="0.7" height="0.7" fill="#999"/>
<rect x="405.3" y="221.1" width="0.7" height="0.7" fill="#777"/>
<rect x="412.6" y="218.5" width="0.7" height="0.7" fill="#888"/>
<rect x="413.9" y="219.4" width="0.7" height="0.7" fill="#999"/>
<rect x="409.4" y="219.8" width="0.7" height="0.7" fill="#888"/>
<rect x="402.0" y="202.1" width="0.7" height="0.7" fill="#777"/>
<rect x="410.2" y="219.9" width="0.7" height="0.7" fill="#888"/>
<rect x="403.8" y="219.2" width="0.7" height="0.7" fill="#aaa"/>
<rect x="396.1" y="221.6" width="0.7" height="0.7" fill="#777"/>
<rect x="405.6" y="222.2" width="0.7" height="0.7" fill="#777"/>
<rect x="414.0" y="213.8" width="0.7" height="0.7" fill="#999"/>
<rect x="411.5" y="214.4" width="0.7" height="0.7" fill="#bbb"/>
<rect x="408.0" y="219.3" width="0.7" height="0.7" fill="#aaa"/>
<rect x="423.1" y="204.8" width="0.7" height="0.7" fill="#777"/>
<rect x="403.0" y="217.1" width="0.7" height="0.7" fill="#888"/>
<rect x="410.1" y="219.0" width="0.7" height="0.7" fill="#777"/>
<rect x="420.2" y="219.3" width="0.7" height="0.7" fill="#bbb"/>
<rect x="420.4" y="217.4" width="0.7" height="0.7" fill="#999"/>
<rect x="405.8" y="210.4" width="0.7" height="0.7" fill="#777"/>
<rect x="405.9" y="218.8" width="0.7" height="0.7" fill="#999"/>
<rect x="411.0" y="209.5" width="0.7" height="0.7" fill="#aaa"/>
<rect x="408.9" y="214.8" width="0.7" height="0.7" fill="#bbb"/>
<rect x="414.4" y="207.5" width="0.7" height="0.7" fill="#aaa"/>
<rect x="416.2" y="221.3" width="0.7" height="0.7" fill="#999"/>
<rect x="401.7" y="220.5" width="0.7" height="0.7" fill="#999"/>
<rect x="412.2" y="215.1" width="0.7" height="0.7" fill="#aaa"/>
<rect x="409.0" y="217.7" width="0.7" height="0.7" fill="#bbb"/>
<rect x="410.7" y="220.5" width="0.7" height="0.7" fill="#bbb"/>
<rect x="403.9" y="217.5" width="0.7" height="0.7" fill="#aaa"/>
<rect x="416.9" y="216.4" width="0.7" height="0.7" fill="#bbb"/>
<rect x="406.9" y="213.8" width="0.7" height="0.7" fill="#777"/>
<rect x="407.5" y="216.6" width="0.7" height="0.7" fill="#bbb"/>
<rect x="410.4" y="219.4" width="0.7" height="0.7" fill="#888"/>
<rect x="420.3" y="214.8" width="0.7" height="0.7" fill="#777"/>
<rect x="405.5" y="213.2" width="0.7" height="0.7" fill="#bbb"/>
<rect x="410.2" y="218.7" width="0.7" height="0.7" fill="#bbb"/>
<rect x="404.7" y="221.1" width="0.7" height="0.7" fill="#bbb"/>
<rect x="404.0" y="211.3" width="0.7" height="0.7" fill="#777"/>
<rect x="406.9" y="218.5" width="0.7" height="0.7" fill="#999"/>
<rect x="408.0" y="208.8" width="0.7" height="0.7" fill="#888"/>
<rect x="403.8" y="218.9" width="0.7" height="0.7" fill="#aaa"/>
<rect x="423.2" y="212.8" width="0.7" height="0.7" fill="#bbb"/>
<rect x="428.7" y="217.4" width="0.7" height="0.7" fill="#bbb"/>
<rect x="418.6" y="217.7" width="0.7" height="0.7" fill="#777"/>
<rect x="412.0" y="220.6" width="0.7" height="0.7" fill="#bbb"/>
<rect x="418.7" y="220.7" width="0.7" height="0.7" fill="#aaa"/>
<rect x="405.2" y="220.8" width="0.7" height="0.7" fill="#777"/>
<rect x="411.5" y="221.0" width="0.7" height="0.7" fill="#aaa"/>
<rect x="407.5" y="221.0" width="0.7" height="0.7" fill="#999"/>
<rect x="417.4" y="222.1" width="0.7" height="0.7" fill="#999"/>
<rect x="410.1" y="219.6" width="0.7" height="0.7" fill="#999"/>
<rect x="408.6" y="220.0" width="0.7" height="0.7" fill="#888"/>
<rect x="421.9" y="211.6" width="0.7" height="0.7" fill="#777"/>
<rect x="399.1" y="217.4" width="0.7" height="0.7" fill="#bbb"/>
<rect x="412.7" y="218.4" width="0.7" height="0.7" fill="#888"/>
<rect x="403.0" y="217.7" width="0.7" height="0.7" fill="#888"/>
<rect x="415.1" y="215.3" width="0.7" height="0.7" fill="#999"/>
<rect x="404.7" y="219.6" width="0.7" height="0.7" fill="#999"/>
<rect x="409.0" y="215.7" width="0.7" height="0.7" fill="#aaa"/>
<rect x="414.1" y="220.7" width="0.7" height="0.7" fill="#999"/>
<rect x="423.3" y="217.9" width="0.7" height="0.7" fill="#aaa"/>
<rect x="411.8" y="212.2" width="0.7" height="0.7" fill="#999"/>
<rect x="421.9" y="213.1" width="0.7" height="0.7" fill="#888"/>
<rect x="423.4" y="220.4" width="0.7" height="0.7" fill="#777"/>
<rect x="397.9" y="219.7" width="0.7" height="0.7" fill="#999"/>
<rect x="412.6" y="222.0" width="0.7" height="0.7" fill="#aaa"/>
<rect x="416.5" y="221.0" width="0.7" height="0.7" fill="#999"/>
<rect x="424.3" y="218.9" width="0.7" height="0.7" fill="#777"/>
<rect x="417.8" y="214.4" width="0.7" height="0.7" fill="#aaa"/>
<rect x="421.3" y="219.0" width="0.7" height="0.7" fill="#777"/>
<rect x="421.2" y="222.4" width="0.7" height="0.7" fill="#bbb"/>
<rect x="398.4" y="210.6" width="0.7" height="0.7" fill="#888"/>
<rect x="413.5" y="214.0" width="0.7" height="0.7" fill="#bbb"/>
<rect x="404.8" y="218.2" width="0.7" height="0.7" fill="#999"/>
<rect x="406.9" y="205.7" width="0.7" height="0.7" fill="#bbb"/>
<rect x="421.9" y="222.1" width="0.7" height="0.7" fill="#bbb"/>
<rect x="395.8" y="222.4" width="0.7" height="0.7" fill="#777"/>
<rect x="413.7" y="222.0" width="0.7" height="0.7" fill="#aaa"/>
<rect x="414.1" y="220.5" width="0.7" height="0.7" fill="#bbb"/>
<rect x="415.9" y="219.7" width="0.7" height="0.7" fill="#aaa"/>
<rect x="406.7" y="216.9" width="0.7" height="0.7" fill="#777"/>
<rect x="415.3" y="221.6" width="0.7" height="0.7" fill="#bbb"/>
<rect x="407.1" y="216.1" width="0.7" height="0.7" fill="#999"/>
<rect x="427.0" y="206.1" width="0.7" height="0.7" fill="#888"/>
<rect x="417.0" y="219.4" width="0.7" height="0.7" fill="#777"/>
<rect x="416.7" y="217.1" width="0.7" height="0.7" fill="#bbb"/>
<rect x="404.9" y="208.5" width="0.7" height="0.7" fill="#888"/>
<rect x="407.9" y="217.6" width="0.7" height="0.7" fill="#aaa"/>
<rect x="418.7" y="220.2" width="0.7" height="0.7" fill="#bbb"/>
<rect x="407.2" y="220.1" width="0.7" height="0.7" fill="#777"/>
<rect x="410.8" y="222.1" width="0.7" height="0.7" fill="#888"/>
<rect x="411.7" y="214.7" width="0.7" height="0.7" fill="#999"/>
<rect x="401.7" y="221.5" width="0.7" height="0.7" fill="#aaa"/>
<rect x="412.4" y="217.1" width="0.7" height="0.7" fill="#bbb"/>
<rect x="411.2" y="217.0" width="0.7" height="0.7" fill="#777"/>
<rect x="417.1" y="214.8" width="0.7" height="0.7" fill="#bbb"/>
<rect x="406.7" y="215.1" width="0.7" height="0.7" fill="#777"/>
<rect x="428.8" y="219.1" width="0.7" height="0.7" fill="#999"/>
<rect x="416.3" y="204.5" width="0.7" height="0.7" fill="#999"/>
<rect x="413.4" y="216.3" width="0.7" height="0.7" fill="#777"/>
<rect x="414.9" y="221.2" width="0.7" height="0.7" fill="#888"/>
<rect x="413.8" y="214.7" width="0.7" height="0.7" fill="#aaa"/>
<rect x="418.1" y="216.0" width="0.7" height="0.7" fill="#888"/>
<rect x="407.5" y="221.4" width="0.7" height="0.7" fill="#777"/>
<rect x="411.7" y="219.8" width="0.7" height="0.7" fill="#777"/>
<rect x="406.6" y="222.3" width="0.7" height="0.7" fill="#888"/>
<rect x="415.2" y="221.2" width="0.7" height="0.7" fill="#888"/>
<rect x="404.3" y="215.1" width="0.7" height="0.7" fill="#bbb"/>
<rect x="407.8" y="210.3" width="0.7" height="0.7" fill="#bbb"/>
<rect x="413.8" y="220.9" width="0.7" height="0.7" fill="#999"/>
<rect x="420.1" y="222.0" width="0.7" height="0.7" fill="#aaa"/>
<rect x="403.8" y="221.6" width="0.7" height="0.7" fill="#777"/>
<rect x="398.7" y="220.2" width="0.7" height="0.7" fill="#aaa"/>
<rect x="412.6" y="218.8" width="0.7" height="0.7" fill="#aaa"/>
<rect x="411.9" y="209.5" width="0.7" height="0.7" fill="#777"/>
<rect x="413.0" y="219.5" width="0.7" height="0.7" fill="#888"/>
<rect x="431.3" y="222.6" width="0.7" height="0.7" fill="#bbb"/>
<rect x="416.9" y="221.6" width="0.7" height="0.7" fill="#bbb"/>
<rect x="409.8" y="222.3" width="0.7" height="0.7" fill="#aaa"/>
<rect x="407.8" y="222.5" width="0.7" height="0.7" fill="#999"/>
<rect x="410.2" y="219.0" width="0.7" height="0.7" fill="#999"/>
<rect x="406.5" y="220.2" width="0.7" height="0.7" fill="#bbb"/>
<rect x="396.0" y="220.8" width="0.7" height="0.7" fill="#999"/>
<rect x="410.9" y="217.8" width="0.7" height="0.7" fill="#bbb"/>
<rect x="411.6" y="209.8" width="0.7" height="0.7" fill="#aaa"/>
<rect x="412.4" y="218.9" width="0.7" height="0.7" fill="#888"/>
<rect x="413.8" y="217.2" width="0.7" height="0.7" fill="#aaa"/>
<rect x="399.3" y="216.7" width="0.7" height="0.7" fill="#bbb"/>
<rect x="415.3" y="220.6" width="0.7" height="0.7" fill="#888"/>
<rect x="415.0" y="218.4" width="0.7" height="0.7" fill="#999"/>
<rect x="398.5" y="211.5" width="0.7" height="0.7" fill="#888"/>
<rect x="405.5" y="213.0" width="0.7" height="0.7" fill="#aaa"/>
<rect x="415.0" y="215.6" width="0.7" height="0.7" fill="#aaa"/>
<rect x="403.5" y="213.9" width="0.7" height="0.7" fill="#bbb"/>
<rect x="402.0" y="212.7" width="0.7" height="0.7" fill="#aaa"/>
<rect x="419.1" y="222.6" width="0.7" height="0.7" fill="#bbb"/>
<rect x="409.9" y="219.7" width="0.7" height="0.7" fill="#777"/>
<rect x="406.9" y="219.6" width="0.7" height="0.7" fill="#aaa"/>
<rect x="408.7" y="215.1" width="0.7" height="0.7" fill="#888"/>
<rect x="410.5" y="212.2" width="0.7" height="0.7" fill="#aaa"/>
<rect x="402.7" y="220.2" width="0.7" height="0.7" fill="#999"/>
<rect x="401.8" y="211.5" width="0.7" height="0.7" fill="#aaa"/>
<rect x="406.7" y="210.3" width="0.7" height="0.7" fill="#777"/>
<rect x="412.5" y="209.1" width="0.7" height="0.7" fill="#aaa"/>
<rect x="423.7" y="222.2" width="0.7" height="0.7" fill="#bbb"/>
<rect x="420.7" y="221.8" width="0.7" height="0.7" fill="#888"/>
<rect x="411.2" y="218.6" width="0.7" height="0.7" fill="#999"/>
<rect x="411.6" y="218.9" width="0.7" height="0.7" fill="#777"/>
<rect x="410.7" y="220.1" width="0.7" height="0.7" fill="#999"/>
<rect x="413.5" y="215.9" width="0.7" height="0.7" fill="#777"/>
<rect x="403.2" y="218.3" width="0.7" height="0.7" fill="#999"/>
<rect x="403.5" y="211.9" width="0.7" height="0.7" fill="#aaa"/>
<rect x="416.0" y="221.9" width="0.7" height="0.7" fill="#888"/>
<rect x="404.8" y="216.7" width="0.7" height="0.7" fill="#888"/>
<rect x="404.1" y="210.6" width="0.7" height="0.7" fill="#bbb"/>
<rect x="406.3" y="214.6" width="0.7" height="0.7" fill="#777"/>
<rect x="410.4" y="218.9" width="0.7" height="0.7" fill="#888"/>
<rect x="407.1" y="217.1" width="0.7" height="0.7" fill="#888"/>
<rect x="405.3" y="217.7" width="0.7" height="0.7" fill="#bbb"/>
<rect x="414.6" y="219.1" width="0.7" height="0.7" fill="#777"/>
<rect x="410.5" y="220.1" width="0.7" height="0.7" fill="#777"/>
<rect x="413.6" y="207.9" width="0.7" height="0.7" fill="#bbb"/>
<rect x="411.3" y="217.8" width="0.7" height="0.7" fill="#bbb"/>
<rect x="410.4" y="221.8" width="0.7" height="0.7" fill="#bbb"/>
<rect x="413.0" y="217.5" width="0.7" height="0.7" fill="#777"/>
<rect x="404.8" y="217.4" width="0.7" height="0.7" fill="#777"/>
<rect x="408.1" y="221.6" width="0.7" height="0.7" fill="#777"/>
<rect x="401.0" y="222.5" width="0.7" height="0.7" fill="#aaa"/>
<rect x="416.2" y="217.9" width="0.7" height="0.7" fill="#999"/>
<rect x="399.3" y="218.2" width="0.7" height="0.7" fill="#777"/>
<rect x="420.3" y="220.0" width="0.7" height="0.7" fill="#aaa"/>
<rect x="421.2" y="215.1" width="0.7" height="0.7" fill="#aaa"/>
<rect x="410.7" y="220.3" width="0.7" height="0.7" fill="#aaa"/>
<rect x="426.7" y="218.2" width="0.7" height="0.7" fill="#bbb"/>
<rect x="408.8" y="214.0" width="0.7" height="0.7" fill="#aaa"/>
<rect x="406.2" y="219.4" width="0.7" height="0.7" fill="#aaa"/>
<rect x="420.3" y="216.1" width="0.7" height="0.7" fill="#777"/>
<rect x="408.3" y="216.3" width="0.7" height="0.7" fill="#999"/>
<rect x="416.6" y="207.0" width="0.7" height="0.7" fill="#888"/>
<rect x="410.5" y="216.6" width="0.7" height="0.7" fill="#999"/>
<rect x="412.9" y="215.1" width="0.7" height="0.7" fill="#999"/>
<rect x="416.7" y="218.5" width="0.7" height="0.7" fill="#888"/>
<rect x="416.8" y="220.8" width="0.7" height="0.7" fill="#777"/>
<rect x="418.7" y="217.2" width="0.7" height="0.7" fill="#777"/>
<rect x="423.7" y="220.6" width="0.7" height="0.7" fill="#888"/>
<rect x="410.1" y="218.7" width="0.7" height="0.7" fill="#777"/>
<rect x="410.7" y="222.0" width="0.7" height="0.7" fill="#bbb"/>
<rect x="409.5" y="218.5" width="0.7" height="0.7" fill="#777"/>
<rect x="415.3" y="221.1" width="0.7" height="0.7" fill="#777"/>
<rect x="411.0" y="221.5" width="0.7" height="0.7" fill="#777"/>
<rect x="417.5" y="213.8" width="0.7" height="0.7" fill="#888"/>
<rect x="405.5" y="218.0" width="0.7" height="0.7" fill="#999"/>
<rect x="416.1" y="212.9" width="0.7" height="0.7" fill="#aaa"/>
<rect x="414.3" y="211.4" width="0.7" height="0.7" fill="#777"/>
<rect x="408.3" y="214.2" width="0.7" height="0.7" fill="#777"/>
<rect x="397.4" y="222.6" width="0.7" height="0.7" fill="#999"/>
<rect x="409.9" y="221.2" width="0.7" height="0.7" fill="#aaa"/>
<rect x="416.9" y="214.0" width="0.7" height="0.7" fill="#999"/>
<rect x="410.6" y="210.7" width="0.7" height="0.7" fill="#bbb"/>
<rect x="421.4" y="218.0" width="0.7" height="0.7" fill="#999"/>
<rect x="399.7" y="220.8" width="0.7" height="0.7" fill="#aaa"/>
<rect x="413.7" y="221.6" width="0.7" height="0.7" fill="#888"/>
<rect x="405.3" y="217.9" width="0.7" height="0.7" fill="#777"/>
<rect x="405.9" y="214.7" width="0.7" height="0.7" fill="#999"/>
<rect x="405.6" y="221.9" width="0.7" height="0.7" fill="#aaa"/>
<rect x="410.9" y="213.8" width="0.7" height="0.7" fill="#aaa"/>
<rect x="414.0" y="213.8" width="0.7" height="0.7" fill="#999"/>
<rect x="400.6" y="219.5" width="0.7" height="0.7" fill="#999"/>
<rect x="406.2" y="203.3" width="0.7" height="0.7" fill="#999"/>
<rect x="412.5" y="214.3" width="0.7" height="0.7" fill="#888"/>
<rect x="409.2" y="217.6" width="0.7" height="0.7" fill="#bbb"/>
<rect x="416.8" y="217.6" width="0.7" height="0.7" fill="#bbb"/>
<rect x="402.5" y="218.0" width="0.7" height="0.7" fill="#bbb"/>
<rect x="415.4" y="212.8" width="0.7" height="0.7" fill="#888"/>
<rect x="424.5" y="211.0" width="0.7" height="0.7" fill="#777"/>
<rect x="420.0" y="217.8" width="0.7" height="0.7" fill="#777"/>
<rect x="411.7" y="213.8" width="0.7" height="0.7" fill="#bbb"/>
<rect x="411.1" y="216.1" width="0.7" height="0.7" fill="#aaa"/>
<rect x="417.4" y="217.9" width="0.7" height="0.7" fill="#999"/>
<rect x="396.8" y="216.1" width="0.7" height="0.7" fill="#bbb"/>
<rect x="399.9" y="221.4" width="0.7" height="0.7" fill="#aaa"/>
<rect x="401.9" y="215.0" width="0.7" height="0.7" fill="#999"/>
<rect x="409.3" y="220.1" width="0.7" height="0.7" fill="#aaa"/>
<rect x="412.6" y="217.1" width="0.7" height="0.7" fill="#aaa"/>
<rect x="413.4" y="213.5" width="0.7" height="0.7" fill="#aaa"/>
<rect x="406.4" y="219.4" width="0.7" height="0.7" fill="#aaa"/>
<rect x="430.7" y="220.1" width="0.7" height="0.7" fill="#999"/>
<rect x="407.4" y="222.3" width="0.7" height="0.7" fill="#888"/>
<rect x="410.3" y="220.1" width="0.7" height="0.7" fill="#aaa"/>
<rect x="421.3" y="209.4" width="0.7" height="0.7" fill="#777"/>
<rect x="408.8" y="217.0" width="0.7" height="0.7" fill="#777"/>
<rect x="418.8" y="214.3" width="0.7" height="0.7" fill="#999"/>
<rect x="412.1" y="216.5" width="0.7" height="0.7" fill="#999"/>
<rect x="410.1" y="213.0" width="0.7" height="0.7" fill="#777"/>
<rect x="411.9" y="220.4" width="0.7" height="0.7" fill="#999"/>
<rect x="416.4" y="215.7" width="0.7" height="0.7" fill="#aaa"/>
<rect x="413.4" y="220.9" width="0.7" height="0.7" fill="#777"/>
<rect x="418.4" y="218.3" width="0.7" height="0.7" fill="#aaa"/>
<rect x="398.5" y="218.1" width="0.7" height="0.7" fill="#777"/>
<rect x="414.9" y="222.2" width="0.7" height="0.7" fill="#aaa"/>
<rect x="414.5" y="212.2" width="0.7" height="0.7" fill="#777"/>
<rect x="418.1" y="216.8" width="0.7" height="0.7" fill="#777"/>
<rect x="413.6" y="215.9" width="0.7" height="0.7" fill="#999"/>
<rect x="410.8" y="220.9" width="0.7" height="0.7" fill="#777"/>
<rect x="405.5" y="222.0" width="0.7" height="0.7" fill="#777"/>
<rect x="408.9" y="216.5" width="0.7" height="0.7" fill="#bbb"/>
<rect x="404.4" y="210.0" width="0.7" height="0.7" fill="#888"/>
<rect x="422.6" y="217.4" width="0.7" height="0.7" fill="#777"/>
<rect x="407.3" y="205.4" width="0.7" height="0.7" fill="#bbb"/>
<rect x="410.6" y="222.1" width="0.7" height="0.7" fill="#aaa"/>
<rect x="413.9" y="216.5" width="0.7" height="0.7" fill="#aaa"/>
<rect x="403.7" y="208.0" width="0.7" height="0.7" fill="#aaa"/>
<rect x="409.0" y="220.5" width="0.7" height="0.7" fill="#777"/>
<rect x="412.2" y="222.4" width="0.7" height="0.7" fill="#777"/>
<rect x="421.4" y="219.2" width="0.7" height="0.7" fill="#aaa"/>
<rect x="416.7" y="212.8" width="0.7" height="0.7" fill="#aaa"/>
<rect x="417.2" y="222.6" width="0.7" height="0.7" fill="#bbb"/>
<rect x="404.6" y="216.7" width="0.7" height="0.7" fill="#777"/>
<rect x="411.4" y="212.2" width="0.7" height="0.7" fill="#777"/>
<rect x="416.2" y="209.8" width="0.7" height="0.7" fill="#999"/>
<rect x="418.4" y="220.2" width="0.7" height="0.7" fill="#aaa"/>
<rect x="422.4" y="219.0" width="0.7" height="0.7" fill="#aaa"/>
<rect x="404.9" y="221.4" width="0.7" height="0.7" fill="#bbb"/>
<rect x="416.3" y="220.6" width="0.7" height="0.7" fill="#777"/>
<rect x="420.3" y="195.2" width="0.7" height="0.7" fill="#777"/>
<rect x="420.1" y="197.1" width="0.7" height="0.7" fill="#888"/>
<rect x="421.1" y="196.0" width="0.7" height="0.7" fill="#999"/>
<rect x="420.0" y="206.2" width="0.7" height="0.7" fill="#888"/>
<rect x="426.1" y="193.1" width="0.7" height="0.7" fill="#777"/>
<rect x="414.8" y="195.3" width="0.7" height="0.7" fill="#888"/>
<rect x="427.7" y="194.3" width="0.7" height="0.7" fill="#888"/>
<rect x="423.7" y="186.6" width="0.7" height="0.7" fill="#999"/>
<rect x="408.7" y="208.5" width="0.7" height="0.7" fill="#888"/>
<rect x="422.1" y="202.1" width="0.7" height="0.7" fill="#bbb"/>
<rect x="423.0" y="194.9" width="0.7" height="0.7" fill="#777"/>
<rect x="421.6" y="192.1" width="0.7" height="0.7" fill="#bbb"/>
<rect x="417.6" y="206.8" width="0.7" height="0.7" fill="#999"/>
<rect x="418.7" y="200.5" width="0.7" height="0.7" fill="#888"/>
<rect x="411.9" y="204.1" width="0.7" height="0.7" fill="#999"/>
<rect x="424.1" y="199.0" width="0.7" height="0.7" fill="#888"/>
<rect x="408.9" y="207.6" width="0.7" height="0.7" fill="#999"/>
<rect x="417.5" y="204.7" width="0.7" height="0.7" fill="#999"/>
<rect x="426.1" y="185.0" width="0.7" height="0.7" fill="#aaa"/>
<rect x="422.3" y="194.1" width="0.7" height="0.7" fill="#777"/>
<rect x="419.5" y="193.2" width="0.7" height="0.7" fill="#aaa"/>
<rect x="425.3" y="175.8" width="0.7" height="0.7" fill="#999"/>
<rect x="424.6" y="190.2" width="0.7" height="0.7" fill="#bbb"/>
<rect x="427.7" y="196.7" width="0.7" height="0.7" fill="#bbb"/>
<rect x="417.7" y="197.9" width="0.7" height="0.7" fill="#aaa"/>
<rect x="426.6" y="182.6" width="0.7" height="0.7" fill="#777"/>
<rect x="428.5" y="182.3" width="0.7" height="0.7" fill="#777"/>
<rect x="414.2" y="206.5" width="0.7" height="0.7" fill="#999"/>
<rect x="418.6" y="195.5" width="0.7" height="0.7" fill="#777"/>
<rect x="412.9" y="208.4" width="0.7" height="0.7" fill="#bbb"/>
<rect x="425.3" y="193.1" width="0.7" height="0.7" fill="#bbb"/>
<rect x="424.1" y="189.1" width="0.7" height="0.7" fill="#999"/>
<rect x="423.0" y="205.7" width="0.7" height="0.7" fill="#777"/>
<rect x="431.9" y="190.0" width="0.7" height="0.7" fill="#bbb"/>
<rect x="416.0" y="207.2" width="0.7" height="0.7" fill="#aaa"/>
<rect x="426.1" y="190.0" width="0.7" height="0.7" fill="#999"/>
<rect x="419.7" y="196.7" width="0.7" height="0.7" fill="#888"/>
<rect x="425.2" y="187.3" width="0.7" height="0.7" fill="#999"/>
<rect x="409.6" y="211.1" width="0.7" height="0.7" fill="#777"/>
<rect x="422.1" y="187.3" width="0.7" height="0.7" fill="#999"/>
<rect x="416.3" y="205.6" width="0.7" height="0.7" fill="#bbb"/>
<rect x="425.4" y="196.6" width="0.7" height="0.7" fill="#888"/>
<rect x="424.9" y="198.5" width="0.7" height="0.7" fill="#bbb"/>
<rect x="409.7" y="213.0" width="0.7" height="0.7" fill="#aaa"/>
<rect x="427.8" y="195.4" width="0.7" height="0.7" fill="#999"/>
<rect x="411.8" y="204.5" width="0.7" height="0.7" fill="#888"/>
<rect x="417.2" y="203.6" width="0.7" height="0.7" fill="#aaa"/>
<rect x="413.7" y="206.6" width="0.7" height="0.7" fill="#999"/>
<rect x="413.7" y="206.0" width="0.7" height="0.7" fill="#888"/>
<rect x="424.2" y="187.8" width="0.7" height="0.7" fill="#bbb"/>
<rect x="416.2" y="210.4" width="0.7" height="0.7" fill="#777"/>
<rect x="417.2" y="200.6" width="0.7" height="0.7" fill="#bbb"/>
<rect x="416.3" y="212.7" width="0.7" height="0.7" fill="#999"/>
<rect x="413.8" y="210.1" width="0.7" height="0.7" fill="#777"/>
<rect x="415.7" y="204.8" width="0.7" height="0.7" fill="#aaa"/>
<rect x="417.0" y="202.7" width="0.7" height="0.7" fill="#777"/>
<rect x="416.8" y="197.6" width="0.7" height="0.7" fill="#aaa"/>
<rect x="422.4" y="187.5" width="0.7" height="0.7" fill="#777"/>
<rect x="419.4" y="201.8" width="0.7" height="0.7" fill="#777"/>
<rect x="414.5" y="199.6" width="0.7" height="0.7" fill="#777"/>
<rect x="423.2" y="192.9" width="0.7" height="0.7" fill="#999"/>
<rect x="428.0" y="199.0" width="0.7" height="0.7" fill="#888"/>
<rect x="425.7" y="193.1" width="0.7" height="0.7" fill="#bbb"/>
<rect x="418.3" y="186.8" width="0.7" height="0.7" fill="#888"/>
<rect x="426.4" y="198.0" width="0.7" height="0.7" fill="#999"/>
<rect x="409.6" y="208.7" width="0.7" height="0.7" fill="#999"/>
<rect x="416.1" y="205.6" width="0.7" height="0.7" fill="#aaa"/>
<rect x="419.1" y="196.0" width="0.7" height="0.7" fill="#999"/>
<rect x="415.7" y="213.5" width="0.7" height="0.7" fill="#999"/>
<rect x="409.0" y="200.6" width="0.7" height="0.7" fill="#aaa"/>
<rect x="411.9" y="216.5" width="0.7" height="0.7" fill="#aaa"/>
<rect x="422.2" y="193.5" width="0.7" height="0.7" fill="#777"/>
<rect x="422.3" y="195.9" width="0.7" height="0.7" fill="#bbb"/>
<rect x="425.2" y="193.9" width="0.7" height="0.7" fill="#777"/>
<rect x="423.0" y="195.2" width="0.7" height="0.7" fill="#999"/>
<rect x="418.2" y="201.6" width="0.7" height="0.7" fill="#888"/>
<rect x="424.1" y="189.1" width="0.7" height="0.7" fill="#bbb"/>
<rect x="415.5" y="199.4" width="0.7" height="0.7" fill="#777"/>
<rect x="422.9" y="194.9" width="0.7" height="0.7" fill="#888"/>
<rect x="426.5" y="200.7" width="0.7" height="0.7" fill="#bbb"/>
<rect x="418.7" y="204.7" width="0.7" height="0.7" fill="#777"/>
<rect x="419.7" y="190.3" width="0.7" height="0.7" fill="#aaa"/>
<rect x="422.2" y="198.9" width="0.7" height="0.7" fill="#bbb"/>
<rect x="416.4" y="212.2" width="0.7" height="0.7" fill="#bbb"/>
<rect x="421.2" y="196.3" width="0.7" height="0.7" fill="#999"/>
<rect x="420.9" y="190.5" width="0.7" height="0.7" fill="#777"/>
<rect x="426.7" y="201.9" width="0.7" height="0.7" fill="#aaa"/>
<rect x="415.0" y="199.6" width="0.7" height="0.7" fill="#888"/>
<rect x="415.2" y="207.3" width="0.7" height="0.7" fill="#999"/>
<rect x="421.5" y="181.3" width="0.7" height="0.7" fill="#777"/>
<rect x="423.9" y="202.1" width="0.7" height="0.7" fill="#999"/>
<rect x="429.8" y="196.6" width="0.7" height="0.7" fill="#aaa"/>
<rect x="412.6" y="200.8" width="0.7" height="0.7" fill="#777"/>
<rect x="421.6" y="194.9" width="0.7" height="0.7" fill="#888"/>
<rect x="415.4" y="207.8" width="0.7" height="0.7" fill="#888"/>
<rect x="418.3" y="202.0" width="0.7" height="0.7" fill="#bbb"/>
<rect x="416.3" y="202.2" width="0.7" height="0.7" fill="#888"/>
<rect x="420.2" y="188.4" width="0.7" height="0.7" fill="#999"/>
<rect x="409.4" y="213.6" width="0.7" height="0.7" fill="#999"/>
<rect x="417.4" y="199.7" width="0.7" height="0.7" fill="#bbb"/>
<rect x="424.0" y="187.8" width="0.7" height="0.7" fill="#bbb"/>
<rect x="417.6" y="191.7" width="0.7" height="0.7" fill="#aaa"/>
<rect x="411.0" y="207.7" width="0.7" height="0.7" fill="#aaa"/>
<rect x="406.8" y="211.1" width="0.7" height="0.7" fill="#888"/>
<rect x="420.3" y="199.5" width="0.7" height="0.7" fill="#777"/>
<rect x="424.0" y="190.2" width="0.7" height="0.7" fill="#888"/>
<rect x="415.1" y="208.6" width="0.7" height="0.7" fill="#aaa"/>
<rect x="409.4" y="209.0" width="0.7" height="0.7" fill="#aaa"/>
<rect x="418.9" y="210.5" width="0.7" height="0.7" fill="#777"/>
<rect x="407.2" y="219.8" width="0.7" height="0.7" fill="#777"/>
<rect x="411.0" y="204.9" width="0.7" height="0.7" fill="#aaa"/>
<rect x="413.9" y="203.5" width="0.7" height="0.7" fill="#bbb"/>
<rect x="427.8" y="186.0" width="0.7" height="0.7" fill="#bbb"/>
<rect x="410.9" y="212.3" width="0.7" height="0.7" fill="#888"/>
<rect x="434.3" y="185.2" width="0.7" height="0.7" fill="#888"/>
<rect x="429.8" y="184.8" width="0.7" height="0.7" fill="#bbb"/>
<rect x="428.5" y="191.0" width="0.7" height="0.7" fill="#aaa"/>
<rect x="420.3" y="194.2" width="0.7" height="0.7" fill="#999"/>
<rect x="414.6" y="202.0" width="0.7" height="0.7" fill="#777"/>
<rect x="430.3" y="193.7" width="0.7" height="0.7" fill="#bbb"/>
<rect x="415.9" y="217.9" width="0.7" height="0.7" fill="#777"/>
<rect x="420.7" y="182.7" width="0.7" height="0.7" fill="#999"/>
<rect x="419.5" y="202.4" width="0.7" height="0.7" fill="#aaa"/>
<rect x="423.4" y="198.1" width="0.7" height="0.7" fill="#bbb"/>
<rect x="422.3" y="191.7" width="0.7" height="0.7" fill="#aaa"/>
<rect x="414.5" y="209.1" width="0.7" height="0.7" fill="#aaa"/>
<rect x="425.7" y="185.6" width="0.7" height="0.7" fill="#bbb"/>
<rect x="412.8" y="208.1" width="0.7" height="0.7" fill="#aaa"/>
<rect x="417.4" y="208.2" width="0.7" height="0.7" fill="#999"/>
<rect x="425.6" y="187.7" width="0.7" height="0.7" fill="#999"/>
<rect x="423.3" y="192.0" width="0.7" height="0.7" fill="#777"/>
<rect x="411.9" y="207.8" width="0.7" height="0.7" fill="#888"/>
<rect x="411.5" y="201.3" width="0.7" height="0.7" fill="#777"/>
<rect x="420.8" y="185.8" width="0.7" height="0.7" fill="#777"/>
<rect x="414.7" y="207.0" width="0.7" height="0.7" fill="#777"/>
<rect x="417.6" y="191.4" width="0.7" height="0.7" fill="#777"/>
<rect x="412.2" y="203.3" width="0.7" height="0.7" fill="#888"/>
<rect x="408.7" y="209.8" width="0.7" height="0.7" fill="#777"/>
<rect x="432.4" y="180.3" width="0.7" height="0.7" fill="#bbb"/>
<rect x="416.4" y="199.7" width="0.7" height="0.7" fill="#bbb"/>
<rect x="416.9" y="202.0" width="0.7" height="0.7" fill="#bbb"/>
<rect x="412.9" y="210.6" width="0.7" height="0.7" fill="#bbb"/>
<rect x="428.5" y="196.3" width="0.7" height="0.7" fill="#888"/>
<rect x="413.4" y="202.4" width="0.7" height="0.7" fill="#aaa"/>
<rect x="422.1" y="188.3" width="0.7" height="0.7" fill="#999"/>
<rect x="418.2" y="204.0" width="0.7" height="0.7" fill="#888"/>
<rect x="407.3" y="202.2" width="0.7" height="0.7" fill="#888"/>
<rect x="420.4" y="196.1" width="0.7" height="0.7" fill="#999"/>
<rect x="418.4" y="201.3" width="0.7" height="0.7" fill="#bbb"/>
<rect x="422.8" y="190.0" width="0.7" height="0.7" fill="#999"/>
<rect x="418.5" y="203.4" width="0.7" height="0.7" fill="#999"/>
<rect x="418.0" y="204.6" width="0.7" height="0.7" fill="#bbb"/>
<rect x="419.1" y="200.4" width="0.7" height="0.7" fill="#777"/>
<rect x="421.8" y="195.7" width="0.7" height="0.7" fill="#888"/>
<rect x="429.5" y="186.9" width="0.7" height="0.7" fill="#888"/>
<rect x="409.7" y="210.0" width="0.7" height="0.7" fill="#bbb"/>
<rect x="418.4" y="205.6" width="0.7" height="0.7" fill="#888"/>
<rect x="420.3" y="196.3" width="0.7" height="0.7" fill="#bbb"/>
<rect x="420.4" y="189.2" width="0.7" height="0.7" fill="#777"/>
<rect x="425.8" y="187.5" width="0.7" height="0.7" fill="#888"/>
<rect x="416.0" y="200.5" width="0.7" height="0.7" fill="#999"/>
<rect x="413.7" y="205.2" width="0.7" height="0.7" fill="#999"/>
<rect x="418.4" y="186.6" width="0.7" height="0.7" fill="#777"/>
<rect x="425.2" y="190.1" width="0.7" height="0.7" fill="#888"/>
<rect x="419.9" y="199.4" width="0.7" height="0.7" fill="#bbb"/>
<rect x="414.1" y="204.6" width="0.7" height="0.7" fill="#888"/>
<rect x="427.5" y="186.5" width="0.7" height="0.7" fill="#777"/>
<rect x="424.2" y="193.3" width="0.7" height="0.7" fill="#777"/>
<rect x="418.8" y="199.7" width="0.7" height="0.7" fill="#999"/>
<rect x="424.5" y="185.9" width="0.7" height="0.7" fill="#777"/>
<rect x="422.5" y="194.8" width="0.7" height="0.7" fill="#999"/>
<rect x="421.9" y="189.6" width="0.7" height="0.7" fill="#bbb"/>
<rect x="418.5" y="194.6" width="0.7" height="0.7" fill="#999"/>
<rect x="410.3" y="199.9" width="0.7" height="0.7" fill="#888"/>
<rect x="429.3" y="189.5" width="0.7" height="0.7" fill="#999"/>
<rect x="414.1" y="202.9" width="0.7" height="0.7" fill="#999"/>
<rect x="422.2" y="188.9" width="0.7" height="0.7" fill="#aaa"/>
<rect x="412.6" y="214.3" width="0.7" height="0.7" fill="#bbb"/>
<rect x="413.9" y="199.7" width="0.7" height="0.7" fill="#bbb"/>
<rect x="418.4" y="198.3" width="0.7" height="0.7" fill="#777"/>
<rect x="424.5" y="191.6" width="0.7" height="0.7" fill="#777"/>
<rect x="425.6" y="198.3" width="0.7" height="0.7" fill="#888"/>
<rect x="408.3" y="202.4" width="0.7" height="0.7" fill="#777"/>
<rect x="421.1" y="194.1" width="0.7" height="0.7" fill="#bbb"/>
<rect x="414.5" y="204.9" width="0.7" height="0.7" fill="#777"/>
<rect x="414.6" y="205.2" width="0.7" height="0.7" fill="#777"/>
<rect x="408.4" y="210.5" width="0.7" height="0.7" fill="#777"/>
<rect x="417.2" y="203.4" width="0.7" height="0.7" fill="#888"/>
<rect x="418.1" y="203.2" width="0.7" height="0.7" fill="#999"/>
<rect x="413.3" y="211.0" width="0.7" height="0.7" fill="#888"/>
<rect x="425.9" y="182.8" width="0.7" height="0.7" fill="#999"/>
<rect x="424.7" y="196.4" width="0.7" height="0.7" fill="#bbb"/>
<rect x="412.7" y="213.0" width="0.7" height="0.7" fill="#aaa"/>
<rect x="419.2" y="202.6" width="0.7" height="0.7" fill="#999"/>
<rect x="412.1" y="208.6" width="0.7" height="0.7" fill="#bbb"/>
<rect x="413.0" y="208.3" width="0.7" height="0.7" fill="#888"/>
<rect x="406.7" y="205.9" width="0.7" height="0.7" fill="#aaa"/>
<rect x="415.0" y="214.3" width="0.7" height="0.7" fill="#aaa"/>
<rect x="415.4" y="203.5" width="0.7" height="0.7" fill="#888"/>
<rect x="413.8" y="206.1" width="0.7" height="0.7" fill="#999"/>
<rect x="428.8" y="192.8" width="0.7" height="0.7" fill="#777"/>
<rect x="427.6" y="185.9" width="0.7" height="0.7" fill="#aaa"/>
<rect x="410.4" y="211.0" width="0.7" height="0.7" fill="#777"/>
<rect x="424.2" y="194.6" width="0.7" height="0.7" fill="#aaa"/>
<rect x="416.5" y="190.6" width="0.7" height="0.7" fill="#bbb"/>
<rect x="426.1" y="189.5" width="0.7" height="0.7" fill="#999"/>
<rect x="417.5" y="202.2" width="0.7" height="0.7" fill="#999"/>
<rect x="410.9" y="217.7" width="0.7" height="0.7" fill="#aaa"/>
<rect x="415.2" y="206.4" width="0.7" height="0.7" fill="#aaa"/>
<rect x="423.1" y="195.0" width="0.7" height="0.7" fill="#888"/>
<rect x="421.2" y="191.9" width="0.7" height="0.7" fill="#777"/>
<rect x="421.6" y="188.8" width="0.7" height="0.7" fill="#aaa"/>
<rect x="426.3" y="185.4" width="0.7" height="0.7" fill="#bbb"/>
<rect x="410.7" y="206.0" width="0.7" height="0.7" fill="#aaa"/>
<rect x="413.6" y="208.4" width="0.7" height="0.7" fill="#999"/>
<rect x="411.7" y="213.8" width="0.7" height="0.7" fill="#999"/>
<rect x="424.0" y="194.2" width="0.7" height="0.7" fill="#777"/>
<rect x="412.8" y="212.4" width="0.7" height="0.7" fill="#aaa"/>
<rect x="421.9" y="191.6" width="0.7" height="0.7" fill="#999"/>
<rect x="419.3" y="200.0" width="0.7" height="0.7" fill="#999"/>
<rect x="416.5" y="206.8" width="0.7" height="0.7" fill="#aaa"/>
<rect x="429.3" y="189.1" width="0.7" height="0.7" fill="#999"/>
<rect x="430.6" y="186.0" width="0.7" height="0.7" fill="#777"/>
<rect x="410.6" y="204.1" width="0.7" height="0.7" fill="#bbb"/>
<rect x="433.1" y="181.3" width="0.7" height="0.7" fill="#999"/>
<rect x="423.8" y="187.7" width="0.7" height="0.7" fill="#777"/>
<rect x="429.6" y="184.7" width="0.7" height="0.7" fill="#999"/>
<rect x="423.7" y="199.7" width="0.7" height="0.7" fill="#bbb"/>
<rect x="418.4" y="193.4" width="0.7" height="0.7" fill="#bbb"/>
<rect x="424.1" y="194.9" width="0.7" height="0.7" fill="#999"/>
<rect x="433.3" y="187.3" width="0.7" height="0.7" fill="#aaa"/>
<rect x="407.8" y="207.1" width="0.7" height="0.7" fill="#aaa"/>
<rect x="427.7" y="187.6" width="0.7" height="0.7" fill="#aaa"/>
<rect x="422.0" y="207.0" width="0.7" height="0.7" fill="#aaa"/>
<rect x="425.0" y="190.8" width="0.7" height="0.7" fill="#777"/>
<rect x="411.3" y="211.5" width="0.7" height="0.7" fill="#888"/>
<rect x="417.6" y="207.6" width="0.7" height="0.7" fill="#bbb"/>
<rect x="411.4" y="203.5" width="0.7" height="0.7" fill="#aaa"/>
<rect x="433.6" y="190.0" width="0.7" height="0.7" fill="#bbb"/>
<rect x="426.1" y="180.9" width="0.7" height="0.7" fill="#999"/>
<rect x="419.0" y="204.8" width="0.7" height="0.7" fill="#bbb"/>
<rect x="425.2" y="186.2" width="0.7" height="0.7" fill="#888"/>
<rect x="415.3" y="204.1" width="0.7" height="0.7" fill="#bbb"/>
<rect x="409.6" y="210.5" width="0.7" height="0.7" fill="#aaa"/>
<rect x="415.0" y="204.5" width="0.7" height="0.7" fill="#bbb"/>
<rect x="418.2" y="204.2" width="0.7" height="0.7" fill="#777"/>
<rect x="432.6" y="186.5" width="0.7" height="0.7" fill="#aaa"/>
<rect x="407.0" y="207.1" width="0.7" height="0.7" fill="#999"/>
<rect x="418.1" y="194.5" width="0.7" height="0.7" fill="#777"/>
<rect x="424.7" y="186.9" width="0.7" height="0.7" fill="#bbb"/>
<rect x="419.2" y="203.2" width="0.7" height="0.7" fill="#aaa"/>
<rect x="420.1" y="188.9" width="0.7" height="0.7" fill="#888"/>
<rect x="420.0" y="202.7" width="0.7" height="0.7" fill="#bbb"/>
<rect x="426.6" y="195.7" width="0.7" height="0.7" fill="#777"/>
<rect x="417.7" y="206.7" width="0.7" height="0.7" fill="#aaa"/>
<rect x="425.2" y="188.3" width="0.7" height="0.7" fill="#888"/>
<rect x="413.5" y="204.6" width="0.7" height="0.7" fill="#bbb"/>
<rect x="414.9" y="209.6" width="0.7" height="0.7" fill="#777"/>
<rect x="421.3" y="198.6" width="0.7" height="0.7" fill="#aaa"/>
<rect x="424.2" y="195.8" width="0.7" height="0.7" fill="#aaa"/>
<rect x="413.8" y="208.2" width="0.7" height="0.7" fill="#777"/>
<rect x="425.8" y="182.5" width="0.7" height="0.7" fill="#888"/>
<rect x="413.7" y="202.6" width="0.7" height="0.7" fill="#999"/>
<rect x="433.6" y="186.9" width="0.7" height="0.7" fill="#888"/>
<rect x="410.3" y="214.6" width="0.7" height="0.7" fill="#777"/>
<rect x="424.7" y="197.2" width="0.7" height="0.7" fill="#888"/>
<rect x="415.8" y="206.7" width="0.7" height="0.7" fill="#bbb"/>
<rect x="424.0" y="193.6" width="0.7" height="0.7" fill="#bbb"/>
<rect x="417.4" y="202.1" width="0.7" height="0.7" fill="#888"/>
<rect x="417.9" y="192.5" width="0.7" height="0.7" fill="#777"/>
<rect x="427.1" y="182.7" width="0.7" height="0.7" fill="#bbb"/>
<rect x="426.1" y="194.3" width="0.7" height="0.7" fill="#bbb"/>
<rect x="422.2" y="191.6" width="0.7" height="0.7" fill="#777"/>
<rect x="427.2" y="200.1" width="0.7" height="0.7" fill="#888"/>
<rect x="420.1" y="182.5" width="0.7" height="0.7" fill="#aaa"/>
<rect x="413.8" y="202.9" width="0.7" height="0.7" fill="#aaa"/>
<rect x="413.4" y="207.4" width="0.7" height="0.7" fill="#888"/>
<rect x="427.5" y="194.5" width="0.7" height="0.7" fill="#999"/>
<rect x="415.6" y="195.6" width="0.7" height="0.7" fill="#888"/>
<rect x="424.9" y="178.2" width="0.7" height="0.7" fill="#777"/>
<rect x="406.9" y="209.6" width="0.7" height="0.7" fill="#999"/>
<rect x="426.6" y="191.5" width="0.7" height="0.7" fill="#888"/>
<rect x="421.9" y="197.6" width="0.7" height="0.7" fill="#999"/>
<rect x="417.8" y="202.3" width="0.7" height="0.7" fill="#777"/>
<rect x="415.5" y="192.6" width="0.7" height="0.7" fill="#bbb"/>
<rect x="422.3" y="207.5" width="0.7" height="0.7" fill="#bbb"/>
<rect x="428.5" y="201.0" width="0.7" height="0.7" fill="#999"/>
<rect x="423.9" y="185.8" width="0.7" height="0.7" fill="#777"/>
<rect x="425.0" y="187.1" width="0.7" height="0.7" fill="#999"/>
<rect x="421.5" y="190.5" width="0.7" height="0.7" fill="#aaa"/>
<rect x="420.1" y="195.7" width="0.7" height="0.7" fill="#bbb"/>
<rect x="405.6" y="204.7" width="0.7" height="0.7" fill="#aaa"/>
<rect x="407.1" y="205.4" width="0.7" height="0.7" fill="#aaa"/>
<rect x="410.2" y="206.7" width="0.7" height="0.7" fill="#777"/>
<rect x="418.9" y="204.6" width="0.7" height="0.7" fill="#777"/>
<rect x="415.5" y="209.0" width="0.7" height="0.7" fill="#aaa"/>
<rect x="427.9" y="191.1" width="0.7" height="0.7" fill="#777"/>
<rect x="424.2" y="197.7" width="0.7" height="0.7" fill="#888"/>
<rect x="419.7" y="203.5" width="0.7" height="0.7" fill="#aaa"/>
<rect x="426.8" y="185.2" width="0.7" height="0.7" fill="#999"/>
<rect x="419.4" y="198.6" width="0.7" height="0.7" fill="#777"/>
<rect x="426.2" y="190.4" width="0.7" height="0.7" fill="#888"/>
<rect x="411.4" y="204.5" width="0.7" height="0.7" fill="#bbb"/>
<rect x="421.3" y="199.3" width="0.7" height="0.7" fill="#bbb"/>
<rect x="423.3" y="188.7" width="0.7" height="0.7" fill="#999"/>
<rect x="414.4" y="202.6" width="0.7" height="0.7" fill="#888"/>
<rect x="421.5" y="195.8" width="0.7" height="0.7" fill="#888"/>
<rect x="413.4" y="212.9" width="0.7" height="0.7" fill="#777"/>
<rect x="425.9" y="193.2" width="0.7" height="0.7" fill="#bbb"/>
<rect x="419.0" y="200.9" width="0.7" height="0.7" fill="#bbb"/>
<rect x="414.2" y="204.0" width="0.7" height="0.7" fill="#bbb"/>
<rect x="413.2" y="212.9" width="0.7" height="0.7" fill="#bbb"/>
<rect x="412.6" y="206.6" width="0.7" height="0.7" fill="#888"/>
<rect x="428.1" y="181.2" width="0.7" height="0.7" fill="#999"/>
<rect x="415.1" y="207.1" width="0.7" height="0.7" fill="#888"/>
<rect x="417.3" y="201.6" width="0.7" height="0.7" fill="#bbb"/>
<rect x="415.0" y="205.4" width="0.7" height="0.7" fill="#aaa"/>
<rect x="423.1" y="191.9" width="0.7" height="0.7" fill="#bbb"/>
<rect x="410.3" y="214.9" width="0.7" height="0.7" fill="#999"/>
<rect x="426.7" y="186.1" width="0.7" height="0.7" fill="#888"/>
<rect x="416.2" y="197.0" width="0.7" height="0.7" fill="#999"/>
<rect x="417.9" y="201.3" width="0.7" height="0.7" fill="#bbb"/>
<rect x="429.3" y="188.1" width="0.7" height="0.7" fill="#bbb"/>
<rect x="413.0" y="211.2" width="0.7" height="0.7" fill="#777"/>
<rect x="417.8" y="201.8" width="0.7" height="0.7" fill="#999"/>
<rect x="422.5" y="199.5" width="0.7" height="0.7" fill="#777"/>
<rect x="424.7" y="189.4" width="0.7" height="0.7" fill="#777"/>
<rect x="419.7" y="189.0" width="0.7" height="0.7" fill="#999"/>
<rect x="418.9" y="195.2" width="0.7" height="0.7" fill="#999"/>
<rect x="412.9" y="205.5" width="0.7" height="0.7" fill="#888"/>
<rect x="411.5" y="197.3" width="0.7" height="0.7" fill="#bbb"/>
<rect x="413.9" y="202.2" width="0.7" height="0.7" fill="#888"/>
<rect x="418.1" y="214.5" width="0.7" height="0.7" fill="#bbb"/>
<rect x="423.1" y="181.1" width="0.7" height="0.7" fill="#999"/>
<rect x="403.1" y="211.0" width="0.7" height="0.7" fill="#aaa"/>
<rect x="411.0" y="210.2" width="0.7" height="0.7" fill="#bbb"/>
<rect x="422.3" y="204.6" width="0.7" height="0.7" fill="#999"/>
<rect x="415.5" y="207.9" width="0.7" height="0.7" fill="#777"/>
<rect x="416.4" y="203.5" width="0.7" height="0.7" fill="#aaa"/>
<rect x="423.3" y="211.1" width="0.7" height="0.7" fill="#777"/>
<rect x="425.7" y="205.5" width="0.7" height="0.7" fill="#888"/>
<rect x="411.7" y="204.4" width="0.7" height="0.7" fill="#888"/>
<rect x="412.3" y="208.6" width="0.7" height="0.7" fill="#999"/>
<rect x="420.3" y="203.8" width="0.7" height="0.7" fill="#999"/>
<rect x="413.3" y="207.1" width="0.7" height="0.7" fill="#aaa"/>
<rect x="417.8" y="204.7" width="0.7" height="0.7" fill="#999"/>
<rect x="420.8" y="203.8" width="0.7" height="0.7" fill="#888"/>
<rect x="427.5" y="183.8" width="0.7" height="0.7" fill="#999"/>
<rect x="417.1" y="207.6" width="0.7" height="0.7" fill="#777"/>
<rect x="413.4" y="199.6" width="0.7" height="0.7" fill="#bbb"/>
<rect x="419.4" y="198.0" width="0.7" height="0.7" fill="#888"/>
<rect x="412.1" y="208.9" width="0.7" height="0.7" fill="#999"/>
<rect x="417.5" y="204.6" width="0.7" height="0.7" fill="#999"/>
<rect x="424.1" y="197.8" width="0.7" height="0.7" fill="#bbb"/>
<rect x="404.5" y="213.6" width="0.7" height="0.7" fill="#aaa"/>
<rect x="412.6" y="215.3" width="0.7" height="0.7" fill="#888"/>
<rect x="422.7" y="196.8" width="0.7" height="0.7" fill="#888"/>
<rect x="418.6" y="200.3" width="0.7" height="0.7" fill="#bbb"/>
<rect x="416.0" y="204.8" width="0.7" height="0.7" fill="#aaa"/>
<rect x="416.5" y="202.0" width="0.7" height="0.7" fill="#999"/>
<rect x="416.2" y="206.9" width="0.7" height="0.7" fill="#bbb"/>
<rect x="418.8" y="200.0" width="0.7" height="0.7" fill="#888"/>
<rect x="425.0" y="198.4" width="0.7" height="0.7" fill="#888"/>
<rect x="418.3" y="199.4" width="0.7" height="0.7" fill="#aaa"/>
<rect x="417.6" y="202.2" width="0.7" height="0.7" fill="#aaa"/>
<rect x="424.2" y="191.7" width="0.7" height="0.7" fill="#777"/>
<rect x="410.5" y="215.0" width="0.7" height="0.7" fill="#777"/>
<rect x="417.1" y="198.5" width="0.7" height="0.7" fill="#999"/>
<rect x="413.9" y="200.2" width="0.7" height="0.7" fill="#aaa"/>
<rect x="415.2" y="205.7" width="0.7" height="0.7" fill="#777"/>
<rect x="410.1" y="208.5" width="0.7" height="0.7" fill="#bbb"/>
<rect x="416.1" y="206.0" width="0.7" height="0.7" fill="#999"/>
<rect x="409.9" y="214.6" width="0.7" height="0.7" fill="#999"/>
<rect x="418.8" y="205.4" width="0.7" height="0.7" fill="#777"/>
<rect x="418.0" y="198.1" width="0.7" height="0.7" fill="#999"/>
<rect x="416.4" y="203.7" width="0.7" height="0.7" fill="#777"/>
<rect x="413.1" y="211.5" width="0.7" height="0.7" fill="#aaa"/>
<rect x="419.5" y="198.7" width="0.7" height="0.7" fill="#777"/>
<rect x="413.4" y="207.9" width="0.7" height="0.7" fill="#999"/>
<rect x="418.4" y="195.1" width="0.7" height="0.7" fill="#bbb"/>
<rect x="426.6" y="187.1" width="0.7" height="0.7" fill="#888"/>
<rect x="423.6" y="200.5" width="0.7" height="0.7" fill="#aaa"/>
<rect x="423.5" y="188.8" width="0.7" height="0.7" fill="#888"/>
<rect x="414.3" y="201.7" width="0.7" height="0.7" fill="#bbb"/>
<rect x="424.8" y="195.0" width="0.7" height="0.7" fill="#777"/>
<rect x="415.6" y="198.3" width="0.7" height="0.7" fill="#999"/>
<rect x="416.8" y="190.7" width="0.7" height="0.7" fill="#888"/>
<rect x="408.5" y="211.0" width="0.7" height="0.7" fill="#bbb"/>
<rect x="418.9" y="199.9" width="0.7" height="0.7" fill="#888"/>
<rect x="411.8" y="206.2" width="0.7" height="0.7" fill="#aaa"/>
<rect x="429.5" y="185.8" width="0.7" height="0.7" fill="#aaa"/>
<rect x="413.4" y="212.4" width="0.7" height="0.7" fill="#999"/>
<rect x="409.5" y="210.2" width="0.7" height="0.7" fill="#999"/>
<rect x="424.3" y="187.6" width="0.7" height="0.7" fill="#888"/>
<rect x="423.6" y="199.3" width="0.7" height="0.7" fill="#aaa"/>
<rect x="422.4" y="196.1" width="0.7" height="0.7" fill="#888"/>
<rect x="430.4" y="187.6" width="0.7" height="0.7" fill="#bbb"/>
<rect x="411.7" y="211.8" width="0.7" height="0.7" fill="#bbb"/>
<rect x="421.5" y="188.0" width="0.7" height="0.7" fill="#888"/>
<rect x="413.0" y="209.0" width="0.7" height="0.7" fill="#888"/>
<rect x="426.4" y="200.0" width="0.7" height="0.7" fill="#888"/>
<rect x="429.0" y="189.0" width="0.7" height="0.7" fill="#bbb"/>
<rect x="416.3" y="196.4" width="0.7" height="0.7" fill="#999"/>
<rect x="419.4" y="205.1" width="0.7" height="0.7" fill="#aaa"/>
<rect x="432.3" y="193.4" width="0.7" height="0.7" fill="#888"/>
<rect x="416.7" y="197.5" width="0.7" height="0.7" fill="#888"/>
<rect x="422.7" y="201.0" width="0.7" height="0.7" fill="#999"/>
<rect x="420.5" y="208.6" width="0.7" height="0.7" fill="#999"/>
<rect x="427.2" y="188.9" width="0.7" height="0.7" fill="#777"/>
<rect x="425.5" y="195.1" width="0.7" height="0.7" fill="#bbb"/>
<rect x="422.2" y="184.3" width="0.7" height="0.7" fill="#888"/>
<rect x="410.9" y="202.9" width="0.7" height="0.7" fill="#bbb"/>
<rect x="421.3" y="195.2" width="0.7" height="0.7" fill="#999"/>
<rect x="413.3" y="208.9" width="0.7" height="0.7" fill="#888"/>
<rect x="406.8" y="210.1" width="0.7" height="0.7" fill="#777"/>
<rect x="411.2" y="214.9" width="0.7" height="0.7" fill="#888"/>
<rect x="425.7" y="188.0" width="0.7" height="0.7" fill="#aaa"/>
<rect x="417.7" y="205.3" width="0.7" height="0.7" fill="#777"/>
<rect x="427.1" y="187.0" width="0.7" height="0.7" fill="#888"/>
<rect x="410.2" y="211.1" width="0.7" height="0.7" fill="#999"/>
<rect x="422.3" y="188.0" width="0.7" height="0.7" fill="#999"/>
<rect x="422.0" y="189.6" width="0.7" height="0.7" fill="#999"/>
<rect x="417.9" y="191.4" width="0.7" height="0.7" fill="#aaa"/>
<rect x="427.9" y="188.4" width="0.7" height="0.7" fill="#777"/>
<rect x="418.5" y="207.2" width="0.7" height="0.7" fill="#bbb"/>
<rect x="422.3" y="193.3" width="0.7" height="0.7" fill="#aaa"/>
<rect x="421.6" y="192.6" width="0.7" height="0.7" fill="#888"/>
<rect x="413.4" y="209.0" width="0.7" height="0.7" fill="#aaa"/>
<rect x="417.6" y="204.4" width="0.7" height="0.7" fill="#bbb"/>
<rect x="417.4" y="198.2" width="0.7" height="0.7" fill="#999"/>
<rect x="428.3" y="186.2" width="0.7" height="0.7" fill="#bbb"/>
<rect x="427.9" y="181.7" width="0.7" height="0.7" fill="#aaa"/>
<rect x="426.3" y="188.3" width="0.7" height="0.7" fill="#aaa"/>
<rect x="408.4" y="213.0" width="0.7" height="0.7" fill="#999"/>
<rect x="413.2" y="200.6" width="0.7" height="0.7" fill="#777"/>
<rect x="425.6" y="198.6" width="0.7" height="0.7" fill="#999"/>
<rect x="409.6" y="207.5" width="0.7" height="0.7" fill="#888"/>
<rect x="414.0" y="199.1" width="0.7" height="0.7" fill="#777"/>
<rect x="411.2" y="210.8" width="0.7" height="0.7" fill="#888"/>
<rect x="407.4" y="205.3" width="0.7" height="0.7" fill="#bbb"/>
<rect x="424.8" y="196.2" width="0.7" height="0.7" fill="#888"/>
<rect x="420.9" y="192.0" width="0.7" height="0.7" fill="#aaa"/>
<rect x="424.4" y="199.2" width="0.7" height="0.7" fill="#aaa"/>
<rect x="422.1" y="202.8" width="0.7" height="0.7" fill="#888"/>
<rect x="426.0" y="186.4" width="0.7" height="0.7" fill="#aaa"/>
<rect x="412.1" y="206.5" width="0.7" height="0.7" fill="#bbb"/>
<rect x="423.4" y="195.5" width="0.7" height="0.7" fill="#aaa"/>
<rect x="420.2" y="189.7" width="0.7" height="0.7" fill="#888"/>
<rect x="427.2" y="182.5" width="0.7" height="0.7" fill="#bbb"/>
<rect x="422.9" y="190.7" width="0.7" height="0.7" fill="#bbb"/>
<rect x="431.4" y="188.3" width="0.7" height="0.7" fill="#aaa"/>
<rect x="424.0" y="191.6" width="0.7" height="0.7" fill="#777"/>
<rect x="412.0" y="205.3" width="0.7" height="0.7" fill="#999"/>
<rect x="413.9" y="201.8" width="0.7" height="0.7" fill="#777"/>
<rect x="413.8" y="193.0" width="0.7" height="0.7" fill="#999"/>
<rect x="418.1" y="192.6" width="0.7" height="0.7" fill="#999"/>
<rect x="412.1" y="209.5" width="0.7" height="0.7" fill="#888"/>
<rect x="409.7" y="217.2" width="0.7" height="0.7" fill="#888"/>
<rect x="413.9" y="207.9" width="0.7" height="0.7" fill="#aaa"/>
<rect x="411.9" y="207.5" width="0.7" height="0.7" fill="#777"/>
<rect x="412.2" y="205.8" width="0.7" height="0.7" fill="#999"/>
<rect x="417.3" y="202.5" width="0.7" height="0.7" fill="#aaa"/>
<rect x="417.3" y="211.4" width="0.7" height="0.7" fill="#999"/>
<rect x="410.1" y="213.4" width="0.7" height="0.7" fill="#aaa"/>
<rect x="417.8" y="212.1" width="0.7" height="0.7" fill="#888"/>
<rect x="425.7" y="191.2" width="0.7" height="0.7" fill="#999"/>
<rect x="415.4" y="209.8" width="0.7" height="0.7" fill="#777"/>
<rect x="421.3" y="193.5" width="0.7" height="0.7" fill="#999"/>
<rect x="410.6" y="213.5" width="0.7" height="0.7" fill="#bbb"/>
<rect x="422.1" y="194.9" width="0.7" height="0.7" fill="#bbb"/>
<rect x="415.3" y="205.0" width="0.7" height="0.7" fill="#bbb"/>
<rect x="408.8" y="206.5" width="0.7" height="0.7" fill="#777"/>
<rect x="414.3" y="210.9" width="0.7" height="0.7" fill="#999"/>
<rect x="423.4" y="189.0" width="0.7" height="0.7" fill="#777"/>
<rect x="426.6" y="188.2" width="0.7" height="0.7" fill="#999"/>
<rect x="427.7" y="189.1" width="0.7" height="0.7" fill="#aaa"/>
<rect x="428.5" y="183.2" width="0.7" height="0.7" fill="#777"/>
<rect x="430.0" y="187.3" width="0.7" height="0.7" fill="#999"/>
<rect x="420.9" y="216.3" width="0.7" height="0.7" fill="#777"/>
<rect x="420.0" y="200.4" width="0.7" height="0.7" fill="#aaa"/>
<rect x="414.3" y="204.2" width="0.7" height="0.7" fill="#999"/>
<rect x="413.6" y="211.3" width="0.7" height="0.7" fill="#bbb"/>
<rect x="410.9" y="205.4" width="0.7" height="0.7" fill="#999"/>
<rect x="422.1" y="197.7" width="0.7" height="0.7" fill="#aaa"/>
<rect x="408.1" y="210.1" width="0.7" height="0.7" fill="#999"/>
<rect x="412.6" y="203.1" width="0.7" height="0.7" fill="#bbb"/>
<rect x="421.8" y="202.9" width="0.7" height="0.7" fill="#999"/>
<rect x="423.8" y="201.0" width="0.7" height="0.7" fill="#bbb"/>
<rect x="429.5" y="186.9" width="0.7" height="0.7" fill="#bbb"/>
<rect x="425.1" y="196.6" width="0.7" height="0.7" fill="#777"/>
<rect x="414.4" y="205.0" width="0.7" height="0.7" fill="#bbb"/>
<rect x="422.4" y="205.9" width="0.7" height="0.7" fill="#bbb"/>
<rect x="424.3" y="196.0" width="0.7" height="0.7" fill="#888"/>
<rect x="425.9" y="180.7" width="0.7" height="0.7" fill="#aaa"/>
<rect x="422.5" y="196.8" width="0.7" height="0.7" fill="#aaa"/>
<rect x="407.7" y="208.4" width="0.7" height="0.7" fill="#999"/>
<rect x="424.3" y="198.9" width="0.7" height="0.7" fill="#777"/>
<rect x="418.5" y="197.3" width="0.7" height="0.7" fill="#999"/>
<rect x="427.2" y="184.1" width="0.7" height="0.7" fill="#aaa"/>
<rect x="415.1" y="210.6" width="0.7" height="0.7" fill="#888"/>
<rect x="415.6" y="192.0" width="0.7" height="0.7" fill="#bbb"/>
<rect x="408.5" y="205.5" width="0.7" height="0.7" fill="#777"/>
<rect x="417.0" y="202.9" width="0.7" height="0.7" fill="#888"/>
<rect x="413.6" y="198.2" width="0.7" height="0.7" fill="#999"/>
<rect x="409.5" y="200.4" width="0.7" height="0.7" fill="#999"/>
<rect x="415.5" y="207.3" width="0.7" height="0.7" fill="#777"/>
<rect x="418.1" y="210.3" width="0.7" height="0.7" fill="#888"/>
<rect x="426.1" y="194.6" width="0.7" height="0.7" fill="#888"/>
<rect x="427.0" y="184.7" width="0.7" height="0.7" fill="#aaa"/>
<rect x="425.1" y="180.8" width="0.7" height="0.7" fill="#bbb"/>
<rect x="413.0" y="212.0" width="0.7" height="0.7" fill="#bbb"/>
<rect x="413.2" y="215.0" width="0.7" height="0.7" fill="#aaa"/>
<rect x="418.2" y="199.4" width="0.7" height="0.7" fill="#aaa"/>
<rect x="423.6" y="207.2" width="0.7" height="0.7" fill="#bbb"/>
<rect x="423.1" y="188.5" width="0.7" height="0.7" fill="#888"/>
<rect x="418.7" y="192.8" width="0.7" height="0.7" fill="#aaa"/>
<rect x="419.9" y="197.5" width="0.7" height="0.7" fill="#bbb"/>
<rect x="423.0" y="181.5" width="0.7" height="0.7" fill="#aaa"/>
<rect x="417.5" y="209.7" width="0.7" height="0.7" fill="#888"/>
<rect x="420.0" y="212.4" width="0.7" height="0.7" fill="#888"/>
<line x1="408.30" y1="165.90" x2="408.30" y2="223.70" stroke="#b0b0b0" stroke-width="0.8" />
<line x1="394.80" y1="209.30" x2="453.00" y2="209.30" stroke="#bbb" stroke-width="1.0" />
<rect x="394.80" y="165.90" width="58.20" height="57.80" fill="none" stroke="#b4b4b4" stroke-width="1.1"/>
<line x1="394.80" y1="223.70" x2="453.00" y2="223.70" stroke="#666" stroke-width="1" />
<line x1="394.80" y1="165.90" x2="394.80" y2="223.70" stroke="#888" stroke-width="1" />
<line x1="393.30" y1="223.70" x2="394.80" y2="223.70" stroke="#999" stroke-width="0.6" />
<text transform="translate(388.6,225.1) rotate(-14)" font-size="3.6" fill="#666">10<tspan dy="-1.3" font-size="2.5">0</tspan></text>
<line x1="394.80" y1="223.70" x2="394.80" y2="225.20" stroke="#999" stroke-width="0.6" />
<text transform="translate(392.2,229.3) rotate(-14)" font-size="3.6" fill="#666">10<tspan dy="-1.3" font-size="2.5">0</tspan></text>
<line x1="393.30" y1="209.25" x2="394.80" y2="209.25" stroke="#999" stroke-width="0.6" />
<text transform="translate(388.6,210.7) rotate(-14)" font-size="3.6" fill="#666">10<tspan dy="-1.3" font-size="2.5">1</tspan></text>
<line x1="409.35" y1="223.70" x2="409.35" y2="225.20" stroke="#999" stroke-width="0.6" />
<text transform="translate(406.8,229.3) rotate(-14)" font-size="3.6" fill="#666">10<tspan dy="-1.3" font-size="2.5">1</tspan></text>
<line x1="393.30" y1="194.80" x2="394.80" y2="194.80" stroke="#999" stroke-width="0.6" />
<text transform="translate(388.6,196.2) rotate(-14)" font-size="3.6" fill="#666">10<tspan dy="-1.3" font-size="2.5">2</tspan></text>
<line x1="423.90" y1="223.70" x2="423.90" y2="225.20" stroke="#999" stroke-width="0.6" />
<text transform="translate(421.3,229.3) rotate(-14)" font-size="3.6" fill="#666">10<tspan dy="-1.3" font-size="2.5">2</tspan></text>
<line x1="393.30" y1="180.35" x2="394.80" y2="180.35" stroke="#999" stroke-width="0.6" />
<text transform="translate(388.6,181.8) rotate(-14)" font-size="3.6" fill="#666">10<tspan dy="-1.3" font-size="2.5">3</tspan></text>
<line x1="438.45" y1="223.70" x2="438.45" y2="225.20" stroke="#999" stroke-width="0.6" />
<text transform="translate(435.9,229.3) rotate(-14)" font-size="3.6" fill="#666">10<tspan dy="-1.3" font-size="2.5">3</tspan></text>
<line x1="393.30" y1="165.90" x2="394.80" y2="165.90" stroke="#999" stroke-width="0.6" />
<text transform="translate(388.6,167.3) rotate(-14)" font-size="3.6" fill="#666">10<tspan dy="-1.3" font-size="2.5">4</tspan></text>
<line x1="453.00" y1="223.70" x2="453.00" y2="225.20" stroke="#999" stroke-width="0.6" />
<text transform="translate(450.4,229.3) rotate(-14)" font-size="3.6" fill="#666">10<tspan dy="-1.3" font-size="2.5">4</tspan></text>
<text x="396.6" y="169.7" font-size="3.0" fill="#888">0.47</text>
<text x="446.5" y="169.7" font-size="3.0" fill="#888">0.03</text>
<text x="396.6" y="222.5" font-size="3.0" fill="#888">99.4</text>
<text x="446.5" y="222.5" font-size="3.0" fill="#888">0.10</text>
<rect x="411.8" y="172.7" width="31.5" height="33.1" fill="none" stroke="#555" stroke-width="1.6"/>
<line x1="20.70" y1="236.30" x2="20.70" y2="215.50" stroke="#333" stroke-width="1.2" />
<polygon points="18.70,216.90 22.70,216.90 20.70,211.10" fill="#111"/>
<line x1="20.70" y1="236.00" x2="40.00" y2="236.00" stroke="#333" stroke-width="1.2" />
<polygon points="39.00,234.00 39.00,238.00 44.80,236.00" fill="#111"/>
<text transform="translate(16.4,236.0) rotate(-90)" font-size="8" fill="#111" stroke="#111" stroke-width="0.2">YFP</text>
<text x="21.8" y="242.9" font-size="7.6" font-weight="normal" font-style="normal" fill="#111" text-anchor="start" stroke="#111" stroke-width="0.2" >GFP</text>
<text x="489.6" y="184.4" font-size="8.4" font-weight="normal" font-style="normal" fill="#222" text-anchor="start" stroke="#222" stroke-width="0.2" >FACS</text>
<text x="482.6" y="234.0" font-size="7.9" font-weight="normal" font-style="normal" fill="#222" text-anchor="start" stroke="#222" stroke-width="0.2" >qRT-PCR</text>
<text x="313.2" y="233.2" font-size="9.3" font-weight="bold" font-style="normal" fill="#111" text-anchor="start" >ND13</text>
<text x="1.6" y="15.9" font-size="17.3" font-weight="bold" font-style="normal" fill="#000" text-anchor="start" >A</text>
<text x="1.6" y="282.7" font-size="16" font-weight="bold" font-style="normal" fill="#000" text-anchor="start" >B</text>
<rect x="82.82" y="534.13" width="8.35" height="23.07" fill="#000" stroke="#000" stroke-width="0.9" />
<rect x="92.07" y="338.40" width="8.35" height="218.80" fill="#6e6e6e" stroke="#3c3c3c" stroke-width="0.9" />
<rect x="101.32" y="545.89" width="8.35" height="11.31" fill="#dedede" stroke="#8c8c8c" stroke-width="0.9" />
<rect x="110.57" y="352.51" width="8.35" height="204.69" fill="#fff" stroke="#7a7a7a" stroke-width="0.9" />
<line x1="96.25" y1="312.07" x2="96.25" y2="363.82" stroke="#1a1a1a" stroke-width="0.9" />
<line x1="94.65" y1="312.07" x2="97.84" y2="312.07" stroke="#1a1a1a" stroke-width="1.1" />
<line x1="94.65" y1="363.82" x2="97.84" y2="363.82" stroke="#1a1a1a" stroke-width="1.1" />
<line x1="105.50" y1="538.85" x2="105.50" y2="552.02" stroke="#1a1a1a" stroke-width="0.9" />
<line x1="103.90" y1="538.85" x2="107.09" y2="538.85" stroke="#1a1a1a" stroke-width="1.1" />
<line x1="103.90" y1="552.02" x2="107.09" y2="552.02" stroke="#1a1a1a" stroke-width="1.1" />
<line x1="114.75" y1="332.07" x2="114.75" y2="372.06" stroke="#1a1a1a" stroke-width="0.9" />
<line x1="113.15" y1="332.07" x2="116.34" y2="332.07" stroke="#1a1a1a" stroke-width="1.1" />
<line x1="113.15" y1="372.06" x2="116.34" y2="372.06" stroke="#1a1a1a" stroke-width="1.1" />
<text x="100.60" y="576.0" font-size="10" font-weight="bold" font-style="italic" fill="#111" text-anchor="middle" >Dlk1</text>
<rect x="133.27" y="534.13" width="8.35" height="23.07" fill="#000" stroke="#000" stroke-width="0.9" />
<rect x="142.52" y="411.56" width="8.35" height="145.64" fill="#6e6e6e" stroke="#3c3c3c" stroke-width="0.9" />
<rect x="151.77" y="552.71" width="8.35" height="4.49" fill="#dedede" stroke="#8c8c8c" stroke-width="0.9" />
<rect x="161.02" y="423.32" width="8.35" height="133.88" fill="#fff" stroke="#7a7a7a" stroke-width="0.9" />
<line x1="146.70" y1="385.23" x2="146.70" y2="436.99" stroke="#1a1a1a" stroke-width="0.9" />
<line x1="145.10" y1="385.23" x2="148.30" y2="385.23" stroke="#1a1a1a" stroke-width="1.1" />
<line x1="145.10" y1="436.99" x2="148.30" y2="436.99" stroke="#1a1a1a" stroke-width="1.1" />
<line x1="155.95" y1="549.91" x2="155.95" y2="554.61" stroke="#1a1a1a" stroke-width="0.9" />
<line x1="154.35" y1="549.91" x2="157.55" y2="549.91" stroke="#1a1a1a" stroke-width="1.1" />
<line x1="154.35" y1="554.61" x2="157.55" y2="554.61" stroke="#1a1a1a" stroke-width="1.1" />
<line x1="165.20" y1="406.40" x2="165.20" y2="439.34" stroke="#1a1a1a" stroke-width="0.9" />
<line x1="163.60" y1="406.40" x2="166.80" y2="406.40" stroke="#1a1a1a" stroke-width="1.1" />
<line x1="163.60" y1="439.34" x2="166.80" y2="439.34" stroke="#1a1a1a" stroke-width="1.1" />
<text x="151.05" y="576.0" font-size="10" font-weight="bold" font-style="italic" fill="#111" text-anchor="middle" >Trib2</text>
<rect x="183.72" y="534.13" width="8.35" height="23.07" fill="#000" stroke="#000" stroke-width="0.9" />
<rect x="192.97" y="482.37" width="8.35" height="74.83" fill="#6e6e6e" stroke="#3c3c3c" stroke-width="0.9" />
<rect x="202.22" y="552.00" width="8.35" height="5.20" fill="#dedede" stroke="#8c8c8c" stroke-width="0.9" />
<rect x="211.47" y="491.54" width="8.35" height="65.66" fill="#fff" stroke="#7a7a7a" stroke-width="0.9" />
<line x1="197.15" y1="478.16" x2="197.15" y2="485.68" stroke="#1a1a1a" stroke-width="0.9" />
<line x1="195.55" y1="478.16" x2="198.75" y2="478.16" stroke="#1a1a1a" stroke-width="1.1" />
<line x1="195.55" y1="485.68" x2="198.75" y2="485.68" stroke="#1a1a1a" stroke-width="1.1" />
<line x1="206.40" y1="546.85" x2="206.40" y2="556.26" stroke="#1a1a1a" stroke-width="0.9" />
<line x1="204.80" y1="546.85" x2="208.00" y2="546.85" stroke="#1a1a1a" stroke-width="1.1" />
<line x1="204.80" y1="556.26" x2="208.00" y2="556.26" stroke="#1a1a1a" stroke-width="1.1" />
<line x1="215.65" y1="475.80" x2="215.65" y2="506.39" stroke="#1a1a1a" stroke-width="0.9" />
<line x1="214.05" y1="475.80" x2="217.25" y2="475.80" stroke="#1a1a1a" stroke-width="1.1" />
<line x1="214.05" y1="506.39" x2="217.25" y2="506.39" stroke="#1a1a1a" stroke-width="1.1" />
<text x="201.50" y="576.0" font-size="10" font-weight="bold" font-style="italic" fill="#111" text-anchor="middle" >Flt3</text>
<rect x="234.17" y="534.13" width="8.35" height="23.07" fill="#000" stroke="#000" stroke-width="0.9" />
<rect x="243.42" y="397.68" width="8.35" height="159.52" fill="#6e6e6e" stroke="#3c3c3c" stroke-width="0.9" />
<rect x="252.67" y="549.89" width="8.35" height="7.31" fill="#dedede" stroke="#8c8c8c" stroke-width="0.9" />
<rect x="261.92" y="409.21" width="8.35" height="147.99" fill="#fff" stroke="#7a7a7a" stroke-width="0.9" />
<line x1="247.60" y1="366.65" x2="247.60" y2="427.81" stroke="#1a1a1a" stroke-width="0.9" />
<line x1="246.00" y1="366.65" x2="249.20" y2="366.65" stroke="#1a1a1a" stroke-width="1.1" />
<line x1="246.00" y1="427.81" x2="249.20" y2="427.81" stroke="#1a1a1a" stroke-width="1.1" />
<line x1="256.85" y1="542.85" x2="256.85" y2="556.02" stroke="#1a1a1a" stroke-width="0.9" />
<line x1="255.25" y1="542.85" x2="258.45" y2="542.85" stroke="#1a1a1a" stroke-width="1.1" />
<line x1="255.25" y1="556.02" x2="258.45" y2="556.02" stroke="#1a1a1a" stroke-width="1.1" />
<line x1="266.10" y1="400.76" x2="266.10" y2="416.76" stroke="#1a1a1a" stroke-width="0.9" />
<line x1="264.50" y1="400.76" x2="267.70" y2="400.76" stroke="#1a1a1a" stroke-width="1.1" />
<line x1="264.50" y1="416.76" x2="267.70" y2="416.76" stroke="#1a1a1a" stroke-width="1.1" />
<text x="251.95" y="576.0" font-size="10" font-weight="bold" font-style="italic" fill="#111" text-anchor="middle" >Rgs1</text>
<rect x="284.62" y="534.13" width="8.35" height="23.07" fill="#000" stroke="#000" stroke-width="0.9" />
<rect x="293.87" y="504.01" width="8.35" height="53.19" fill="#6e6e6e" stroke="#3c3c3c" stroke-width="0.9" />
<rect x="303.12" y="538.59" width="8.35" height="18.61" fill="#dedede" stroke="#8c8c8c" stroke-width="0.9" />
<rect x="312.37" y="505.42" width="8.35" height="51.78" fill="#fff" stroke="#7a7a7a" stroke-width="0.9" />
<line x1="298.05" y1="482.16" x2="298.05" y2="524.97" stroke="#1a1a1a" stroke-width="0.9" />
<line x1="296.45" y1="482.16" x2="299.65" y2="482.16" stroke="#1a1a1a" stroke-width="1.1" />
<line x1="296.45" y1="524.97" x2="299.65" y2="524.97" stroke="#1a1a1a" stroke-width="1.1" />
<line x1="307.30" y1="531.09" x2="307.30" y2="545.20" stroke="#1a1a1a" stroke-width="0.9" />
<line x1="305.70" y1="531.09" x2="308.90" y2="531.09" stroke="#1a1a1a" stroke-width="1.1" />
<line x1="305.70" y1="545.20" x2="308.90" y2="545.20" stroke="#1a1a1a" stroke-width="1.1" />
<line x1="316.55" y1="492.04" x2="316.55" y2="517.91" stroke="#1a1a1a" stroke-width="0.9" />
<line x1="314.95" y1="492.04" x2="318.15" y2="492.04" stroke="#1a1a1a" stroke-width="1.1" />
<line x1="314.95" y1="517.91" x2="318.15" y2="517.91" stroke="#1a1a1a" stroke-width="1.1" />
<text x="302.40" y="576.0" font-size="10" font-weight="bold" font-style="italic" fill="#111" text-anchor="middle" >Ccl3</text>
<rect x="335.07" y="534.13" width="8.35" height="23.07" fill="#000" stroke="#000" stroke-width="0.9" />
<rect x="344.32" y="404.27" width="8.35" height="152.93" fill="#6e6e6e" stroke="#3c3c3c" stroke-width="0.9" />
<rect x="353.57" y="550.59" width="8.35" height="6.61" fill="#dedede" stroke="#8c8c8c" stroke-width="0.9" />
<rect x="362.82" y="416.26" width="8.35" height="140.94" fill="#fff" stroke="#7a7a7a" stroke-width="0.9" />
<line x1="348.50" y1="377.94" x2="348.50" y2="429.69" stroke="#1a1a1a" stroke-width="0.9" />
<line x1="346.89" y1="377.94" x2="350.10" y2="377.94" stroke="#1a1a1a" stroke-width="1.1" />
<line x1="346.89" y1="429.69" x2="350.10" y2="429.69" stroke="#1a1a1a" stroke-width="1.1" />
<line x1="357.75" y1="543.09" x2="357.75" y2="557.20" stroke="#1a1a1a" stroke-width="0.9" />
<line x1="356.14" y1="543.09" x2="359.35" y2="543.09" stroke="#1a1a1a" stroke-width="1.1" />
<line x1="356.14" y1="557.20" x2="359.35" y2="557.20" stroke="#1a1a1a" stroke-width="1.1" />
<line x1="367.00" y1="409.23" x2="367.00" y2="422.40" stroke="#1a1a1a" stroke-width="0.9" />
<line x1="365.39" y1="409.23" x2="368.60" y2="409.23" stroke="#1a1a1a" stroke-width="1.1" />
<line x1="365.39" y1="422.40" x2="368.60" y2="422.40" stroke="#1a1a1a" stroke-width="1.1" />
<text x="352.85" y="576.0" font-size="10" font-weight="bold" font-style="italic" fill="#111" text-anchor="middle" >Hlf</text>
<rect x="385.52" y="534.13" width="8.35" height="23.07" fill="#000" stroke="#000" stroke-width="0.9" />
<rect x="394.77" y="468.25" width="8.35" height="88.95" fill="#6e6e6e" stroke="#3c3c3c" stroke-width="0.9" />
<rect x="404.02" y="544.48" width="8.35" height="12.72" fill="#dedede" stroke="#8c8c8c" stroke-width="0.9" />
<rect x="413.27" y="470.61" width="8.35" height="86.59" fill="#fff" stroke="#7a7a7a" stroke-width="0.9" />
<line x1="398.95" y1="459.81" x2="398.95" y2="475.80" stroke="#1a1a1a" stroke-width="0.9" />
<line x1="397.35" y1="459.81" x2="400.55" y2="459.81" stroke="#1a1a1a" stroke-width="1.1" />
<line x1="397.35" y1="475.80" x2="400.55" y2="475.80" stroke="#1a1a1a" stroke-width="1.1" />
<line x1="408.20" y1="538.62" x2="408.20" y2="549.44" stroke="#1a1a1a" stroke-width="0.9" />
<line x1="406.60" y1="538.62" x2="409.80" y2="538.62" stroke="#1a1a1a" stroke-width="1.1" />
<line x1="406.60" y1="549.44" x2="409.80" y2="549.44" stroke="#1a1a1a" stroke-width="1.1" />
<line x1="417.45" y1="456.51" x2="417.45" y2="483.80" stroke="#1a1a1a" stroke-width="0.9" />
<line x1="415.85" y1="456.51" x2="419.05" y2="456.51" stroke="#1a1a1a" stroke-width="1.1" />
<line x1="415.85" y1="483.80" x2="419.05" y2="483.80" stroke="#1a1a1a" stroke-width="1.1" />
<text x="403.30" y="576.0" font-size="10" font-weight="bold" font-style="italic" fill="#111" text-anchor="middle" >c-myb</text>
<rect x="435.97" y="534.13" width="8.35" height="23.07" fill="#000" stroke="#000" stroke-width="0.9" />
<rect x="445.22" y="532.71" width="8.35" height="24.49" fill="#6e6e6e" stroke="#3c3c3c" stroke-width="0.9" />
<rect x="454.47" y="533.65" width="8.35" height="23.55" fill="#dedede" stroke="#8c8c8c" stroke-width="0.9" />
<rect x="463.72" y="535.30" width="8.35" height="21.90" fill="#fff" stroke="#7a7a7a" stroke-width="0.9" />
<line x1="449.40" y1="531.56" x2="449.40" y2="532.97" stroke="#1a1a1a" stroke-width="0.9" />
<line x1="447.80" y1="531.56" x2="451.00" y2="531.56" stroke="#1a1a1a" stroke-width="1.1" />
<line x1="447.80" y1="532.97" x2="451.00" y2="532.97" stroke="#1a1a1a" stroke-width="1.1" />
<line x1="458.65" y1="530.85" x2="458.65" y2="535.56" stroke="#1a1a1a" stroke-width="0.9" />
<line x1="457.05" y1="530.85" x2="460.25" y2="530.85" stroke="#1a1a1a" stroke-width="1.1" />
<line x1="457.05" y1="535.56" x2="460.25" y2="535.56" stroke="#1a1a1a" stroke-width="1.1" />
<line x1="467.90" y1="523.79" x2="467.90" y2="545.91" stroke="#1a1a1a" stroke-width="0.9" />
<line x1="466.30" y1="523.79" x2="469.50" y2="523.79" stroke="#1a1a1a" stroke-width="1.1" />
<line x1="466.30" y1="545.91" x2="469.50" y2="545.91" stroke="#1a1a1a" stroke-width="1.1" />
<text x="453.75" y="576.0" font-size="10" font-weight="bold" font-style="italic" fill="#111" text-anchor="middle" >Zfx1</text>
<line x1="75.40" y1="274.90" x2="478.60" y2="274.90" stroke="#222" stroke-width="1.5" />
<line x1="478.90" y1="274.15" x2="478.90" y2="559.70" stroke="#222" stroke-width="2.0" />
<line x1="75.40" y1="274.15" x2="75.40" y2="557.95" stroke="#111" stroke-width="1.5" />
<line x1="74.65" y1="557.20" x2="478.60" y2="557.20" stroke="#111" stroke-width="1.5" />
<line x1="72.20" y1="557.20" x2="75.40" y2="557.20" stroke="#111" stroke-width="1.2" />
<text x="66.8" y="560.80" font-size="10" font-weight="bold" font-style="normal" fill="#111" text-anchor="end" >0</text>
<line x1="72.20" y1="510.15" x2="75.40" y2="510.15" stroke="#111" stroke-width="1.2" />
<text x="66.8" y="513.75" font-size="10" font-weight="bold" font-style="normal" fill="#111" text-anchor="end" >2</text>
<line x1="72.20" y1="463.10" x2="75.40" y2="463.10" stroke="#111" stroke-width="1.2" />
<text x="66.8" y="466.70" font-size="10" font-weight="bold" font-style="normal" fill="#111" text-anchor="end" >4</text>
<line x1="72.20" y1="416.05" x2="75.40" y2="416.05" stroke="#111" stroke-width="1.2" />
<text x="66.8" y="419.65" font-size="10" font-weight="bold" font-style="normal" fill="#111" text-anchor="end" >6</text>
<line x1="72.20" y1="369.00" x2="75.40" y2="369.00" stroke="#111" stroke-width="1.2" />
<text x="66.8" y="372.60" font-size="10" font-weight="bold" font-style="normal" fill="#111" text-anchor="end" >8</text>
<line x1="72.20" y1="321.95" x2="75.40" y2="321.95" stroke="#111" stroke-width="1.2" />
<text x="66.8" y="325.55" font-size="10" font-weight="bold" font-style="normal" fill="#111" text-anchor="end" >10</text>
<line x1="72.20" y1="274.90" x2="75.40" y2="274.90" stroke="#111" stroke-width="1.2" />
<text x="66.8" y="278.50" font-size="10" font-weight="bold" font-style="normal" fill="#111" text-anchor="end" >12</text>
<line x1="75.40" y1="557.20" x2="75.40" y2="560.40" stroke="#111" stroke-width="1.1" />
<line x1="125.80" y1="557.20" x2="125.80" y2="560.40" stroke="#111" stroke-width="1.1" />
<line x1="176.20" y1="557.20" x2="176.20" y2="560.40" stroke="#111" stroke-width="1.1" />
<line x1="226.60" y1="557.20" x2="226.60" y2="560.40" stroke="#111" stroke-width="1.1" />
<line x1="277.00" y1="557.20" x2="277.00" y2="560.40" stroke="#111" stroke-width="1.1" />
<line x1="327.40" y1="557.20" x2="327.40" y2="560.40" stroke="#111" stroke-width="1.1" />
<line x1="377.80" y1="557.20" x2="377.80" y2="560.40" stroke="#111" stroke-width="1.1" />
<line x1="428.20" y1="557.20" x2="428.20" y2="560.40" stroke="#111" stroke-width="1.1" />
<line x1="478.60" y1="557.20" x2="478.60" y2="560.40" stroke="#111" stroke-width="1.1" />
<text transform="translate(47.8,513.8) rotate(-90)" font-size="14.1" fill="#111">Fold change relative to <tspan font-style="italic">ND13</tspan></text>
<rect x="355.30" y="279.00" width="119.20" height="63.00" fill="#fff" stroke="#8a8a8a" stroke-width="1.0" />
<rect x="359.60" y="285.30" width="3.80" height="3.60" fill="#000" stroke="#000" stroke-width="0.7" />
<text x="366.6" y="289.80" font-size="9.1" font-weight="bold" font-style="italic" fill="#111" text-anchor="start" >ND13</text>
<rect x="359.60" y="300.60" width="3.80" height="3.60" fill="#6e6e6e" stroke="#444" stroke-width="0.7" />
<text x="366.6" y="305.10" font-size="9.1" font-weight="bold" font-style="italic" fill="#111" text-anchor="start" >ND13+Meis1+MIY</text>
<rect x="359.60" y="315.90" width="3.80" height="3.60" fill="#e2e2e2" stroke="#888" stroke-width="0.7" />
<text x="366.6" y="320.40" font-size="9.1" font-weight="bold" font-style="italic" fill="#111" text-anchor="start" >ND13+Meis1+M33-Meis1</text>
<rect x="359.60" y="331.20" width="3.80" height="3.60" fill="#fff" stroke="#777" stroke-width="0.7" />
<text x="366.6" y="335.70" font-size="9.1" font-weight="bold" font-style="italic" fill="#111" text-anchor="start" >ND13+Meis1+M33</text>
</svg>
</body></html>
